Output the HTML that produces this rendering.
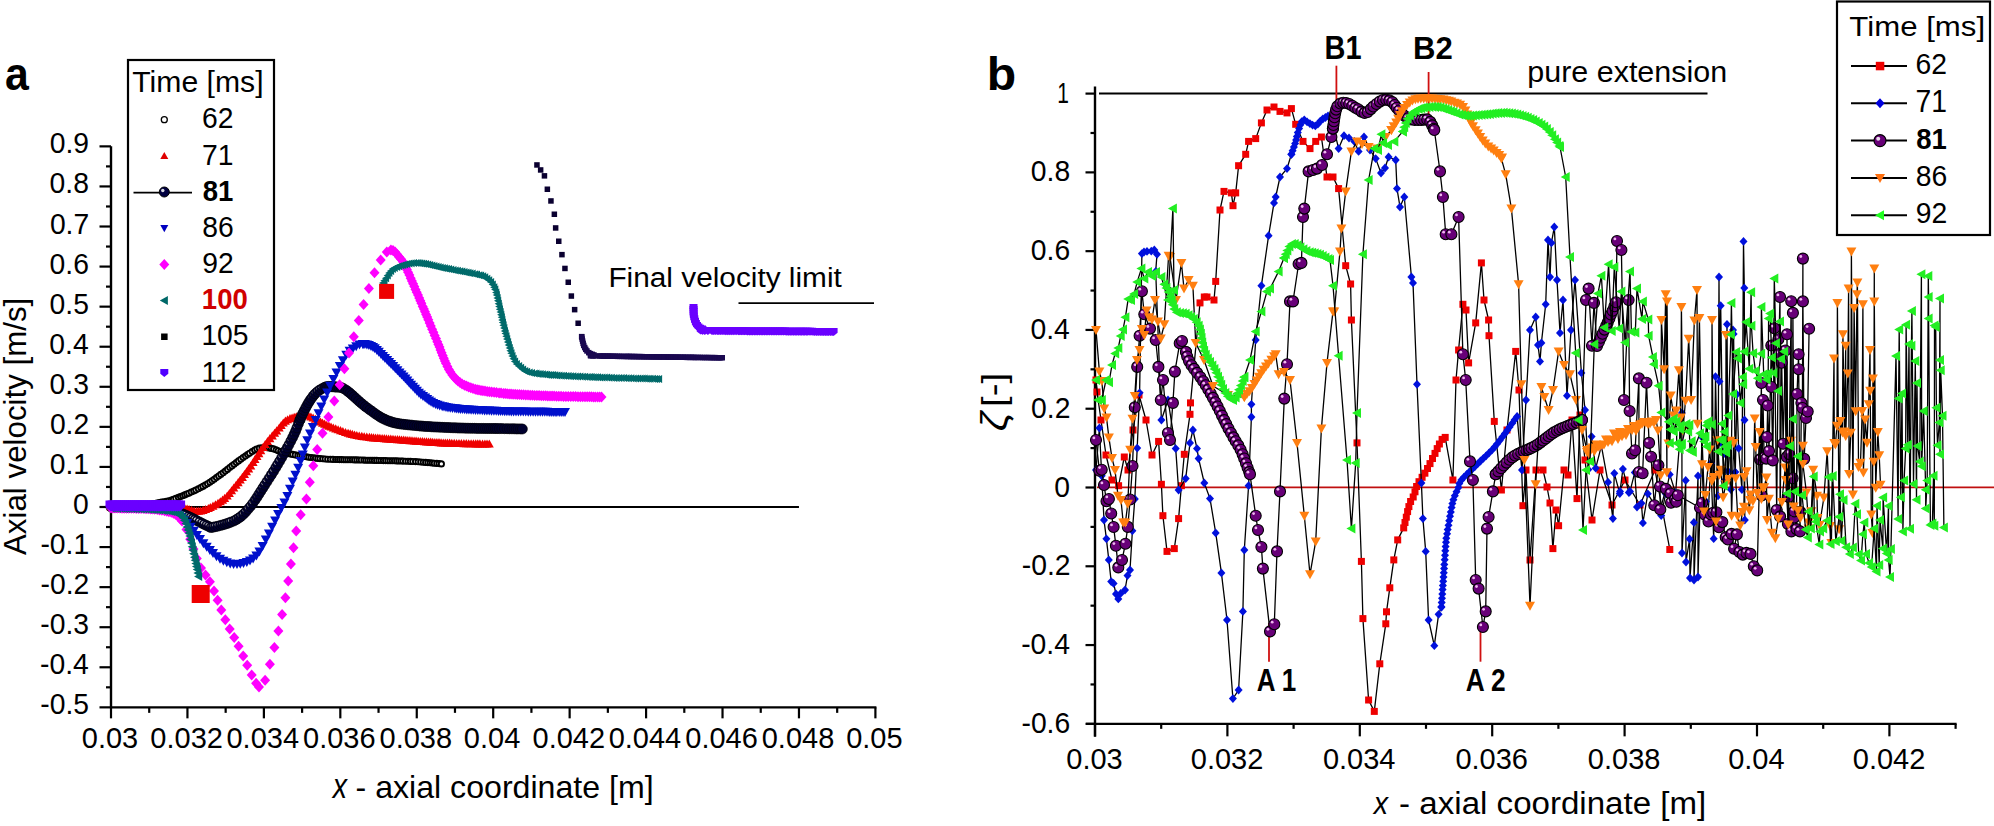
<!DOCTYPE html>
<html><head><meta charset="utf-8"><style>
html,body{margin:0;padding:0;background:#fff;width:1994px;height:826px;overflow:hidden}
svg{display:block}
text{font-family:"Liberation Sans",Arial,sans-serif}
text.B{font-weight:bold}
text.I{font-style:italic}
</style></head><body>
<svg width="1994" height="826" viewBox="0 0 1994 826">
<rect width="1994" height="826" fill="#fff"/>
<line x1="111.00" y1="146.37" x2="111.00" y2="708.35" stroke="#000" stroke-width="2.4"/>
<line x1="110.00" y1="707.35" x2="876.40" y2="707.35" stroke="#000" stroke-width="2.4"/>
<line x1="99.50" y1="707.35" x2="111.00" y2="707.35" stroke="#000" stroke-width="2.2"/>
<line x1="106.00" y1="687.32" x2="111.00" y2="687.32" stroke="#000" stroke-width="2.2"/>
<line x1="99.50" y1="667.28" x2="111.00" y2="667.28" stroke="#000" stroke-width="2.2"/>
<line x1="106.00" y1="647.25" x2="111.00" y2="647.25" stroke="#000" stroke-width="2.2"/>
<line x1="99.50" y1="627.21" x2="111.00" y2="627.21" stroke="#000" stroke-width="2.2"/>
<line x1="106.00" y1="607.17" x2="111.00" y2="607.17" stroke="#000" stroke-width="2.2"/>
<line x1="99.50" y1="587.14" x2="111.00" y2="587.14" stroke="#000" stroke-width="2.2"/>
<line x1="106.00" y1="567.11" x2="111.00" y2="567.11" stroke="#000" stroke-width="2.2"/>
<line x1="99.50" y1="547.07" x2="111.00" y2="547.07" stroke="#000" stroke-width="2.2"/>
<line x1="106.00" y1="527.03" x2="111.00" y2="527.03" stroke="#000" stroke-width="2.2"/>
<line x1="99.50" y1="507.00" x2="111.00" y2="507.00" stroke="#000" stroke-width="2.2"/>
<line x1="106.00" y1="486.96" x2="111.00" y2="486.96" stroke="#000" stroke-width="2.2"/>
<line x1="99.50" y1="466.93" x2="111.00" y2="466.93" stroke="#000" stroke-width="2.2"/>
<line x1="106.00" y1="446.89" x2="111.00" y2="446.89" stroke="#000" stroke-width="2.2"/>
<line x1="99.50" y1="426.86" x2="111.00" y2="426.86" stroke="#000" stroke-width="2.2"/>
<line x1="106.00" y1="406.82" x2="111.00" y2="406.82" stroke="#000" stroke-width="2.2"/>
<line x1="99.50" y1="386.79" x2="111.00" y2="386.79" stroke="#000" stroke-width="2.2"/>
<line x1="106.00" y1="366.75" x2="111.00" y2="366.75" stroke="#000" stroke-width="2.2"/>
<line x1="99.50" y1="346.72" x2="111.00" y2="346.72" stroke="#000" stroke-width="2.2"/>
<line x1="106.00" y1="326.69" x2="111.00" y2="326.69" stroke="#000" stroke-width="2.2"/>
<line x1="99.50" y1="306.65" x2="111.00" y2="306.65" stroke="#000" stroke-width="2.2"/>
<line x1="106.00" y1="286.62" x2="111.00" y2="286.62" stroke="#000" stroke-width="2.2"/>
<line x1="99.50" y1="266.58" x2="111.00" y2="266.58" stroke="#000" stroke-width="2.2"/>
<line x1="106.00" y1="246.55" x2="111.00" y2="246.55" stroke="#000" stroke-width="2.2"/>
<line x1="99.50" y1="226.51" x2="111.00" y2="226.51" stroke="#000" stroke-width="2.2"/>
<line x1="106.00" y1="206.48" x2="111.00" y2="206.48" stroke="#000" stroke-width="2.2"/>
<line x1="99.50" y1="186.44" x2="111.00" y2="186.44" stroke="#000" stroke-width="2.2"/>
<line x1="106.00" y1="166.40" x2="111.00" y2="166.40" stroke="#000" stroke-width="2.2"/>
<line x1="99.50" y1="146.37" x2="111.00" y2="146.37" stroke="#000" stroke-width="2.2"/>
<line x1="111.00" y1="707.35" x2="111.00" y2="718.35" stroke="#000" stroke-width="2.2"/>
<line x1="149.22" y1="707.35" x2="149.22" y2="712.85" stroke="#000" stroke-width="2.2"/>
<line x1="187.44" y1="707.35" x2="187.44" y2="718.35" stroke="#000" stroke-width="2.2"/>
<line x1="225.66" y1="707.35" x2="225.66" y2="712.85" stroke="#000" stroke-width="2.2"/>
<line x1="263.88" y1="707.35" x2="263.88" y2="718.35" stroke="#000" stroke-width="2.2"/>
<line x1="302.10" y1="707.35" x2="302.10" y2="712.85" stroke="#000" stroke-width="2.2"/>
<line x1="340.32" y1="707.35" x2="340.32" y2="718.35" stroke="#000" stroke-width="2.2"/>
<line x1="378.54" y1="707.35" x2="378.54" y2="712.85" stroke="#000" stroke-width="2.2"/>
<line x1="416.76" y1="707.35" x2="416.76" y2="718.35" stroke="#000" stroke-width="2.2"/>
<line x1="454.98" y1="707.35" x2="454.98" y2="712.85" stroke="#000" stroke-width="2.2"/>
<line x1="493.20" y1="707.35" x2="493.20" y2="718.35" stroke="#000" stroke-width="2.2"/>
<line x1="531.42" y1="707.35" x2="531.42" y2="712.85" stroke="#000" stroke-width="2.2"/>
<line x1="569.64" y1="707.35" x2="569.64" y2="718.35" stroke="#000" stroke-width="2.2"/>
<line x1="607.86" y1="707.35" x2="607.86" y2="712.85" stroke="#000" stroke-width="2.2"/>
<line x1="646.08" y1="707.35" x2="646.08" y2="718.35" stroke="#000" stroke-width="2.2"/>
<line x1="684.30" y1="707.35" x2="684.30" y2="712.85" stroke="#000" stroke-width="2.2"/>
<line x1="722.52" y1="707.35" x2="722.52" y2="718.35" stroke="#000" stroke-width="2.2"/>
<line x1="760.74" y1="707.35" x2="760.74" y2="712.85" stroke="#000" stroke-width="2.2"/>
<line x1="798.96" y1="707.35" x2="798.96" y2="718.35" stroke="#000" stroke-width="2.2"/>
<line x1="837.18" y1="707.35" x2="837.18" y2="712.85" stroke="#000" stroke-width="2.2"/>
<line x1="875.40" y1="707.35" x2="875.40" y2="718.35" stroke="#000" stroke-width="2.2"/>
<line x1="111.00" y1="507.00" x2="798.96" y2="507.00" stroke="#000" stroke-width="1.8"/>
<line x1="1095.00" y1="86.60" x2="1095.00" y2="736.84" stroke="#000" stroke-width="2.4"/>
<line x1="1086.00" y1="723.84" x2="1956.60" y2="723.84" stroke="#000" stroke-width="2.4"/>
<line x1="1085.50" y1="723.84" x2="1095.00" y2="723.84" stroke="#000" stroke-width="2.2"/>
<line x1="1090.50" y1="684.45" x2="1095.00" y2="684.45" stroke="#000" stroke-width="2.2"/>
<line x1="1085.50" y1="645.06" x2="1095.00" y2="645.06" stroke="#000" stroke-width="2.2"/>
<line x1="1090.50" y1="605.67" x2="1095.00" y2="605.67" stroke="#000" stroke-width="2.2"/>
<line x1="1085.50" y1="566.28" x2="1095.00" y2="566.28" stroke="#000" stroke-width="2.2"/>
<line x1="1090.50" y1="526.89" x2="1095.00" y2="526.89" stroke="#000" stroke-width="2.2"/>
<line x1="1085.50" y1="487.50" x2="1095.00" y2="487.50" stroke="#000" stroke-width="2.2"/>
<line x1="1090.50" y1="448.11" x2="1095.00" y2="448.11" stroke="#000" stroke-width="2.2"/>
<line x1="1085.50" y1="408.72" x2="1095.00" y2="408.72" stroke="#000" stroke-width="2.2"/>
<line x1="1090.50" y1="369.33" x2="1095.00" y2="369.33" stroke="#000" stroke-width="2.2"/>
<line x1="1085.50" y1="329.94" x2="1095.00" y2="329.94" stroke="#000" stroke-width="2.2"/>
<line x1="1090.50" y1="290.55" x2="1095.00" y2="290.55" stroke="#000" stroke-width="2.2"/>
<line x1="1085.50" y1="251.16" x2="1095.00" y2="251.16" stroke="#000" stroke-width="2.2"/>
<line x1="1090.50" y1="211.77" x2="1095.00" y2="211.77" stroke="#000" stroke-width="2.2"/>
<line x1="1085.50" y1="172.38" x2="1095.00" y2="172.38" stroke="#000" stroke-width="2.2"/>
<line x1="1090.50" y1="132.99" x2="1095.00" y2="132.99" stroke="#000" stroke-width="2.2"/>
<line x1="1085.50" y1="93.60" x2="1095.00" y2="93.60" stroke="#000" stroke-width="2.2"/>
<line x1="1095.00" y1="723.84" x2="1095.00" y2="736.34" stroke="#000" stroke-width="2.2"/>
<line x1="1161.20" y1="723.84" x2="1161.20" y2="728.84" stroke="#000" stroke-width="2.2"/>
<line x1="1227.40" y1="723.84" x2="1227.40" y2="736.34" stroke="#000" stroke-width="2.2"/>
<line x1="1293.60" y1="723.84" x2="1293.60" y2="728.84" stroke="#000" stroke-width="2.2"/>
<line x1="1359.80" y1="723.84" x2="1359.80" y2="736.34" stroke="#000" stroke-width="2.2"/>
<line x1="1426.00" y1="723.84" x2="1426.00" y2="728.84" stroke="#000" stroke-width="2.2"/>
<line x1="1492.20" y1="723.84" x2="1492.20" y2="736.34" stroke="#000" stroke-width="2.2"/>
<line x1="1558.40" y1="723.84" x2="1558.40" y2="728.84" stroke="#000" stroke-width="2.2"/>
<line x1="1624.60" y1="723.84" x2="1624.60" y2="736.34" stroke="#000" stroke-width="2.2"/>
<line x1="1690.80" y1="723.84" x2="1690.80" y2="728.84" stroke="#000" stroke-width="2.2"/>
<line x1="1757.00" y1="723.84" x2="1757.00" y2="736.34" stroke="#000" stroke-width="2.2"/>
<line x1="1823.20" y1="723.84" x2="1823.20" y2="728.84" stroke="#000" stroke-width="2.2"/>
<line x1="1889.40" y1="723.84" x2="1889.40" y2="736.34" stroke="#000" stroke-width="2.2"/>
<line x1="1955.60" y1="723.84" x2="1955.60" y2="728.84" stroke="#000" stroke-width="2.2"/>
<text x="40.26" y="714.36" font-size="29.01" textLength="48.77" lengthAdjust="spacingAndGlyphs" fill="#000" class="R" >-0.5</text>
<text x="39.97" y="674.29" font-size="29.01" textLength="48.77" lengthAdjust="spacingAndGlyphs" fill="#000" class="R" >-0.4</text>
<text x="40.26" y="634.22" font-size="29.01" textLength="48.77" lengthAdjust="spacingAndGlyphs" fill="#000" class="R" >-0.3</text>
<text x="40.54" y="594.15" font-size="29.01" textLength="48.77" lengthAdjust="spacingAndGlyphs" fill="#000" class="R" >-0.2</text>
<text x="40.40" y="554.08" font-size="29.01" textLength="48.77" lengthAdjust="spacingAndGlyphs" fill="#000" class="R" >-0.1</text>
<text x="73.08" y="514.01" font-size="29.01" textLength="15.74" lengthAdjust="spacingAndGlyphs" fill="#000" class="R" >0</text>
<text x="49.74" y="473.94" font-size="29.01" textLength="39.34" lengthAdjust="spacingAndGlyphs" fill="#000" class="R" >0.1</text>
<text x="49.88" y="433.87" font-size="29.01" textLength="39.34" lengthAdjust="spacingAndGlyphs" fill="#000" class="R" >0.2</text>
<text x="49.59" y="393.80" font-size="29.01" textLength="39.34" lengthAdjust="spacingAndGlyphs" fill="#000" class="R" >0.3</text>
<text x="49.31" y="353.73" font-size="29.01" textLength="39.34" lengthAdjust="spacingAndGlyphs" fill="#000" class="R" >0.4</text>
<text x="49.59" y="313.66" font-size="29.01" textLength="39.34" lengthAdjust="spacingAndGlyphs" fill="#000" class="R" >0.5</text>
<text x="49.59" y="273.59" font-size="29.01" textLength="39.34" lengthAdjust="spacingAndGlyphs" fill="#000" class="R" >0.6</text>
<text x="49.88" y="233.52" font-size="29.01" textLength="39.34" lengthAdjust="spacingAndGlyphs" fill="#000" class="R" >0.7</text>
<text x="49.59" y="193.45" font-size="29.01" textLength="39.34" lengthAdjust="spacingAndGlyphs" fill="#000" class="R" >0.8</text>
<text x="49.74" y="153.38" font-size="29.01" textLength="39.34" lengthAdjust="spacingAndGlyphs" fill="#000" class="R" >0.9</text>
<text x="81.80" y="747.90" font-size="29.86" textLength="56.44" lengthAdjust="spacingAndGlyphs" fill="#000" class="R" >0.03</text>
<text x="150.34" y="747.90" font-size="29.86" textLength="72.57" lengthAdjust="spacingAndGlyphs" fill="#000" class="R" >0.032</text>
<text x="226.49" y="747.90" font-size="29.86" textLength="72.57" lengthAdjust="spacingAndGlyphs" fill="#000" class="R" >0.034</text>
<text x="303.07" y="747.90" font-size="29.86" textLength="72.57" lengthAdjust="spacingAndGlyphs" fill="#000" class="R" >0.036</text>
<text x="379.51" y="747.90" font-size="29.86" textLength="72.57" lengthAdjust="spacingAndGlyphs" fill="#000" class="R" >0.038</text>
<text x="463.85" y="747.90" font-size="29.86" textLength="56.44" lengthAdjust="spacingAndGlyphs" fill="#000" class="R" >0.04</text>
<text x="532.53" y="747.90" font-size="29.86" textLength="72.57" lengthAdjust="spacingAndGlyphs" fill="#000" class="R" >0.042</text>
<text x="608.68" y="747.90" font-size="29.86" textLength="72.57" lengthAdjust="spacingAndGlyphs" fill="#000" class="R" >0.044</text>
<text x="685.27" y="747.90" font-size="29.86" textLength="72.57" lengthAdjust="spacingAndGlyphs" fill="#000" class="R" >0.046</text>
<text x="761.71" y="747.90" font-size="29.86" textLength="72.57" lengthAdjust="spacingAndGlyphs" fill="#000" class="R" >0.048</text>
<text x="846.20" y="747.90" font-size="29.86" textLength="56.44" lengthAdjust="spacingAndGlyphs" fill="#000" class="R" >0.05</text>
<text x="1021.46" y="732.95" font-size="29.30" textLength="48.77" lengthAdjust="spacingAndGlyphs" fill="#000" class="R" >-0.6</text>
<text x="1021.17" y="654.17" font-size="29.30" textLength="48.77" lengthAdjust="spacingAndGlyphs" fill="#000" class="R" >-0.4</text>
<text x="1021.74" y="575.39" font-size="29.30" textLength="48.77" lengthAdjust="spacingAndGlyphs" fill="#000" class="R" >-0.2</text>
<text x="1054.28" y="496.61" font-size="29.30" textLength="15.74" lengthAdjust="spacingAndGlyphs" fill="#000" class="R" >0</text>
<text x="1031.08" y="417.83" font-size="29.30" textLength="39.34" lengthAdjust="spacingAndGlyphs" fill="#000" class="R" >0.2</text>
<text x="1030.51" y="339.05" font-size="29.30" textLength="39.34" lengthAdjust="spacingAndGlyphs" fill="#000" class="R" >0.4</text>
<text x="1030.79" y="260.27" font-size="29.30" textLength="39.34" lengthAdjust="spacingAndGlyphs" fill="#000" class="R" >0.6</text>
<text x="1030.79" y="181.49" font-size="29.30" textLength="39.34" lengthAdjust="spacingAndGlyphs" fill="#000" class="R" >0.8</text>
<text x="1057.29" y="103.00" font-size="30.14" textLength="11.68" lengthAdjust="spacingAndGlyphs" fill="#000" class="R" >1</text>
<text x="1066.30" y="769.00" font-size="29.58" textLength="56.44" lengthAdjust="spacingAndGlyphs" fill="#000" class="R" >0.03</text>
<text x="1190.80" y="769.00" font-size="29.58" textLength="72.57" lengthAdjust="spacingAndGlyphs" fill="#000" class="R" >0.032</text>
<text x="1322.91" y="769.00" font-size="29.58" textLength="72.57" lengthAdjust="spacingAndGlyphs" fill="#000" class="R" >0.034</text>
<text x="1455.45" y="769.00" font-size="29.58" textLength="72.57" lengthAdjust="spacingAndGlyphs" fill="#000" class="R" >0.036</text>
<text x="1587.85" y="769.00" font-size="29.58" textLength="72.57" lengthAdjust="spacingAndGlyphs" fill="#000" class="R" >0.038</text>
<text x="1728.15" y="769.00" font-size="29.58" textLength="56.44" lengthAdjust="spacingAndGlyphs" fill="#000" class="R" >0.04</text>
<text x="1852.79" y="769.00" font-size="29.58" textLength="72.57" lengthAdjust="spacingAndGlyphs" fill="#000" class="R" >0.042</text>
<text x="5.12" y="89.55" font-size="45.45" textLength="23.81" lengthAdjust="spacingAndGlyphs" fill="#000" class="B" >a</text>
<text x="986.87" y="89.54" font-size="45.71" textLength="29.39" lengthAdjust="spacingAndGlyphs" fill="#000" class="B" >b</text>
<text transform="translate(25.54,555.00) rotate(-90)" x="0" y="0" font-size="31.23" textLength="257.32" lengthAdjust="spacingAndGlyphs" fill="#000" class="R" >Axial velocity [m/s]</text>
<text x="332.84" y="798.40" font-size="35.09" textLength="14.30" lengthAdjust="spacingAndGlyphs" fill="#000" class="I" >x</text>
<text x="355.55" y="797.71" font-size="30.91" textLength="298.06" lengthAdjust="spacingAndGlyphs" fill="#000" class="R" >- axial coordinate [m]</text>
<text x="1373.74" y="814.20" font-size="30.75" textLength="14.30" lengthAdjust="spacingAndGlyphs" fill="#000" class="I" >x</text>
<text x="1399.11" y="813.76" font-size="32.09" textLength="307.17" lengthAdjust="spacingAndGlyphs" fill="#000" class="R" >- axial coordinate [m]</text>
<text x="608.42" y="287.01" font-size="27.59" textLength="233.39" lengthAdjust="spacingAndGlyphs" fill="#000" class="R" >Final velocity limit</text>
<line x1="738.50" y1="303.20" x2="874.00" y2="303.20" stroke="#000" stroke-width="1.8"/>
<text x="1527.32" y="81.94" font-size="28.88" textLength="199.77" lengthAdjust="spacingAndGlyphs" fill="#000" class="R" >pure extension</text>
<line x1="1099.00" y1="93.60" x2="1707.50" y2="93.60" stroke="#000" stroke-width="2.0"/>
<text x="1324.52" y="58.90" font-size="32.61" textLength="37.00" lengthAdjust="spacingAndGlyphs" fill="#000" class="B" >B1</text>
<text x="1412.98" y="58.90" font-size="32.14" textLength="39.77" lengthAdjust="spacingAndGlyphs" fill="#000" class="B" >B2</text>
<line x1="1336.40" y1="65.70" x2="1336.40" y2="104.30" stroke="#d01010" stroke-width="1.8"/>
<line x1="1428.60" y1="72.00" x2="1428.60" y2="118.60" stroke="#d01010" stroke-width="1.8"/>
<text x="1256.85" y="690.80" font-size="31.59" textLength="39.47" lengthAdjust="spacingAndGlyphs" fill="#000" class="B" >A 1</text>
<line x1="1269.00" y1="623.00" x2="1269.00" y2="661.70" stroke="#d01010" stroke-width="1.8"/>
<text x="1465.84" y="690.80" font-size="31.14" textLength="39.88" lengthAdjust="spacingAndGlyphs" fill="#000" class="B" >A 2</text>
<line x1="1480.50" y1="623.00" x2="1480.50" y2="661.70" stroke="#d01010" stroke-width="1.8"/>
<text transform="translate(1005.13,406.99) rotate(-90)" x="0" y="0" font-size="32.73" textLength="34.12" lengthAdjust="spacingAndGlyphs" fill="#000" class="R" >[-]</text>
<text transform="translate(1007.44,431.26) rotate(-90)" x="0" y="0" font-size="36.46" textLength="19.51" lengthAdjust="spacingAndGlyphs" fill="#000" class="I" >ζ</text>
<circle cx="111.0" cy="507.0" r="2.6" fill="#fff" stroke="#000" stroke-width="1.9"/>
<circle cx="113.2" cy="506.9" r="2.6" fill="#fff" stroke="#000" stroke-width="1.9"/>
<circle cx="115.4" cy="506.9" r="2.6" fill="#fff" stroke="#000" stroke-width="1.9"/>
<circle cx="118.1" cy="506.9" r="2.6" fill="#fff" stroke="#000" stroke-width="1.9"/>
<circle cx="120.2" cy="506.8" r="2.6" fill="#fff" stroke="#000" stroke-width="1.9"/>
<circle cx="122.5" cy="506.8" r="2.6" fill="#fff" stroke="#000" stroke-width="1.9"/>
<circle cx="124.9" cy="506.7" r="2.6" fill="#fff" stroke="#000" stroke-width="1.9"/>
<circle cx="127.3" cy="506.7" r="2.6" fill="#fff" stroke="#000" stroke-width="1.9"/>
<circle cx="129.8" cy="506.6" r="2.6" fill="#fff" stroke="#000" stroke-width="1.9"/>
<circle cx="132.2" cy="506.5" r="2.6" fill="#fff" stroke="#000" stroke-width="1.9"/>
<circle cx="134.5" cy="506.4" r="2.6" fill="#fff" stroke="#000" stroke-width="1.9"/>
<circle cx="136.7" cy="506.3" r="2.6" fill="#fff" stroke="#000" stroke-width="1.9"/>
<circle cx="138.7" cy="506.1" r="2.6" fill="#fff" stroke="#000" stroke-width="1.9"/>
<circle cx="140.8" cy="505.9" r="2.6" fill="#fff" stroke="#000" stroke-width="1.9"/>
<circle cx="143.2" cy="505.6" r="2.6" fill="#fff" stroke="#000" stroke-width="1.9"/>
<circle cx="145.5" cy="505.3" r="2.6" fill="#fff" stroke="#000" stroke-width="1.9"/>
<circle cx="147.8" cy="504.9" r="2.6" fill="#fff" stroke="#000" stroke-width="1.9"/>
<circle cx="150.1" cy="504.5" r="2.6" fill="#fff" stroke="#000" stroke-width="1.9"/>
<circle cx="152.2" cy="504.1" r="2.6" fill="#fff" stroke="#000" stroke-width="1.9"/>
<circle cx="154.3" cy="503.6" r="2.6" fill="#fff" stroke="#000" stroke-width="1.9"/>
<circle cx="156.9" cy="503.1" r="2.6" fill="#fff" stroke="#000" stroke-width="1.9"/>
<circle cx="159.3" cy="502.5" r="2.6" fill="#fff" stroke="#000" stroke-width="1.9"/>
<circle cx="161.5" cy="502.1" r="2.6" fill="#fff" stroke="#000" stroke-width="1.9"/>
<circle cx="163.9" cy="501.7" r="2.6" fill="#fff" stroke="#000" stroke-width="1.9"/>
<circle cx="166.3" cy="501.3" r="2.6" fill="#fff" stroke="#000" stroke-width="1.9"/>
<circle cx="168.8" cy="500.8" r="2.6" fill="#fff" stroke="#000" stroke-width="1.9"/>
<circle cx="171.4" cy="500.0" r="2.6" fill="#fff" stroke="#000" stroke-width="1.9"/>
<circle cx="173.4" cy="499.3" r="2.6" fill="#fff" stroke="#000" stroke-width="1.9"/>
<circle cx="175.8" cy="498.4" r="2.6" fill="#fff" stroke="#000" stroke-width="1.9"/>
<circle cx="178.4" cy="497.4" r="2.6" fill="#fff" stroke="#000" stroke-width="1.9"/>
<circle cx="180.5" cy="496.6" r="2.6" fill="#fff" stroke="#000" stroke-width="1.9"/>
<circle cx="182.6" cy="495.8" r="2.6" fill="#fff" stroke="#000" stroke-width="1.9"/>
<circle cx="184.7" cy="494.9" r="2.6" fill="#fff" stroke="#000" stroke-width="1.9"/>
<circle cx="186.7" cy="494.0" r="2.6" fill="#fff" stroke="#000" stroke-width="1.9"/>
<circle cx="188.8" cy="493.2" r="2.6" fill="#fff" stroke="#000" stroke-width="1.9"/>
<circle cx="191.2" cy="492.1" r="2.6" fill="#fff" stroke="#000" stroke-width="1.9"/>
<circle cx="193.7" cy="491.1" r="2.6" fill="#fff" stroke="#000" stroke-width="1.9"/>
<circle cx="195.8" cy="490.1" r="2.6" fill="#fff" stroke="#000" stroke-width="1.9"/>
<circle cx="198.3" cy="488.8" r="2.6" fill="#fff" stroke="#000" stroke-width="1.9"/>
<circle cx="200.7" cy="487.6" r="2.6" fill="#fff" stroke="#000" stroke-width="1.9"/>
<circle cx="202.9" cy="486.4" r="2.6" fill="#fff" stroke="#000" stroke-width="1.9"/>
<circle cx="205.2" cy="485.1" r="2.6" fill="#fff" stroke="#000" stroke-width="1.9"/>
<circle cx="207.5" cy="483.7" r="2.6" fill="#fff" stroke="#000" stroke-width="1.9"/>
<circle cx="209.8" cy="482.3" r="2.6" fill="#fff" stroke="#000" stroke-width="1.9"/>
<circle cx="212.0" cy="480.8" r="2.6" fill="#fff" stroke="#000" stroke-width="1.9"/>
<circle cx="214.2" cy="479.2" r="2.6" fill="#fff" stroke="#000" stroke-width="1.9"/>
<circle cx="216.4" cy="477.6" r="2.6" fill="#fff" stroke="#000" stroke-width="1.9"/>
<circle cx="218.6" cy="476.0" r="2.6" fill="#fff" stroke="#000" stroke-width="1.9"/>
<circle cx="220.8" cy="474.4" r="2.6" fill="#fff" stroke="#000" stroke-width="1.9"/>
<circle cx="223.1" cy="472.8" r="2.6" fill="#fff" stroke="#000" stroke-width="1.9"/>
<circle cx="225.3" cy="471.1" r="2.6" fill="#fff" stroke="#000" stroke-width="1.9"/>
<circle cx="227.5" cy="469.4" r="2.6" fill="#fff" stroke="#000" stroke-width="1.9"/>
<circle cx="229.7" cy="467.6" r="2.6" fill="#fff" stroke="#000" stroke-width="1.9"/>
<circle cx="231.9" cy="465.9" r="2.6" fill="#fff" stroke="#000" stroke-width="1.9"/>
<circle cx="234.1" cy="464.2" r="2.6" fill="#fff" stroke="#000" stroke-width="1.9"/>
<circle cx="236.3" cy="462.6" r="2.6" fill="#fff" stroke="#000" stroke-width="1.9"/>
<circle cx="238.5" cy="460.9" r="2.6" fill="#fff" stroke="#000" stroke-width="1.9"/>
<circle cx="240.8" cy="459.2" r="2.6" fill="#fff" stroke="#000" stroke-width="1.9"/>
<circle cx="243.1" cy="457.6" r="2.6" fill="#fff" stroke="#000" stroke-width="1.9"/>
<circle cx="245.4" cy="456.0" r="2.6" fill="#fff" stroke="#000" stroke-width="1.9"/>
<circle cx="247.5" cy="454.5" r="2.6" fill="#fff" stroke="#000" stroke-width="1.9"/>
<circle cx="249.5" cy="453.2" r="2.6" fill="#fff" stroke="#000" stroke-width="1.9"/>
<circle cx="252.1" cy="451.6" r="2.6" fill="#fff" stroke="#000" stroke-width="1.9"/>
<circle cx="254.6" cy="450.1" r="2.6" fill="#fff" stroke="#000" stroke-width="1.9"/>
<circle cx="256.9" cy="449.0" r="2.6" fill="#fff" stroke="#000" stroke-width="1.9"/>
<circle cx="259.3" cy="448.1" r="2.6" fill="#fff" stroke="#000" stroke-width="1.9"/>
<circle cx="261.9" cy="447.7" r="2.6" fill="#fff" stroke="#000" stroke-width="1.9"/>
<circle cx="264.4" cy="447.6" r="2.6" fill="#fff" stroke="#000" stroke-width="1.9"/>
<circle cx="267.1" cy="447.8" r="2.6" fill="#fff" stroke="#000" stroke-width="1.9"/>
<circle cx="269.2" cy="448.0" r="2.6" fill="#fff" stroke="#000" stroke-width="1.9"/>
<circle cx="271.3" cy="448.4" r="2.6" fill="#fff" stroke="#000" stroke-width="1.9"/>
<circle cx="273.6" cy="448.9" r="2.6" fill="#fff" stroke="#000" stroke-width="1.9"/>
<circle cx="276.1" cy="449.8" r="2.6" fill="#fff" stroke="#000" stroke-width="1.9"/>
<circle cx="278.2" cy="450.7" r="2.6" fill="#fff" stroke="#000" stroke-width="1.9"/>
<circle cx="280.7" cy="451.6" r="2.6" fill="#fff" stroke="#000" stroke-width="1.9"/>
<circle cx="283.1" cy="452.3" r="2.6" fill="#fff" stroke="#000" stroke-width="1.9"/>
<circle cx="286.0" cy="453.0" r="2.6" fill="#fff" stroke="#000" stroke-width="1.9"/>
<circle cx="288.0" cy="453.4" r="2.6" fill="#fff" stroke="#000" stroke-width="1.9"/>
<circle cx="290.2" cy="453.9" r="2.6" fill="#fff" stroke="#000" stroke-width="1.9"/>
<circle cx="292.6" cy="454.4" r="2.6" fill="#fff" stroke="#000" stroke-width="1.9"/>
<circle cx="295.2" cy="454.9" r="2.6" fill="#fff" stroke="#000" stroke-width="1.9"/>
<circle cx="297.9" cy="455.4" r="2.6" fill="#fff" stroke="#000" stroke-width="1.9"/>
<circle cx="300.0" cy="455.7" r="2.6" fill="#fff" stroke="#000" stroke-width="1.9"/>
<circle cx="302.1" cy="456.1" r="2.6" fill="#fff" stroke="#000" stroke-width="1.9"/>
<circle cx="304.3" cy="456.5" r="2.6" fill="#fff" stroke="#000" stroke-width="1.9"/>
<circle cx="306.5" cy="456.8" r="2.6" fill="#fff" stroke="#000" stroke-width="1.9"/>
<circle cx="308.7" cy="457.2" r="2.6" fill="#fff" stroke="#000" stroke-width="1.9"/>
<circle cx="311.0" cy="457.5" r="2.6" fill="#fff" stroke="#000" stroke-width="1.9"/>
<circle cx="313.3" cy="457.8" r="2.6" fill="#fff" stroke="#000" stroke-width="1.9"/>
<circle cx="315.5" cy="458.1" r="2.6" fill="#fff" stroke="#000" stroke-width="1.9"/>
<circle cx="317.8" cy="458.4" r="2.6" fill="#fff" stroke="#000" stroke-width="1.9"/>
<circle cx="320.0" cy="458.6" r="2.6" fill="#fff" stroke="#000" stroke-width="1.9"/>
<circle cx="322.6" cy="458.8" r="2.6" fill="#fff" stroke="#000" stroke-width="1.9"/>
<circle cx="325.1" cy="459.0" r="2.6" fill="#fff" stroke="#000" stroke-width="1.9"/>
<circle cx="327.7" cy="459.2" r="2.6" fill="#fff" stroke="#000" stroke-width="1.9"/>
<circle cx="330.3" cy="459.3" r="2.6" fill="#fff" stroke="#000" stroke-width="1.9"/>
<circle cx="332.9" cy="459.4" r="2.6" fill="#fff" stroke="#000" stroke-width="1.9"/>
<circle cx="335.6" cy="459.5" r="2.6" fill="#fff" stroke="#000" stroke-width="1.9"/>
<circle cx="337.6" cy="459.5" r="2.6" fill="#fff" stroke="#000" stroke-width="1.9"/>
<circle cx="339.6" cy="459.6" r="2.6" fill="#fff" stroke="#000" stroke-width="1.9"/>
<circle cx="341.7" cy="459.6" r="2.6" fill="#fff" stroke="#000" stroke-width="1.9"/>
<circle cx="343.8" cy="459.7" r="2.6" fill="#fff" stroke="#000" stroke-width="1.9"/>
<circle cx="345.9" cy="459.7" r="2.6" fill="#fff" stroke="#000" stroke-width="1.9"/>
<circle cx="348.0" cy="459.7" r="2.6" fill="#fff" stroke="#000" stroke-width="1.9"/>
<circle cx="350.2" cy="459.8" r="2.6" fill="#fff" stroke="#000" stroke-width="1.9"/>
<circle cx="352.4" cy="459.8" r="2.6" fill="#fff" stroke="#000" stroke-width="1.9"/>
<circle cx="354.6" cy="459.9" r="2.6" fill="#fff" stroke="#000" stroke-width="1.9"/>
<circle cx="356.9" cy="459.9" r="2.6" fill="#fff" stroke="#000" stroke-width="1.9"/>
<circle cx="359.2" cy="460.0" r="2.6" fill="#fff" stroke="#000" stroke-width="1.9"/>
<circle cx="361.3" cy="460.0" r="2.6" fill="#fff" stroke="#000" stroke-width="1.9"/>
<circle cx="363.9" cy="460.1" r="2.6" fill="#fff" stroke="#000" stroke-width="1.9"/>
<circle cx="365.9" cy="460.2" r="2.6" fill="#fff" stroke="#000" stroke-width="1.9"/>
<circle cx="368.0" cy="460.2" r="2.6" fill="#fff" stroke="#000" stroke-width="1.9"/>
<circle cx="370.1" cy="460.3" r="2.6" fill="#fff" stroke="#000" stroke-width="1.9"/>
<circle cx="372.2" cy="460.3" r="2.6" fill="#fff" stroke="#000" stroke-width="1.9"/>
<circle cx="374.4" cy="460.4" r="2.6" fill="#fff" stroke="#000" stroke-width="1.9"/>
<circle cx="376.6" cy="460.4" r="2.6" fill="#fff" stroke="#000" stroke-width="1.9"/>
<circle cx="378.9" cy="460.5" r="2.6" fill="#fff" stroke="#000" stroke-width="1.9"/>
<circle cx="381.1" cy="460.5" r="2.6" fill="#fff" stroke="#000" stroke-width="1.9"/>
<circle cx="383.4" cy="460.6" r="2.6" fill="#fff" stroke="#000" stroke-width="1.9"/>
<circle cx="385.6" cy="460.6" r="2.6" fill="#fff" stroke="#000" stroke-width="1.9"/>
<circle cx="387.9" cy="460.7" r="2.6" fill="#fff" stroke="#000" stroke-width="1.9"/>
<circle cx="390.1" cy="460.7" r="2.6" fill="#fff" stroke="#000" stroke-width="1.9"/>
<circle cx="392.3" cy="460.8" r="2.6" fill="#fff" stroke="#000" stroke-width="1.9"/>
<circle cx="394.5" cy="460.8" r="2.6" fill="#fff" stroke="#000" stroke-width="1.9"/>
<circle cx="396.7" cy="460.9" r="2.6" fill="#fff" stroke="#000" stroke-width="1.9"/>
<circle cx="398.8" cy="461.0" r="2.6" fill="#fff" stroke="#000" stroke-width="1.9"/>
<circle cx="400.9" cy="461.0" r="2.6" fill="#fff" stroke="#000" stroke-width="1.9"/>
<circle cx="402.9" cy="461.1" r="2.6" fill="#fff" stroke="#000" stroke-width="1.9"/>
<circle cx="405.5" cy="461.2" r="2.6" fill="#fff" stroke="#000" stroke-width="1.9"/>
<circle cx="408.0" cy="461.3" r="2.6" fill="#fff" stroke="#000" stroke-width="1.9"/>
<circle cx="410.4" cy="461.4" r="2.6" fill="#fff" stroke="#000" stroke-width="1.9"/>
<circle cx="412.8" cy="461.5" r="2.6" fill="#fff" stroke="#000" stroke-width="1.9"/>
<circle cx="415.5" cy="461.6" r="2.6" fill="#fff" stroke="#000" stroke-width="1.9"/>
<circle cx="418.1" cy="461.8" r="2.6" fill="#fff" stroke="#000" stroke-width="1.9"/>
<circle cx="420.7" cy="462.0" r="2.6" fill="#fff" stroke="#000" stroke-width="1.9"/>
<circle cx="423.2" cy="462.2" r="2.6" fill="#fff" stroke="#000" stroke-width="1.9"/>
<circle cx="425.6" cy="462.4" r="2.6" fill="#fff" stroke="#000" stroke-width="1.9"/>
<circle cx="427.9" cy="462.6" r="2.6" fill="#fff" stroke="#000" stroke-width="1.9"/>
<circle cx="430.2" cy="462.8" r="2.6" fill="#fff" stroke="#000" stroke-width="1.9"/>
<circle cx="432.3" cy="463.0" r="2.6" fill="#fff" stroke="#000" stroke-width="1.9"/>
<circle cx="434.3" cy="463.2" r="2.6" fill="#fff" stroke="#000" stroke-width="1.9"/>
<circle cx="436.8" cy="463.4" r="2.6" fill="#fff" stroke="#000" stroke-width="1.9"/>
<circle cx="439.1" cy="463.6" r="2.6" fill="#fff" stroke="#000" stroke-width="1.9"/>
<circle cx="441.4" cy="463.9" r="2.6" fill="#fff" stroke="#000" stroke-width="1.9"/>
<path d="M111.0 502.5L115.5 510.6L106.5 510.6Z" fill="#ee0000"/>
<path d="M113.1 502.5L117.6 510.6L108.6 510.6Z" fill="#ee0000"/>
<path d="M115.1 502.6L119.6 510.7L110.6 510.7Z" fill="#ee0000"/>
<path d="M117.5 502.6L122.0 510.7L113.0 510.7Z" fill="#ee0000"/>
<path d="M120.2 502.6L124.7 510.7L115.7 510.7Z" fill="#ee0000"/>
<path d="M122.4 502.6L126.9 510.7L117.9 510.7Z" fill="#ee0000"/>
<path d="M124.6 502.7L129.1 510.8L120.1 510.8Z" fill="#ee0000"/>
<path d="M126.9 502.7L131.4 510.8L122.4 510.8Z" fill="#ee0000"/>
<path d="M129.3 502.7L133.8 510.8L124.8 510.8Z" fill="#ee0000"/>
<path d="M131.8 502.8L136.3 510.9L127.3 510.9Z" fill="#ee0000"/>
<path d="M134.2 502.8L138.7 510.9L129.7 510.9Z" fill="#ee0000"/>
<path d="M136.7 502.8L141.2 510.9L132.2 510.9Z" fill="#ee0000"/>
<path d="M139.1 502.9L143.6 511.0L134.6 511.0Z" fill="#ee0000"/>
<path d="M141.4 502.9L145.9 511.0L136.9 511.0Z" fill="#ee0000"/>
<path d="M143.7 502.9L148.2 511.0L139.2 511.0Z" fill="#ee0000"/>
<path d="M145.9 502.9L150.4 511.0L141.4 511.0Z" fill="#ee0000"/>
<path d="M148.0 503.0L152.5 511.1L143.5 511.1Z" fill="#ee0000"/>
<path d="M150.8 503.0L155.3 511.1L146.3 511.1Z" fill="#ee0000"/>
<path d="M153.1 503.0L157.6 511.1L148.6 511.1Z" fill="#ee0000"/>
<path d="M155.4 503.1L159.9 511.2L150.9 511.2Z" fill="#ee0000"/>
<path d="M157.7 503.1L162.2 511.2L153.2 511.2Z" fill="#ee0000"/>
<path d="M160.0 503.1L164.5 511.2L155.5 511.2Z" fill="#ee0000"/>
<path d="M162.2 503.1L166.7 511.2L157.7 511.2Z" fill="#ee0000"/>
<path d="M164.5 503.1L169.0 511.2L160.0 511.2Z" fill="#ee0000"/>
<path d="M166.6 503.1L171.1 511.2L162.1 511.2Z" fill="#ee0000"/>
<path d="M168.7 503.1L173.2 511.2L164.2 511.2Z" fill="#ee0000"/>
<path d="M170.8 503.1L175.3 511.2L166.3 511.2Z" fill="#ee0000"/>
<path d="M172.8 503.2L177.3 511.3L168.3 511.3Z" fill="#ee0000"/>
<path d="M175.4 503.2L179.9 511.3L170.9 511.3Z" fill="#ee0000"/>
<path d="M177.9 503.3L182.4 511.4L173.4 511.4Z" fill="#ee0000"/>
<path d="M180.3 503.4L184.8 511.5L175.8 511.5Z" fill="#ee0000"/>
<path d="M182.3 503.6L186.8 511.7L177.8 511.7Z" fill="#ee0000"/>
<path d="M184.8 503.9L189.3 512.0L180.3 512.0Z" fill="#ee0000"/>
<path d="M187.1 504.4L191.6 512.5L182.6 512.5Z" fill="#ee0000"/>
<path d="M189.1 505.0L193.6 513.1L184.6 513.1Z" fill="#ee0000"/>
<path d="M191.6 505.7L196.1 513.8L187.1 513.8Z" fill="#ee0000"/>
<path d="M194.1 506.4L198.6 514.5L189.6 514.5Z" fill="#ee0000"/>
<path d="M196.6 506.7L201.1 514.8L192.1 514.8Z" fill="#ee0000"/>
<path d="M198.6 506.7L203.1 514.8L194.1 514.8Z" fill="#ee0000"/>
<path d="M200.6 506.4L205.1 514.5L196.1 514.5Z" fill="#ee0000"/>
<path d="M203.1 505.8L207.6 513.9L198.6 513.9Z" fill="#ee0000"/>
<path d="M205.6 504.9L210.1 513.0L201.1 513.0Z" fill="#ee0000"/>
<path d="M208.3 503.9L212.8 512.0L203.8 512.0Z" fill="#ee0000"/>
<path d="M210.3 503.0L214.8 511.1L205.8 511.1Z" fill="#ee0000"/>
<path d="M213.0 501.6L217.5 509.7L208.5 509.7Z" fill="#ee0000"/>
<path d="M215.5 500.2L220.0 508.3L211.0 508.3Z" fill="#ee0000"/>
<path d="M218.0 498.7L222.5 506.8L213.5 506.8Z" fill="#ee0000"/>
<path d="M220.3 497.2L224.8 505.3L215.8 505.3Z" fill="#ee0000"/>
<path d="M222.6 495.6L227.1 503.7L218.1 503.7Z" fill="#ee0000"/>
<path d="M224.7 493.8L229.2 501.9L220.2 501.9Z" fill="#ee0000"/>
<path d="M227.2 491.4L231.7 499.5L222.7 499.5Z" fill="#ee0000"/>
<path d="M229.4 488.9L233.9 497.0L224.9 497.0Z" fill="#ee0000"/>
<path d="M231.6 486.2L236.1 494.3L227.1 494.3Z" fill="#ee0000"/>
<path d="M233.8 483.5L238.3 491.6L229.3 491.6Z" fill="#ee0000"/>
<path d="M236.1 480.7L240.6 488.8L231.6 488.8Z" fill="#ee0000"/>
<path d="M238.2 478.1L242.7 486.2L233.7 486.2Z" fill="#ee0000"/>
<path d="M240.3 475.5L244.8 483.6L235.8 483.6Z" fill="#ee0000"/>
<path d="M242.4 472.8L246.9 480.9L237.9 480.9Z" fill="#ee0000"/>
<path d="M244.5 470.0L249.0 478.1L240.0 478.1Z" fill="#ee0000"/>
<path d="M246.6 467.2L251.1 475.3L242.1 475.3Z" fill="#ee0000"/>
<path d="M248.7 464.3L253.2 472.4L244.2 472.4Z" fill="#ee0000"/>
<path d="M250.8 461.4L255.3 469.5L246.3 469.5Z" fill="#ee0000"/>
<path d="M253.1 458.0L257.6 466.1L248.6 466.1Z" fill="#ee0000"/>
<path d="M255.0 455.0L259.5 463.1L250.5 463.1Z" fill="#ee0000"/>
<path d="M257.0 452.0L261.5 460.1L252.5 460.1Z" fill="#ee0000"/>
<path d="M258.9 449.1L263.4 457.2L254.4 457.2Z" fill="#ee0000"/>
<path d="M260.8 446.1L265.3 454.2L256.3 454.2Z" fill="#ee0000"/>
<path d="M263.1 442.8L267.6 450.9L258.6 450.9Z" fill="#ee0000"/>
<path d="M265.2 440.0L269.7 448.1L260.7 448.1Z" fill="#ee0000"/>
<path d="M267.5 437.0L272.0 445.1L263.0 445.1Z" fill="#ee0000"/>
<path d="M269.9 434.1L274.4 442.2L265.4 442.2Z" fill="#ee0000"/>
<path d="M272.3 431.3L276.8 439.4L267.8 439.4Z" fill="#ee0000"/>
<path d="M274.6 428.7L279.1 436.8L270.1 436.8Z" fill="#ee0000"/>
<path d="M276.7 426.3L281.2 434.4L272.2 434.4Z" fill="#ee0000"/>
<path d="M279.2 423.4L283.7 431.5L274.7 431.5Z" fill="#ee0000"/>
<path d="M281.2 421.0L285.7 429.1L276.7 429.1Z" fill="#ee0000"/>
<path d="M283.3 418.5L287.8 426.6L278.8 426.6Z" fill="#ee0000"/>
<path d="M285.4 416.6L289.9 424.7L280.9 424.7Z" fill="#ee0000"/>
<path d="M287.6 415.2L292.1 423.3L283.1 423.3Z" fill="#ee0000"/>
<path d="M290.0 414.1L294.5 422.2L285.5 422.2Z" fill="#ee0000"/>
<path d="M292.1 413.4L296.6 421.5L287.6 421.5Z" fill="#ee0000"/>
<path d="M294.2 412.8L298.7 420.9L289.7 420.9Z" fill="#ee0000"/>
<path d="M296.3 412.3L300.8 420.4L291.8 420.4Z" fill="#ee0000"/>
<path d="M298.9 411.7L303.4 419.8L294.4 419.8Z" fill="#ee0000"/>
<path d="M301.3 411.2L305.8 419.3L296.8 419.3Z" fill="#ee0000"/>
<path d="M303.7 410.6L308.2 418.7L299.2 418.7Z" fill="#ee0000"/>
<path d="M305.9 410.7L310.4 418.8L301.4 418.8Z" fill="#ee0000"/>
<path d="M308.6 411.5L313.1 419.6L304.1 419.6Z" fill="#ee0000"/>
<path d="M310.9 412.5L315.4 420.6L306.4 420.6Z" fill="#ee0000"/>
<path d="M313.1 413.5L317.6 421.6L308.6 421.6Z" fill="#ee0000"/>
<path d="M315.4 414.7L319.9 422.8L310.9 422.8Z" fill="#ee0000"/>
<path d="M317.9 416.1L322.4 424.2L313.4 424.2Z" fill="#ee0000"/>
<path d="M320.5 417.5L325.0 425.6L316.0 425.6Z" fill="#ee0000"/>
<path d="M322.5 418.6L327.0 426.7L318.0 426.7Z" fill="#ee0000"/>
<path d="M324.6 419.6L329.1 427.7L320.1 427.7Z" fill="#ee0000"/>
<path d="M326.7 420.7L331.2 428.8L322.2 428.8Z" fill="#ee0000"/>
<path d="M328.9 421.6L333.4 429.7L324.4 429.7Z" fill="#ee0000"/>
<path d="M331.0 422.5L335.5 430.6L326.5 430.6Z" fill="#ee0000"/>
<path d="M333.3 423.4L337.8 431.5L328.8 431.5Z" fill="#ee0000"/>
<path d="M335.7 424.3L340.2 432.4L331.2 432.4Z" fill="#ee0000"/>
<path d="M338.1 425.2L342.6 433.3L333.6 433.3Z" fill="#ee0000"/>
<path d="M340.5 426.1L345.0 434.2L336.0 434.2Z" fill="#ee0000"/>
<path d="M342.9 427.0L347.4 435.1L338.4 435.1Z" fill="#ee0000"/>
<path d="M345.5 427.9L350.0 436.0L341.0 436.0Z" fill="#ee0000"/>
<path d="M348.1 428.7L352.6 436.8L343.6 436.8Z" fill="#ee0000"/>
<path d="M350.2 429.3L354.7 437.4L345.7 437.4Z" fill="#ee0000"/>
<path d="M352.3 429.8L356.8 437.9L347.8 437.9Z" fill="#ee0000"/>
<path d="M354.5 430.4L359.0 438.5L350.0 438.5Z" fill="#ee0000"/>
<path d="M356.8 430.9L361.3 439.0L352.3 439.0Z" fill="#ee0000"/>
<path d="M359.2 431.4L363.7 439.5L354.7 439.5Z" fill="#ee0000"/>
<path d="M361.8 431.8L366.3 439.9L357.3 439.9Z" fill="#ee0000"/>
<path d="M364.2 432.2L368.7 440.3L359.7 440.3Z" fill="#ee0000"/>
<path d="M366.8 432.5L371.3 440.6L362.3 440.6Z" fill="#ee0000"/>
<path d="M369.4 432.8L373.9 440.9L364.9 440.9Z" fill="#ee0000"/>
<path d="M371.5 433.1L376.0 441.2L367.0 441.2Z" fill="#ee0000"/>
<path d="M373.5 433.3L378.0 441.4L369.0 441.4Z" fill="#ee0000"/>
<path d="M375.6 433.5L380.1 441.6L371.1 441.6Z" fill="#ee0000"/>
<path d="M377.8 433.6L382.3 441.7L373.3 441.7Z" fill="#ee0000"/>
<path d="M379.9 433.8L384.4 441.9L375.4 441.9Z" fill="#ee0000"/>
<path d="M382.1 434.0L386.6 442.1L377.6 442.1Z" fill="#ee0000"/>
<path d="M384.3 434.1L388.8 442.2L379.8 442.2Z" fill="#ee0000"/>
<path d="M386.4 434.3L390.9 442.4L381.9 442.4Z" fill="#ee0000"/>
<path d="M388.6 434.5L393.1 442.6L384.1 442.6Z" fill="#ee0000"/>
<path d="M390.8 434.6L395.3 442.7L386.3 442.7Z" fill="#ee0000"/>
<path d="M393.0 434.8L397.5 442.9L388.5 442.9Z" fill="#ee0000"/>
<path d="M395.2 434.9L399.7 443.0L390.7 443.0Z" fill="#ee0000"/>
<path d="M397.4 435.1L401.9 443.2L392.9 443.2Z" fill="#ee0000"/>
<path d="M399.5 435.2L404.0 443.3L395.0 443.3Z" fill="#ee0000"/>
<path d="M401.6 435.4L406.1 443.5L397.1 443.5Z" fill="#ee0000"/>
<path d="M403.7 435.6L408.2 443.7L399.2 443.7Z" fill="#ee0000"/>
<path d="M405.8 435.7L410.3 443.8L401.3 443.8Z" fill="#ee0000"/>
<path d="M407.8 435.9L412.3 444.0L403.3 444.0Z" fill="#ee0000"/>
<path d="M409.9 436.1L414.4 444.2L405.4 444.2Z" fill="#ee0000"/>
<path d="M412.0 436.2L416.5 444.3L407.5 444.3Z" fill="#ee0000"/>
<path d="M414.1 436.4L418.6 444.5L409.6 444.5Z" fill="#ee0000"/>
<path d="M416.1 436.6L420.6 444.7L411.6 444.7Z" fill="#ee0000"/>
<path d="M418.2 436.7L422.7 444.8L413.7 444.8Z" fill="#ee0000"/>
<path d="M420.3 436.9L424.8 445.0L415.8 445.0Z" fill="#ee0000"/>
<path d="M422.4 437.0L426.9 445.1L417.9 445.1Z" fill="#ee0000"/>
<path d="M424.4 437.2L428.9 445.3L419.9 445.3Z" fill="#ee0000"/>
<path d="M426.5 437.3L431.0 445.4L422.0 445.4Z" fill="#ee0000"/>
<path d="M428.6 437.5L433.1 445.6L424.1 445.6Z" fill="#ee0000"/>
<path d="M430.7 437.6L435.2 445.7L426.2 445.7Z" fill="#ee0000"/>
<path d="M432.7 437.8L437.2 445.9L428.2 445.9Z" fill="#ee0000"/>
<path d="M434.8 437.9L439.3 446.0L430.3 446.0Z" fill="#ee0000"/>
<path d="M436.9 438.0L441.4 446.1L432.4 446.1Z" fill="#ee0000"/>
<path d="M439.0 438.1L443.5 446.2L434.5 446.2Z" fill="#ee0000"/>
<path d="M441.1 438.3L445.6 446.4L436.6 446.4Z" fill="#ee0000"/>
<path d="M443.2 438.4L447.7 446.5L438.7 446.5Z" fill="#ee0000"/>
<path d="M445.3 438.5L449.8 446.6L440.8 446.6Z" fill="#ee0000"/>
<path d="M447.4 438.6L451.9 446.7L442.9 446.7Z" fill="#ee0000"/>
<path d="M449.6 438.6L454.1 446.7L445.1 446.7Z" fill="#ee0000"/>
<path d="M451.8 438.7L456.3 446.8L447.3 446.8Z" fill="#ee0000"/>
<path d="M454.2 438.8L458.7 446.9L449.7 446.9Z" fill="#ee0000"/>
<path d="M456.6 438.9L461.1 447.0L452.1 447.0Z" fill="#ee0000"/>
<path d="M459.0 438.9L463.5 447.0L454.5 447.0Z" fill="#ee0000"/>
<path d="M461.4 439.0L465.9 447.1L456.9 447.1Z" fill="#ee0000"/>
<path d="M463.9 439.1L468.4 447.2L459.4 447.2Z" fill="#ee0000"/>
<path d="M466.3 439.1L470.8 447.2L461.8 447.2Z" fill="#ee0000"/>
<path d="M468.7 439.2L473.2 447.3L464.2 447.3Z" fill="#ee0000"/>
<path d="M471.1 439.2L475.6 447.3L466.6 447.3Z" fill="#ee0000"/>
<path d="M473.4 439.2L477.9 447.3L468.9 447.3Z" fill="#ee0000"/>
<path d="M475.7 439.3L480.2 447.4L471.2 447.4Z" fill="#ee0000"/>
<path d="M477.8 439.3L482.3 447.4L473.3 447.4Z" fill="#ee0000"/>
<path d="M479.9 439.3L484.4 447.4L475.4 447.4Z" fill="#ee0000"/>
<path d="M482.5 439.4L487.0 447.5L478.0 447.5Z" fill="#ee0000"/>
<path d="M484.9 439.4L489.4 447.5L480.4 447.5Z" fill="#ee0000"/>
<path d="M487.0 439.4L491.5 447.5L482.5 447.5Z" fill="#ee0000"/>
<path d="M489.3 439.5L493.8 447.6L484.8 447.6Z" fill="#ee0000"/>
<circle cx="111.0" cy="507.0" r="5.0" fill="#00002e" stroke="#000" stroke-width="0.6"/><circle cx="109.5" cy="505.5" r="1.7" fill="#fff" fill-opacity="0.85"/>
<circle cx="113.0" cy="507.0" r="5.0" fill="#00002e" stroke="#000" stroke-width="0.6"/><circle cx="111.5" cy="505.5" r="1.7" fill="#fff" fill-opacity="0.85"/>
<circle cx="115.0" cy="507.0" r="5.0" fill="#00002e" stroke="#000" stroke-width="0.6"/><circle cx="113.5" cy="505.5" r="1.7" fill="#fff" fill-opacity="0.85"/>
<circle cx="117.3" cy="507.1" r="5.0" fill="#00002e" stroke="#000" stroke-width="0.6"/><circle cx="115.8" cy="505.6" r="1.7" fill="#fff" fill-opacity="0.85"/>
<circle cx="119.9" cy="507.1" r="5.0" fill="#00002e" stroke="#000" stroke-width="0.6"/><circle cx="118.4" cy="505.6" r="1.7" fill="#fff" fill-opacity="0.85"/>
<circle cx="122.0" cy="507.1" r="5.0" fill="#00002e" stroke="#000" stroke-width="0.6"/><circle cx="120.5" cy="505.6" r="1.7" fill="#fff" fill-opacity="0.85"/>
<circle cx="124.2" cy="507.1" r="5.0" fill="#00002e" stroke="#000" stroke-width="0.6"/><circle cx="122.7" cy="505.6" r="1.7" fill="#fff" fill-opacity="0.85"/>
<circle cx="126.4" cy="507.1" r="5.0" fill="#00002e" stroke="#000" stroke-width="0.6"/><circle cx="124.9" cy="505.6" r="1.7" fill="#fff" fill-opacity="0.85"/>
<circle cx="128.8" cy="507.1" r="5.0" fill="#00002e" stroke="#000" stroke-width="0.6"/><circle cx="127.3" cy="505.6" r="1.7" fill="#fff" fill-opacity="0.85"/>
<circle cx="131.2" cy="507.1" r="5.0" fill="#00002e" stroke="#000" stroke-width="0.6"/><circle cx="129.7" cy="505.6" r="1.7" fill="#fff" fill-opacity="0.85"/>
<circle cx="133.7" cy="507.1" r="5.0" fill="#00002e" stroke="#000" stroke-width="0.6"/><circle cx="132.2" cy="505.6" r="1.7" fill="#fff" fill-opacity="0.85"/>
<circle cx="136.1" cy="507.1" r="5.0" fill="#00002e" stroke="#000" stroke-width="0.6"/><circle cx="134.6" cy="505.6" r="1.7" fill="#fff" fill-opacity="0.85"/>
<circle cx="138.6" cy="507.2" r="5.0" fill="#00002e" stroke="#000" stroke-width="0.6"/><circle cx="137.1" cy="505.7" r="1.7" fill="#fff" fill-opacity="0.85"/>
<circle cx="141.1" cy="507.2" r="5.0" fill="#00002e" stroke="#000" stroke-width="0.6"/><circle cx="139.6" cy="505.7" r="1.7" fill="#fff" fill-opacity="0.85"/>
<circle cx="143.5" cy="507.3" r="5.0" fill="#00002e" stroke="#000" stroke-width="0.6"/><circle cx="142.0" cy="505.8" r="1.7" fill="#fff" fill-opacity="0.85"/>
<circle cx="145.9" cy="507.3" r="5.0" fill="#00002e" stroke="#000" stroke-width="0.6"/><circle cx="144.4" cy="505.8" r="1.7" fill="#fff" fill-opacity="0.85"/>
<circle cx="148.2" cy="507.4" r="5.0" fill="#00002e" stroke="#000" stroke-width="0.6"/><circle cx="146.7" cy="505.9" r="1.7" fill="#fff" fill-opacity="0.85"/>
<circle cx="150.5" cy="507.4" r="5.0" fill="#00002e" stroke="#000" stroke-width="0.6"/><circle cx="149.0" cy="505.9" r="1.7" fill="#fff" fill-opacity="0.85"/>
<circle cx="152.7" cy="507.5" r="5.0" fill="#00002e" stroke="#000" stroke-width="0.6"/><circle cx="151.2" cy="506.0" r="1.7" fill="#fff" fill-opacity="0.85"/>
<circle cx="154.7" cy="507.6" r="5.0" fill="#00002e" stroke="#000" stroke-width="0.6"/><circle cx="153.2" cy="506.1" r="1.7" fill="#fff" fill-opacity="0.85"/>
<circle cx="157.2" cy="507.8" r="5.0" fill="#00002e" stroke="#000" stroke-width="0.6"/><circle cx="155.7" cy="506.3" r="1.7" fill="#fff" fill-opacity="0.85"/>
<circle cx="159.5" cy="508.0" r="5.0" fill="#00002e" stroke="#000" stroke-width="0.6"/><circle cx="158.0" cy="506.5" r="1.7" fill="#fff" fill-opacity="0.85"/>
<circle cx="162.0" cy="508.2" r="5.0" fill="#00002e" stroke="#000" stroke-width="0.6"/><circle cx="160.5" cy="506.7" r="1.7" fill="#fff" fill-opacity="0.85"/>
<circle cx="164.8" cy="508.6" r="5.0" fill="#00002e" stroke="#000" stroke-width="0.6"/><circle cx="163.3" cy="507.1" r="1.7" fill="#fff" fill-opacity="0.85"/>
<circle cx="167.2" cy="508.9" r="5.0" fill="#00002e" stroke="#000" stroke-width="0.6"/><circle cx="165.7" cy="507.4" r="1.7" fill="#fff" fill-opacity="0.85"/>
<circle cx="169.3" cy="509.4" r="5.0" fill="#00002e" stroke="#000" stroke-width="0.6"/><circle cx="167.8" cy="507.9" r="1.7" fill="#fff" fill-opacity="0.85"/>
<circle cx="171.8" cy="510.0" r="5.0" fill="#00002e" stroke="#000" stroke-width="0.6"/><circle cx="170.3" cy="508.5" r="1.7" fill="#fff" fill-opacity="0.85"/>
<circle cx="174.1" cy="510.7" r="5.0" fill="#00002e" stroke="#000" stroke-width="0.6"/><circle cx="172.6" cy="509.2" r="1.7" fill="#fff" fill-opacity="0.85"/>
<circle cx="176.3" cy="511.5" r="5.0" fill="#00002e" stroke="#000" stroke-width="0.6"/><circle cx="174.8" cy="510.0" r="1.7" fill="#fff" fill-opacity="0.85"/>
<circle cx="178.5" cy="512.3" r="5.0" fill="#00002e" stroke="#000" stroke-width="0.6"/><circle cx="177.0" cy="510.8" r="1.7" fill="#fff" fill-opacity="0.85"/>
<circle cx="180.9" cy="513.2" r="5.0" fill="#00002e" stroke="#000" stroke-width="0.6"/><circle cx="179.4" cy="511.7" r="1.7" fill="#fff" fill-opacity="0.85"/>
<circle cx="183.5" cy="514.2" r="5.0" fill="#00002e" stroke="#000" stroke-width="0.6"/><circle cx="182.0" cy="512.7" r="1.7" fill="#fff" fill-opacity="0.85"/>
<circle cx="186.1" cy="515.3" r="5.0" fill="#00002e" stroke="#000" stroke-width="0.6"/><circle cx="184.6" cy="513.8" r="1.7" fill="#fff" fill-opacity="0.85"/>
<circle cx="188.7" cy="516.5" r="5.0" fill="#00002e" stroke="#000" stroke-width="0.6"/><circle cx="187.2" cy="515.0" r="1.7" fill="#fff" fill-opacity="0.85"/>
<circle cx="190.8" cy="517.5" r="5.0" fill="#00002e" stroke="#000" stroke-width="0.6"/><circle cx="189.3" cy="516.0" r="1.7" fill="#fff" fill-opacity="0.85"/>
<circle cx="192.9" cy="518.6" r="5.0" fill="#00002e" stroke="#000" stroke-width="0.6"/><circle cx="191.4" cy="517.1" r="1.7" fill="#fff" fill-opacity="0.85"/>
<circle cx="194.9" cy="519.6" r="5.0" fill="#00002e" stroke="#000" stroke-width="0.6"/><circle cx="193.4" cy="518.1" r="1.7" fill="#fff" fill-opacity="0.85"/>
<circle cx="197.0" cy="520.7" r="5.0" fill="#00002e" stroke="#000" stroke-width="0.6"/><circle cx="195.5" cy="519.2" r="1.7" fill="#fff" fill-opacity="0.85"/>
<circle cx="199.6" cy="522.0" r="5.0" fill="#00002e" stroke="#000" stroke-width="0.6"/><circle cx="198.1" cy="520.5" r="1.7" fill="#fff" fill-opacity="0.85"/>
<circle cx="202.0" cy="523.3" r="5.0" fill="#00002e" stroke="#000" stroke-width="0.6"/><circle cx="200.5" cy="521.8" r="1.7" fill="#fff" fill-opacity="0.85"/>
<circle cx="204.2" cy="524.4" r="5.0" fill="#00002e" stroke="#000" stroke-width="0.6"/><circle cx="202.7" cy="522.9" r="1.7" fill="#fff" fill-opacity="0.85"/>
<circle cx="206.6" cy="525.5" r="5.0" fill="#00002e" stroke="#000" stroke-width="0.6"/><circle cx="205.1" cy="524.0" r="1.7" fill="#fff" fill-opacity="0.85"/>
<circle cx="208.8" cy="526.5" r="5.0" fill="#00002e" stroke="#000" stroke-width="0.6"/><circle cx="207.3" cy="525.0" r="1.7" fill="#fff" fill-opacity="0.85"/>
<circle cx="210.9" cy="527.6" r="5.0" fill="#00002e" stroke="#000" stroke-width="0.6"/><circle cx="209.4" cy="526.1" r="1.7" fill="#fff" fill-opacity="0.85"/>
<circle cx="213.1" cy="527.2" r="5.0" fill="#00002e" stroke="#000" stroke-width="0.6"/><circle cx="211.6" cy="525.7" r="1.7" fill="#fff" fill-opacity="0.85"/>
<circle cx="215.4" cy="526.7" r="5.0" fill="#00002e" stroke="#000" stroke-width="0.6"/><circle cx="213.9" cy="525.2" r="1.7" fill="#fff" fill-opacity="0.85"/>
<circle cx="217.8" cy="526.2" r="5.0" fill="#00002e" stroke="#000" stroke-width="0.6"/><circle cx="216.3" cy="524.7" r="1.7" fill="#fff" fill-opacity="0.85"/>
<circle cx="220.4" cy="525.5" r="5.0" fill="#00002e" stroke="#000" stroke-width="0.6"/><circle cx="218.9" cy="524.0" r="1.7" fill="#fff" fill-opacity="0.85"/>
<circle cx="222.6" cy="524.9" r="5.0" fill="#00002e" stroke="#000" stroke-width="0.6"/><circle cx="221.1" cy="523.4" r="1.7" fill="#fff" fill-opacity="0.85"/>
<circle cx="224.8" cy="524.3" r="5.0" fill="#00002e" stroke="#000" stroke-width="0.6"/><circle cx="223.3" cy="522.8" r="1.7" fill="#fff" fill-opacity="0.85"/>
<circle cx="227.0" cy="523.6" r="5.0" fill="#00002e" stroke="#000" stroke-width="0.6"/><circle cx="225.5" cy="522.1" r="1.7" fill="#fff" fill-opacity="0.85"/>
<circle cx="229.2" cy="522.8" r="5.0" fill="#00002e" stroke="#000" stroke-width="0.6"/><circle cx="227.7" cy="521.3" r="1.7" fill="#fff" fill-opacity="0.85"/>
<circle cx="231.3" cy="522.0" r="5.0" fill="#00002e" stroke="#000" stroke-width="0.6"/><circle cx="229.8" cy="520.5" r="1.7" fill="#fff" fill-opacity="0.85"/>
<circle cx="234.0" cy="520.9" r="5.0" fill="#00002e" stroke="#000" stroke-width="0.6"/><circle cx="232.5" cy="519.4" r="1.7" fill="#fff" fill-opacity="0.85"/>
<circle cx="236.3" cy="519.6" r="5.0" fill="#00002e" stroke="#000" stroke-width="0.6"/><circle cx="234.8" cy="518.1" r="1.7" fill="#fff" fill-opacity="0.85"/>
<circle cx="238.7" cy="518.1" r="5.0" fill="#00002e" stroke="#000" stroke-width="0.6"/><circle cx="237.2" cy="516.6" r="1.7" fill="#fff" fill-opacity="0.85"/>
<circle cx="240.8" cy="516.6" r="5.0" fill="#00002e" stroke="#000" stroke-width="0.6"/><circle cx="239.3" cy="515.1" r="1.7" fill="#fff" fill-opacity="0.85"/>
<circle cx="243.3" cy="514.4" r="5.0" fill="#00002e" stroke="#000" stroke-width="0.6"/><circle cx="241.8" cy="512.9" r="1.7" fill="#fff" fill-opacity="0.85"/>
<circle cx="245.7" cy="512.0" r="5.0" fill="#00002e" stroke="#000" stroke-width="0.6"/><circle cx="244.2" cy="510.5" r="1.7" fill="#fff" fill-opacity="0.85"/>
<circle cx="248.0" cy="509.3" r="5.0" fill="#00002e" stroke="#000" stroke-width="0.6"/><circle cx="246.5" cy="507.8" r="1.7" fill="#fff" fill-opacity="0.85"/>
<circle cx="250.4" cy="506.5" r="5.0" fill="#00002e" stroke="#000" stroke-width="0.6"/><circle cx="248.9" cy="505.0" r="1.7" fill="#fff" fill-opacity="0.85"/>
<circle cx="252.7" cy="503.5" r="5.0" fill="#00002e" stroke="#000" stroke-width="0.6"/><circle cx="251.2" cy="502.0" r="1.7" fill="#fff" fill-opacity="0.85"/>
<circle cx="255.0" cy="500.2" r="5.0" fill="#00002e" stroke="#000" stroke-width="0.6"/><circle cx="253.5" cy="498.7" r="1.7" fill="#fff" fill-opacity="0.85"/>
<circle cx="257.0" cy="497.3" r="5.0" fill="#00002e" stroke="#000" stroke-width="0.6"/><circle cx="255.5" cy="495.8" r="1.7" fill="#fff" fill-opacity="0.85"/>
<circle cx="258.9" cy="494.2" r="5.0" fill="#00002e" stroke="#000" stroke-width="0.6"/><circle cx="257.4" cy="492.7" r="1.7" fill="#fff" fill-opacity="0.85"/>
<circle cx="260.8" cy="491.2" r="5.0" fill="#00002e" stroke="#000" stroke-width="0.6"/><circle cx="259.3" cy="489.7" r="1.7" fill="#fff" fill-opacity="0.85"/>
<circle cx="262.8" cy="488.1" r="5.0" fill="#00002e" stroke="#000" stroke-width="0.6"/><circle cx="261.3" cy="486.6" r="1.7" fill="#fff" fill-opacity="0.85"/>
<circle cx="264.7" cy="485.1" r="5.0" fill="#00002e" stroke="#000" stroke-width="0.6"/><circle cx="263.2" cy="483.6" r="1.7" fill="#fff" fill-opacity="0.85"/>
<circle cx="266.9" cy="481.7" r="5.0" fill="#00002e" stroke="#000" stroke-width="0.6"/><circle cx="265.4" cy="480.2" r="1.7" fill="#fff" fill-opacity="0.85"/>
<circle cx="269.1" cy="478.3" r="5.0" fill="#00002e" stroke="#000" stroke-width="0.6"/><circle cx="267.6" cy="476.8" r="1.7" fill="#fff" fill-opacity="0.85"/>
<circle cx="271.3" cy="474.9" r="5.0" fill="#00002e" stroke="#000" stroke-width="0.6"/><circle cx="269.8" cy="473.4" r="1.7" fill="#fff" fill-opacity="0.85"/>
<circle cx="273.5" cy="471.4" r="5.0" fill="#00002e" stroke="#000" stroke-width="0.6"/><circle cx="272.0" cy="469.9" r="1.7" fill="#fff" fill-opacity="0.85"/>
<circle cx="275.7" cy="467.8" r="5.0" fill="#00002e" stroke="#000" stroke-width="0.6"/><circle cx="274.2" cy="466.3" r="1.7" fill="#fff" fill-opacity="0.85"/>
<circle cx="277.5" cy="464.8" r="5.0" fill="#00002e" stroke="#000" stroke-width="0.6"/><circle cx="276.0" cy="463.3" r="1.7" fill="#fff" fill-opacity="0.85"/>
<circle cx="279.6" cy="461.2" r="5.0" fill="#00002e" stroke="#000" stroke-width="0.6"/><circle cx="278.1" cy="459.7" r="1.7" fill="#fff" fill-opacity="0.85"/>
<circle cx="281.7" cy="457.6" r="5.0" fill="#00002e" stroke="#000" stroke-width="0.6"/><circle cx="280.2" cy="456.1" r="1.7" fill="#fff" fill-opacity="0.85"/>
<circle cx="283.8" cy="454.0" r="5.0" fill="#00002e" stroke="#000" stroke-width="0.6"/><circle cx="282.3" cy="452.5" r="1.7" fill="#fff" fill-opacity="0.85"/>
<circle cx="285.5" cy="450.9" r="5.0" fill="#00002e" stroke="#000" stroke-width="0.6"/><circle cx="284.0" cy="449.4" r="1.7" fill="#fff" fill-opacity="0.85"/>
<circle cx="287.2" cy="447.9" r="5.0" fill="#00002e" stroke="#000" stroke-width="0.6"/><circle cx="285.7" cy="446.4" r="1.7" fill="#fff" fill-opacity="0.85"/>
<circle cx="288.9" cy="444.8" r="5.0" fill="#00002e" stroke="#000" stroke-width="0.6"/><circle cx="287.4" cy="443.3" r="1.7" fill="#fff" fill-opacity="0.85"/>
<circle cx="290.8" cy="441.1" r="5.0" fill="#00002e" stroke="#000" stroke-width="0.6"/><circle cx="289.3" cy="439.6" r="1.7" fill="#fff" fill-opacity="0.85"/>
<circle cx="292.6" cy="437.6" r="5.0" fill="#00002e" stroke="#000" stroke-width="0.6"/><circle cx="291.1" cy="436.1" r="1.7" fill="#fff" fill-opacity="0.85"/>
<circle cx="294.1" cy="434.4" r="5.0" fill="#00002e" stroke="#000" stroke-width="0.6"/><circle cx="292.6" cy="432.9" r="1.7" fill="#fff" fill-opacity="0.85"/>
<circle cx="295.6" cy="431.1" r="5.0" fill="#00002e" stroke="#000" stroke-width="0.6"/><circle cx="294.1" cy="429.6" r="1.7" fill="#fff" fill-opacity="0.85"/>
<circle cx="296.9" cy="427.8" r="5.0" fill="#00002e" stroke="#000" stroke-width="0.6"/><circle cx="295.4" cy="426.3" r="1.7" fill="#fff" fill-opacity="0.85"/>
<circle cx="298.4" cy="423.9" r="5.0" fill="#00002e" stroke="#000" stroke-width="0.6"/><circle cx="296.9" cy="422.4" r="1.7" fill="#fff" fill-opacity="0.85"/>
<circle cx="299.9" cy="420.1" r="5.0" fill="#00002e" stroke="#000" stroke-width="0.6"/><circle cx="298.4" cy="418.6" r="1.7" fill="#fff" fill-opacity="0.85"/>
<circle cx="299.9" cy="420.1" r="5.0" fill="#00002e" stroke="#000" stroke-width="0.6"/><circle cx="298.4" cy="418.6" r="1.7" fill="#fff" fill-opacity="0.85"/>
<circle cx="300.9" cy="417.6" r="5.0" fill="#00002e" stroke="#000" stroke-width="0.6"/><circle cx="299.4" cy="416.1" r="1.7" fill="#fff" fill-opacity="0.85"/>
<circle cx="301.9" cy="415.3" r="5.0" fill="#00002e" stroke="#000" stroke-width="0.6"/><circle cx="300.4" cy="413.8" r="1.7" fill="#fff" fill-opacity="0.85"/>
<circle cx="303.0" cy="413.0" r="5.0" fill="#00002e" stroke="#000" stroke-width="0.6"/><circle cx="301.5" cy="411.5" r="1.7" fill="#fff" fill-opacity="0.85"/>
<circle cx="304.4" cy="410.3" r="5.0" fill="#00002e" stroke="#000" stroke-width="0.6"/><circle cx="302.9" cy="408.8" r="1.7" fill="#fff" fill-opacity="0.85"/>
<circle cx="305.8" cy="407.7" r="5.0" fill="#00002e" stroke="#000" stroke-width="0.6"/><circle cx="304.3" cy="406.2" r="1.7" fill="#fff" fill-opacity="0.85"/>
<circle cx="307.2" cy="405.1" r="5.0" fill="#00002e" stroke="#000" stroke-width="0.6"/><circle cx="305.7" cy="403.6" r="1.7" fill="#fff" fill-opacity="0.85"/>
<circle cx="308.6" cy="402.7" r="5.0" fill="#00002e" stroke="#000" stroke-width="0.6"/><circle cx="307.1" cy="401.2" r="1.7" fill="#fff" fill-opacity="0.85"/>
<circle cx="310.0" cy="400.4" r="5.0" fill="#00002e" stroke="#000" stroke-width="0.6"/><circle cx="308.5" cy="398.9" r="1.7" fill="#fff" fill-opacity="0.85"/>
<circle cx="311.5" cy="398.3" r="5.0" fill="#00002e" stroke="#000" stroke-width="0.6"/><circle cx="310.0" cy="396.8" r="1.7" fill="#fff" fill-opacity="0.85"/>
<circle cx="313.3" cy="395.9" r="5.0" fill="#00002e" stroke="#000" stroke-width="0.6"/><circle cx="311.8" cy="394.4" r="1.7" fill="#fff" fill-opacity="0.85"/>
<circle cx="315.1" cy="393.8" r="5.0" fill="#00002e" stroke="#000" stroke-width="0.6"/><circle cx="313.6" cy="392.3" r="1.7" fill="#fff" fill-opacity="0.85"/>
<circle cx="317.3" cy="391.8" r="5.0" fill="#00002e" stroke="#000" stroke-width="0.6"/><circle cx="315.8" cy="390.3" r="1.7" fill="#fff" fill-opacity="0.85"/>
<circle cx="319.6" cy="390.1" r="5.0" fill="#00002e" stroke="#000" stroke-width="0.6"/><circle cx="318.1" cy="388.6" r="1.7" fill="#fff" fill-opacity="0.85"/>
<circle cx="321.9" cy="388.7" r="5.0" fill="#00002e" stroke="#000" stroke-width="0.6"/><circle cx="320.4" cy="387.2" r="1.7" fill="#fff" fill-opacity="0.85"/>
<circle cx="324.1" cy="387.6" r="5.0" fill="#00002e" stroke="#000" stroke-width="0.6"/><circle cx="322.6" cy="386.1" r="1.7" fill="#fff" fill-opacity="0.85"/>
<circle cx="326.4" cy="386.8" r="5.0" fill="#00002e" stroke="#000" stroke-width="0.6"/><circle cx="324.9" cy="385.3" r="1.7" fill="#fff" fill-opacity="0.85"/>
<circle cx="328.8" cy="386.4" r="5.0" fill="#00002e" stroke="#000" stroke-width="0.6"/><circle cx="327.3" cy="384.9" r="1.7" fill="#fff" fill-opacity="0.85"/>
<circle cx="331.2" cy="386.5" r="5.0" fill="#00002e" stroke="#000" stroke-width="0.6"/><circle cx="329.7" cy="385.0" r="1.7" fill="#fff" fill-opacity="0.85"/>
<circle cx="333.4" cy="386.7" r="5.0" fill="#00002e" stroke="#000" stroke-width="0.6"/><circle cx="331.9" cy="385.2" r="1.7" fill="#fff" fill-opacity="0.85"/>
<circle cx="335.6" cy="387.0" r="5.0" fill="#00002e" stroke="#000" stroke-width="0.6"/><circle cx="334.1" cy="385.5" r="1.7" fill="#fff" fill-opacity="0.85"/>
<circle cx="325.7" cy="387.0" r="5.0" fill="#00002e" stroke="#000" stroke-width="0.6"/>
<circle cx="327.7" cy="386.9" r="5.0" fill="#00002e" stroke="#000" stroke-width="0.6"/>
<circle cx="329.8" cy="386.8" r="5.0" fill="#00002e" stroke="#000" stroke-width="0.6"/>
<circle cx="332.2" cy="386.8" r="5.0" fill="#00002e" stroke="#000" stroke-width="0.6"/>
<circle cx="334.6" cy="386.8" r="5.0" fill="#00002e" stroke="#000" stroke-width="0.6"/>
<circle cx="336.7" cy="387.1" r="5.0" fill="#00002e" stroke="#000" stroke-width="0.6"/>
<circle cx="339.0" cy="387.3" r="5.0" fill="#00002e" stroke="#000" stroke-width="0.6"/>
<circle cx="341.3" cy="387.6" r="5.0" fill="#00002e" stroke="#000" stroke-width="0.6"/>
<circle cx="343.4" cy="388.5" r="5.0" fill="#00002e" stroke="#000" stroke-width="0.6"/>
<circle cx="346.0" cy="390.0" r="5.0" fill="#00002e" stroke="#000" stroke-width="0.6"/>
<circle cx="348.1" cy="391.6" r="5.0" fill="#00002e" stroke="#000" stroke-width="0.6"/>
<circle cx="350.0" cy="393.1" r="5.0" fill="#00002e" stroke="#000" stroke-width="0.6"/>
<circle cx="352.0" cy="394.9" r="5.0" fill="#00002e" stroke="#000" stroke-width="0.6"/>
<circle cx="354.1" cy="396.8" r="5.0" fill="#00002e" stroke="#000" stroke-width="0.6"/>
<circle cx="356.3" cy="398.8" r="5.0" fill="#00002e" stroke="#000" stroke-width="0.6"/>
<circle cx="358.6" cy="400.9" r="5.0" fill="#00002e" stroke="#000" stroke-width="0.6"/>
<circle cx="360.9" cy="402.9" r="5.0" fill="#00002e" stroke="#000" stroke-width="0.6"/>
<circle cx="363.2" cy="404.8" r="5.0" fill="#00002e" stroke="#000" stroke-width="0.6"/>
<circle cx="365.4" cy="406.6" r="5.0" fill="#00002e" stroke="#000" stroke-width="0.6"/>
<circle cx="367.7" cy="408.2" r="5.0" fill="#00002e" stroke="#000" stroke-width="0.6"/>
<circle cx="369.9" cy="409.9" r="5.0" fill="#00002e" stroke="#000" stroke-width="0.6"/>
<circle cx="372.2" cy="411.5" r="5.0" fill="#00002e" stroke="#000" stroke-width="0.6"/>
<circle cx="374.5" cy="413.2" r="5.0" fill="#00002e" stroke="#000" stroke-width="0.6"/>
<circle cx="376.8" cy="414.8" r="5.0" fill="#00002e" stroke="#000" stroke-width="0.6"/>
<circle cx="379.1" cy="416.3" r="5.0" fill="#00002e" stroke="#000" stroke-width="0.6"/>
<circle cx="380.9" cy="417.4" r="5.0" fill="#00002e" stroke="#000" stroke-width="0.6"/>
<circle cx="382.8" cy="418.4" r="5.0" fill="#00002e" stroke="#000" stroke-width="0.6"/>
<circle cx="384.7" cy="419.3" r="5.0" fill="#00002e" stroke="#000" stroke-width="0.6"/>
<circle cx="386.6" cy="420.2" r="5.0" fill="#00002e" stroke="#000" stroke-width="0.6"/>
<circle cx="388.6" cy="421.0" r="5.0" fill="#00002e" stroke="#000" stroke-width="0.6"/>
<circle cx="390.4" cy="421.6" r="5.0" fill="#00002e" stroke="#000" stroke-width="0.6"/>
<circle cx="392.2" cy="422.2" r="5.0" fill="#00002e" stroke="#000" stroke-width="0.6"/>
<circle cx="394.0" cy="422.7" r="5.0" fill="#00002e" stroke="#000" stroke-width="0.6"/>
<circle cx="395.9" cy="423.1" r="5.0" fill="#00002e" stroke="#000" stroke-width="0.6"/>
<circle cx="397.7" cy="423.5" r="5.0" fill="#00002e" stroke="#000" stroke-width="0.6"/>
<circle cx="399.6" cy="423.8" r="5.0" fill="#00002e" stroke="#000" stroke-width="0.6"/>
<circle cx="401.5" cy="424.1" r="5.0" fill="#00002e" stroke="#000" stroke-width="0.6"/>
<circle cx="403.5" cy="424.3" r="5.0" fill="#00002e" stroke="#000" stroke-width="0.6"/>
<circle cx="405.5" cy="424.6" r="5.0" fill="#00002e" stroke="#000" stroke-width="0.6"/>
<circle cx="407.7" cy="424.8" r="5.0" fill="#00002e" stroke="#000" stroke-width="0.6"/>
<circle cx="409.8" cy="425.0" r="5.0" fill="#00002e" stroke="#000" stroke-width="0.6"/>
<circle cx="412.1" cy="425.2" r="5.0" fill="#00002e" stroke="#000" stroke-width="0.6"/>
<circle cx="414.5" cy="425.5" r="5.0" fill="#00002e" stroke="#000" stroke-width="0.6"/>
<circle cx="417.0" cy="425.7" r="5.0" fill="#00002e" stroke="#000" stroke-width="0.6"/>
<circle cx="419.4" cy="425.9" r="5.0" fill="#00002e" stroke="#000" stroke-width="0.6"/>
<circle cx="421.2" cy="426.1" r="5.0" fill="#00002e" stroke="#000" stroke-width="0.6"/>
<circle cx="423.1" cy="426.2" r="5.0" fill="#00002e" stroke="#000" stroke-width="0.6"/>
<circle cx="425.1" cy="426.4" r="5.0" fill="#00002e" stroke="#000" stroke-width="0.6"/>
<circle cx="427.1" cy="426.5" r="5.0" fill="#00002e" stroke="#000" stroke-width="0.6"/>
<circle cx="429.2" cy="426.6" r="5.0" fill="#00002e" stroke="#000" stroke-width="0.6"/>
<circle cx="431.3" cy="426.8" r="5.0" fill="#00002e" stroke="#000" stroke-width="0.6"/>
<circle cx="433.4" cy="426.9" r="5.0" fill="#00002e" stroke="#000" stroke-width="0.6"/>
<circle cx="435.6" cy="427.0" r="5.0" fill="#00002e" stroke="#000" stroke-width="0.6"/>
<circle cx="437.8" cy="427.1" r="5.0" fill="#00002e" stroke="#000" stroke-width="0.6"/>
<circle cx="440.0" cy="427.2" r="5.0" fill="#00002e" stroke="#000" stroke-width="0.6"/>
<circle cx="442.2" cy="427.3" r="5.0" fill="#00002e" stroke="#000" stroke-width="0.6"/>
<circle cx="444.4" cy="427.4" r="5.0" fill="#00002e" stroke="#000" stroke-width="0.6"/>
<circle cx="446.6" cy="427.5" r="5.0" fill="#00002e" stroke="#000" stroke-width="0.6"/>
<circle cx="448.8" cy="427.6" r="5.0" fill="#00002e" stroke="#000" stroke-width="0.6"/>
<circle cx="450.9" cy="427.7" r="5.0" fill="#00002e" stroke="#000" stroke-width="0.6"/>
<circle cx="453.1" cy="427.8" r="5.0" fill="#00002e" stroke="#000" stroke-width="0.6"/>
<circle cx="455.2" cy="427.8" r="5.0" fill="#00002e" stroke="#000" stroke-width="0.6"/>
<circle cx="457.3" cy="427.9" r="5.0" fill="#00002e" stroke="#000" stroke-width="0.6"/>
<circle cx="459.3" cy="428.0" r="5.0" fill="#00002e" stroke="#000" stroke-width="0.6"/>
<circle cx="461.4" cy="428.0" r="5.0" fill="#00002e" stroke="#000" stroke-width="0.6"/>
<circle cx="463.6" cy="428.1" r="5.0" fill="#00002e" stroke="#000" stroke-width="0.6"/>
<circle cx="465.8" cy="428.2" r="5.0" fill="#00002e" stroke="#000" stroke-width="0.6"/>
<circle cx="468.0" cy="428.2" r="5.0" fill="#00002e" stroke="#000" stroke-width="0.6"/>
<circle cx="470.2" cy="428.3" r="5.0" fill="#00002e" stroke="#000" stroke-width="0.6"/>
<circle cx="472.4" cy="428.3" r="5.0" fill="#00002e" stroke="#000" stroke-width="0.6"/>
<circle cx="474.6" cy="428.3" r="5.0" fill="#00002e" stroke="#000" stroke-width="0.6"/>
<circle cx="476.8" cy="428.4" r="5.0" fill="#00002e" stroke="#000" stroke-width="0.6"/>
<circle cx="479.0" cy="428.4" r="5.0" fill="#00002e" stroke="#000" stroke-width="0.6"/>
<circle cx="481.2" cy="428.4" r="5.0" fill="#00002e" stroke="#000" stroke-width="0.6"/>
<circle cx="483.3" cy="428.4" r="5.0" fill="#00002e" stroke="#000" stroke-width="0.6"/>
<circle cx="485.4" cy="428.5" r="5.0" fill="#00002e" stroke="#000" stroke-width="0.6"/>
<circle cx="487.5" cy="428.5" r="5.0" fill="#00002e" stroke="#000" stroke-width="0.6"/>
<circle cx="489.5" cy="428.5" r="5.0" fill="#00002e" stroke="#000" stroke-width="0.6"/>
<circle cx="491.5" cy="428.5" r="5.0" fill="#00002e" stroke="#000" stroke-width="0.6"/>
<circle cx="493.5" cy="428.5" r="5.0" fill="#00002e" stroke="#000" stroke-width="0.6"/>
<circle cx="495.3" cy="428.5" r="5.0" fill="#00002e" stroke="#000" stroke-width="0.6"/>
<circle cx="497.1" cy="428.6" r="5.0" fill="#00002e" stroke="#000" stroke-width="0.6"/>
<circle cx="499.4" cy="428.6" r="5.0" fill="#00002e" stroke="#000" stroke-width="0.6"/>
<circle cx="501.8" cy="428.6" r="5.0" fill="#00002e" stroke="#000" stroke-width="0.6"/>
<circle cx="504.5" cy="428.7" r="5.0" fill="#00002e" stroke="#000" stroke-width="0.6"/>
<circle cx="507.1" cy="428.7" r="5.0" fill="#00002e" stroke="#000" stroke-width="0.6"/>
<circle cx="509.5" cy="428.8" r="5.0" fill="#00002e" stroke="#000" stroke-width="0.6"/>
<circle cx="511.9" cy="428.8" r="5.0" fill="#00002e" stroke="#000" stroke-width="0.6"/>
<circle cx="514.1" cy="428.8" r="5.0" fill="#00002e" stroke="#000" stroke-width="0.6"/>
<circle cx="516.2" cy="428.9" r="5.0" fill="#00002e" stroke="#000" stroke-width="0.6"/>
<circle cx="518.2" cy="428.9" r="5.0" fill="#00002e" stroke="#000" stroke-width="0.6"/>
<circle cx="520.5" cy="428.9" r="5.0" fill="#00002e" stroke="#000" stroke-width="0.6"/>
<circle cx="522.4" cy="429.0" r="5.0" fill="#00002e" stroke="#000" stroke-width="0.6"/>
<path d="M111.0 512.0L116.0 503.0L106.0 503.0Z" fill="#0010cc"/>
<path d="M114.5 512.0L119.5 503.0L109.5 503.0Z" fill="#0010cc"/>
<path d="M117.9 512.0L122.9 503.0L112.9 503.0Z" fill="#0010cc"/>
<path d="M121.3 511.9L126.3 502.9L116.3 502.9Z" fill="#0010cc"/>
<path d="M124.9 511.8L129.9 502.8L119.9 502.8Z" fill="#0010cc"/>
<path d="M128.0 511.8L133.0 502.8L123.0 502.8Z" fill="#0010cc"/>
<path d="M131.1 511.8L136.1 502.8L126.1 502.8Z" fill="#0010cc"/>
<path d="M134.4 511.7L139.4 502.7L129.4 502.7Z" fill="#0010cc"/>
<path d="M137.7 511.7L142.7 502.7L132.7 502.7Z" fill="#0010cc"/>
<path d="M141.0 511.8L146.0 502.8L136.0 502.8Z" fill="#0010cc"/>
<path d="M144.2 511.8L149.2 502.8L139.2 502.8Z" fill="#0010cc"/>
<path d="M147.4 511.9L152.4 502.9L142.4 502.9Z" fill="#0010cc"/>
<path d="M150.4 512.0L155.4 503.0L145.4 503.0Z" fill="#0010cc"/>
<path d="M154.0 512.3L159.0 503.3L149.0 503.3Z" fill="#0010cc"/>
<path d="M157.2 512.6L162.2 503.6L152.2 503.6Z" fill="#0010cc"/>
<path d="M160.9 513.2L165.9 504.2L155.9 504.2Z" fill="#0010cc"/>
<path d="M164.3 513.9L169.3 504.9L159.3 504.9Z" fill="#0010cc"/>
<path d="M168.0 515.0L173.0 506.0L163.0 506.0Z" fill="#0010cc"/>
<path d="M171.2 516.2L176.2 507.2L166.2 507.2Z" fill="#0010cc"/>
<path d="M174.6 518.0L179.6 509.0L169.6 509.0Z" fill="#0010cc"/>
<path d="M177.7 520.0L182.7 511.0L172.7 511.0Z" fill="#0010cc"/>
<path d="M180.7 522.3L185.7 513.3L175.7 513.3Z" fill="#0010cc"/>
<path d="M184.0 525.0L189.0 516.0L179.0 516.0Z" fill="#0010cc"/>
<path d="M187.3 528.1L192.3 519.1L182.3 519.1Z" fill="#0010cc"/>
<path d="M190.6 531.8L195.6 522.8L185.6 522.8Z" fill="#0010cc"/>
<path d="M193.8 535.8L198.8 526.8L188.8 526.8Z" fill="#0010cc"/>
<path d="M196.9 540.0L201.9 531.0L191.9 531.0Z" fill="#0010cc"/>
<path d="M200.0 544.0L205.0 535.0L195.0 535.0Z" fill="#0010cc"/>
<path d="M203.4 548.2L208.4 539.2L198.4 539.2Z" fill="#0010cc"/>
<path d="M206.7 551.8L211.7 542.8L201.7 542.8Z" fill="#0010cc"/>
<path d="M209.9 555.1L214.9 546.1L204.9 546.1Z" fill="#0010cc"/>
<path d="M213.0 558.1L218.0 549.1L208.0 549.1Z" fill="#0010cc"/>
<path d="M216.5 561.2L221.5 552.2L211.5 552.2Z" fill="#0010cc"/>
<path d="M220.0 563.8L225.0 554.8L215.0 554.8Z" fill="#0010cc"/>
<path d="M223.4 565.7L228.4 556.7L218.4 556.7Z" fill="#0010cc"/>
<path d="M226.8 567.3L231.8 558.3L221.8 558.3Z" fill="#0010cc"/>
<path d="M230.2 568.4L235.2 559.4L225.2 559.4Z" fill="#0010cc"/>
<path d="M233.6 569.0L238.6 560.0L228.6 560.0Z" fill="#0010cc"/>
<path d="M237.0 569.1L242.0 560.1L232.0 560.1Z" fill="#0010cc"/>
<path d="M240.3 568.8L245.3 559.8L235.3 559.8Z" fill="#0010cc"/>
<path d="M243.5 568.1L248.5 559.1L238.5 559.1Z" fill="#0010cc"/>
<path d="M246.8 567.0L251.8 558.0L241.8 558.0Z" fill="#0010cc"/>
<path d="M250.0 565.5L255.0 556.5L245.0 556.5Z" fill="#0010cc"/>
<path d="M253.1 563.5L258.1 554.5L248.1 554.5Z" fill="#0010cc"/>
<path d="M256.4 560.6L261.4 551.6L251.4 551.6Z" fill="#0010cc"/>
<path d="M259.4 556.6L264.4 547.6L254.4 547.6Z" fill="#0010cc"/>
<path d="M262.6 551.1L267.6 542.1L257.6 542.1Z" fill="#0010cc"/>
<path d="M265.8 544.6L270.8 535.6L260.8 535.6Z" fill="#0010cc"/>
<path d="M268.9 538.4L273.9 529.4L263.9 529.4Z" fill="#0010cc"/>
<path d="M272.1 531.8L277.1 522.8L267.1 522.8Z" fill="#0010cc"/>
<path d="M275.1 525.4L280.1 516.4L270.1 516.4Z" fill="#0010cc"/>
<path d="M278.1 519.0L283.1 510.0L273.1 510.0Z" fill="#0010cc"/>
<path d="M281.4 512.9L286.4 503.9L276.4 503.9Z" fill="#0010cc"/>
<path d="M284.4 507.6L289.4 498.6L279.4 498.6Z" fill="#0010cc"/>
<path d="M287.4 501.0L292.4 492.0L282.4 492.0Z" fill="#0010cc"/>
<path d="M290.0 493.8L295.0 484.8L285.0 484.8Z" fill="#0010cc"/>
<path d="M292.7 486.6L297.7 477.6L287.7 477.6Z" fill="#0010cc"/>
<path d="M295.4 479.7L300.4 470.7L290.4 470.7Z" fill="#0010cc"/>
<path d="M298.2 472.8L303.2 463.8L293.2 463.8Z" fill="#0010cc"/>
<path d="M300.6 466.1L305.6 457.1L295.6 457.1Z" fill="#0010cc"/>
<path d="M302.8 459.4L307.8 450.4L297.8 450.4Z" fill="#0010cc"/>
<path d="M304.9 452.4L309.9 443.4L299.9 443.4Z" fill="#0010cc"/>
<path d="M307.3 445.3L312.3 436.3L302.3 436.3Z" fill="#0010cc"/>
<path d="M310.0 438.4L315.0 429.4L305.0 429.4Z" fill="#0010cc"/>
<path d="M312.8 431.9L317.8 422.9L307.8 422.9Z" fill="#0010cc"/>
<path d="M315.7 425.0L320.7 416.0L310.7 416.0Z" fill="#0010cc"/>
<path d="M318.5 418.3L323.5 409.3L313.5 409.3Z" fill="#0010cc"/>
<path d="M321.3 411.5L326.3 402.5L316.3 402.5Z" fill="#0010cc"/>
<path d="M324.2 404.4L329.2 395.4L319.2 395.4Z" fill="#0010cc"/>
<path d="M327.2 397.5L332.2 388.5L322.2 388.5Z" fill="#0010cc"/>
<path d="M330.2 390.7L335.2 381.7L325.2 381.7Z" fill="#0010cc"/>
<path d="M333.4 383.9L338.4 374.9L328.4 374.9Z" fill="#0010cc"/>
<path d="M336.5 377.5L341.5 368.5L331.5 368.5Z" fill="#0010cc"/>
<path d="M339.8 371.0L344.8 362.0L334.8 362.0Z" fill="#0010cc"/>
<path d="M342.9 365.3L347.9 356.3L337.9 356.3Z" fill="#0010cc"/>
<path d="M346.3 359.8L351.3 350.8L341.3 350.8Z" fill="#0010cc"/>
<path d="M349.6 355.8L354.6 346.8L344.6 346.8Z" fill="#0010cc"/>
<path d="M352.8 353.4L357.8 344.4L347.8 344.4Z" fill="#0010cc"/>
<path d="M356.2 351.2L361.2 342.2L351.2 342.2Z" fill="#0010cc"/>
<path d="M359.5 349.6L364.5 340.6L354.5 340.6Z" fill="#0010cc"/>
<path d="M363.0 349.0L368.0 340.0L358.0 340.0Z" fill="#0010cc"/>
<path d="M363.0 349.0L368.0 340.0L358.0 340.0Z" fill="#0010cc"/>
<path d="M364.9 349.1L369.9 340.1L359.9 340.1Z" fill="#0010cc"/>
<path d="M366.9 349.5L371.9 340.5L361.9 340.5Z" fill="#0010cc"/>
<path d="M368.9 350.1L373.9 341.1L363.9 341.1Z" fill="#0010cc"/>
<path d="M371.0 350.9L376.0 341.9L366.0 341.9Z" fill="#0010cc"/>
<path d="M373.0 352.0L378.0 343.0L368.0 343.0Z" fill="#0010cc"/>
<path d="M374.8 353.2L379.8 344.2L369.8 344.2Z" fill="#0010cc"/>
<path d="M376.9 355.0L381.9 346.0L371.9 346.0Z" fill="#0010cc"/>
<path d="M378.8 356.8L383.8 347.8L373.8 347.8Z" fill="#0010cc"/>
<path d="M381.0 359.0L386.0 350.0L376.0 350.0Z" fill="#0010cc"/>
<path d="M383.0 361.0L388.0 352.0L378.0 352.0Z" fill="#0010cc"/>
<path d="M385.0 362.9L390.0 353.9L380.0 353.9Z" fill="#0010cc"/>
<path d="M387.2 365.1L392.2 356.1L382.2 356.1Z" fill="#0010cc"/>
<path d="M389.1 367.0L394.1 358.0L384.1 358.0Z" fill="#0010cc"/>
<path d="M391.1 369.0L396.1 360.0L386.1 360.0Z" fill="#0010cc"/>
<path d="M393.2 371.1L398.2 362.1L388.2 362.1Z" fill="#0010cc"/>
<path d="M395.3 373.2L400.3 364.2L390.3 364.2Z" fill="#0010cc"/>
<path d="M397.4 375.3L402.4 366.3L392.4 366.3Z" fill="#0010cc"/>
<path d="M399.5 377.5L404.5 368.5L394.5 368.5Z" fill="#0010cc"/>
<path d="M401.5 379.5L406.5 370.5L396.5 370.5Z" fill="#0010cc"/>
<path d="M403.5 381.5L408.5 372.5L398.5 372.5Z" fill="#0010cc"/>
<path d="M405.4 383.5L410.4 374.5L400.4 374.5Z" fill="#0010cc"/>
<path d="M407.3 385.6L412.3 376.6L402.3 376.6Z" fill="#0010cc"/>
<path d="M409.2 387.7L414.2 378.7L404.2 378.7Z" fill="#0010cc"/>
<path d="M411.1 389.7L416.1 380.7L406.1 380.7Z" fill="#0010cc"/>
<path d="M413.1 391.8L418.1 382.8L408.1 382.8Z" fill="#0010cc"/>
<path d="M415.0 393.8L420.0 384.8L410.0 384.8Z" fill="#0010cc"/>
<path d="M416.9 395.8L421.9 386.8L411.9 386.8Z" fill="#0010cc"/>
<path d="M418.9 397.7L423.9 388.7L413.9 388.7Z" fill="#0010cc"/>
<path d="M420.9 399.4L425.9 390.4L415.9 390.4Z" fill="#0010cc"/>
<path d="M423.0 401.0L428.0 392.0L418.0 392.0Z" fill="#0010cc"/>
<path d="M425.2 402.6L430.2 393.6L420.2 393.6Z" fill="#0010cc"/>
<path d="M427.2 404.1L432.2 395.1L422.2 395.1Z" fill="#0010cc"/>
<path d="M429.1 405.5L434.1 396.5L424.1 396.5Z" fill="#0010cc"/>
<path d="M431.1 406.8L436.1 397.8L426.1 397.8Z" fill="#0010cc"/>
<path d="M433.2 407.9L438.2 398.9L428.2 398.9Z" fill="#0010cc"/>
<path d="M435.5 409.0L440.5 400.0L430.5 400.0Z" fill="#0010cc"/>
<path d="M437.5 409.8L442.5 400.8L432.5 400.8Z" fill="#0010cc"/>
<path d="M439.7 410.5L444.7 401.5L434.7 401.5Z" fill="#0010cc"/>
<path d="M442.2 411.2L447.2 402.2L437.2 402.2Z" fill="#0010cc"/>
<path d="M444.0 411.6L449.0 402.6L439.0 402.6Z" fill="#0010cc"/>
<path d="M446.0 412.0L451.0 403.0L441.0 403.0Z" fill="#0010cc"/>
<path d="M448.0 412.4L453.0 403.4L443.0 403.4Z" fill="#0010cc"/>
<path d="M450.2 412.7L455.2 403.7L445.2 403.7Z" fill="#0010cc"/>
<path d="M452.5 413.0L457.5 404.0L447.5 404.0Z" fill="#0010cc"/>
<path d="M454.9 413.3L459.9 404.3L449.9 404.3Z" fill="#0010cc"/>
<path d="M456.7 413.5L461.7 404.5L451.7 404.5Z" fill="#0010cc"/>
<path d="M458.7 413.7L463.7 404.7L453.7 404.7Z" fill="#0010cc"/>
<path d="M460.6 413.9L465.6 404.9L455.6 404.9Z" fill="#0010cc"/>
<path d="M462.6 414.1L467.6 405.1L457.6 405.1Z" fill="#0010cc"/>
<path d="M464.7 414.2L469.7 405.2L459.7 405.2Z" fill="#0010cc"/>
<path d="M466.8 414.4L471.8 405.4L461.8 405.4Z" fill="#0010cc"/>
<path d="M468.9 414.5L473.9 405.5L463.9 405.5Z" fill="#0010cc"/>
<path d="M471.1 414.7L476.1 405.7L466.1 405.7Z" fill="#0010cc"/>
<path d="M473.3 414.8L478.3 405.8L468.3 405.8Z" fill="#0010cc"/>
<path d="M475.5 414.9L480.5 405.9L470.5 405.9Z" fill="#0010cc"/>
<path d="M477.8 415.0L482.8 406.0L472.8 406.0Z" fill="#0010cc"/>
<path d="M480.0 415.1L485.0 406.1L475.0 406.1Z" fill="#0010cc"/>
<path d="M482.3 415.3L487.3 406.3L477.3 406.3Z" fill="#0010cc"/>
<path d="M484.6 415.4L489.6 406.4L479.6 406.4Z" fill="#0010cc"/>
<path d="M486.9 415.5L491.9 406.5L481.9 406.5Z" fill="#0010cc"/>
<path d="M489.2 415.6L494.2 406.6L484.2 406.6Z" fill="#0010cc"/>
<path d="M491.5 415.7L496.5 406.7L486.5 406.7Z" fill="#0010cc"/>
<path d="M493.9 415.7L498.9 406.7L488.9 406.7Z" fill="#0010cc"/>
<path d="M496.2 415.8L501.2 406.8L491.2 406.8Z" fill="#0010cc"/>
<path d="M498.5 415.9L503.5 406.9L493.5 406.9Z" fill="#0010cc"/>
<path d="M500.6 416.0L505.6 407.0L495.6 407.0Z" fill="#0010cc"/>
<path d="M502.6 416.1L507.6 407.1L497.6 407.1Z" fill="#0010cc"/>
<path d="M504.7 416.2L509.7 407.2L499.7 407.2Z" fill="#0010cc"/>
<path d="M506.9 416.2L511.9 407.2L501.9 407.2Z" fill="#0010cc"/>
<path d="M509.1 416.3L514.1 407.3L504.1 407.3Z" fill="#0010cc"/>
<path d="M511.3 416.4L516.3 407.4L506.3 407.4Z" fill="#0010cc"/>
<path d="M513.6 416.4L518.6 407.4L508.6 407.4Z" fill="#0010cc"/>
<path d="M516.0 416.5L521.0 407.5L511.0 407.5Z" fill="#0010cc"/>
<path d="M518.4 416.5L523.4 407.5L513.4 407.5Z" fill="#0010cc"/>
<path d="M520.8 416.6L525.8 407.6L515.8 407.6Z" fill="#0010cc"/>
<path d="M523.3 416.6L528.3 407.6L518.3 407.6Z" fill="#0010cc"/>
<path d="M525.7 416.6L530.7 407.6L520.7 407.6Z" fill="#0010cc"/>
<path d="M528.2 416.7L533.2 407.7L523.2 407.7Z" fill="#0010cc"/>
<path d="M530.6 416.7L535.6 407.7L525.6 407.7Z" fill="#0010cc"/>
<path d="M533.1 416.7L538.1 407.7L528.1 407.7Z" fill="#0010cc"/>
<path d="M535.5 416.7L540.5 407.7L530.5 407.7Z" fill="#0010cc"/>
<path d="M537.9 416.8L542.9 407.8L532.9 407.8Z" fill="#0010cc"/>
<path d="M540.2 416.8L545.2 407.8L535.2 407.8Z" fill="#0010cc"/>
<path d="M542.5 416.8L547.5 407.8L537.5 407.8Z" fill="#0010cc"/>
<path d="M544.8 416.8L549.8 407.8L539.8 407.8Z" fill="#0010cc"/>
<path d="M547.0 416.8L552.0 407.8L542.0 407.8Z" fill="#0010cc"/>
<path d="M549.2 416.9L554.2 407.9L544.2 407.9Z" fill="#0010cc"/>
<path d="M551.2 416.9L556.2 407.9L546.2 407.9Z" fill="#0010cc"/>
<path d="M553.2 416.9L558.2 407.9L548.2 407.9Z" fill="#0010cc"/>
<path d="M555.1 416.9L560.1 407.9L550.1 407.9Z" fill="#0010cc"/>
<path d="M556.9 416.9L561.9 407.9L551.9 407.9Z" fill="#0010cc"/>
<path d="M559.2 416.9L564.2 407.9L554.2 407.9Z" fill="#0010cc"/>
<path d="M561.2 417.0L566.2 408.0L556.2 408.0Z" fill="#0010cc"/>
<path d="M563.1 417.0L568.1 408.0L558.1 408.0Z" fill="#0010cc"/>
<path d="M565.0 417.0L570.0 408.0L560.0 408.0Z" fill="#0010cc"/>
<path d="M111.0 502.5L116.0 508.0L111.0 513.5L106.0 508.0Z" fill="#ff00ff"/>
<path d="M113.0 502.6L118.0 508.1L113.0 513.6L108.0 508.1Z" fill="#ff00ff"/>
<path d="M115.0 502.6L120.0 508.1L115.0 513.6L110.0 508.1Z" fill="#ff00ff"/>
<path d="M117.3 502.6L122.3 508.1L117.3 513.6L112.3 508.1Z" fill="#ff00ff"/>
<path d="M119.9 502.6L124.9 508.1L119.9 513.6L114.9 508.1Z" fill="#ff00ff"/>
<path d="M122.0 502.7L127.0 508.2L122.0 513.7L117.0 508.2Z" fill="#ff00ff"/>
<path d="M124.2 502.7L129.2 508.2L124.2 513.7L119.2 508.2Z" fill="#ff00ff"/>
<path d="M126.5 502.7L131.5 508.2L126.5 513.7L121.5 508.2Z" fill="#ff00ff"/>
<path d="M128.8 502.7L133.8 508.2L128.8 513.7L123.8 508.2Z" fill="#ff00ff"/>
<path d="M131.3 502.8L136.3 508.3L131.3 513.8L126.3 508.3Z" fill="#ff00ff"/>
<path d="M133.7 502.8L138.7 508.3L133.7 513.8L128.7 508.3Z" fill="#ff00ff"/>
<path d="M136.2 502.9L141.2 508.4L136.2 513.9L131.2 508.4Z" fill="#ff00ff"/>
<path d="M138.7 502.9L143.7 508.4L138.7 513.9L133.7 508.4Z" fill="#ff00ff"/>
<path d="M141.1 503.0L146.1 508.5L141.1 514.0L136.1 508.5Z" fill="#ff00ff"/>
<path d="M143.6 503.1L148.6 508.6L143.6 514.1L138.6 508.6Z" fill="#ff00ff"/>
<path d="M146.0 503.2L151.0 508.7L146.0 514.2L141.0 508.7Z" fill="#ff00ff"/>
<path d="M148.3 503.3L153.3 508.8L148.3 514.3L143.3 508.8Z" fill="#ff00ff"/>
<path d="M150.6 503.5L155.6 509.0L150.6 514.5L145.6 509.0Z" fill="#ff00ff"/>
<path d="M152.7 503.6L157.7 509.1L152.7 514.6L147.7 509.1Z" fill="#ff00ff"/>
<path d="M154.7 503.8L159.7 509.3L154.7 514.8L149.7 509.3Z" fill="#ff00ff"/>
<path d="M157.3 504.1L162.3 509.6L157.3 515.1L152.3 509.6Z" fill="#ff00ff"/>
<path d="M159.5 504.4L164.5 509.9L159.5 515.4L154.5 509.9Z" fill="#ff00ff"/>
<path d="M161.9 504.8L166.9 510.3L161.9 515.8L156.9 510.3Z" fill="#ff00ff"/>
<path d="M164.5 505.3L169.5 510.8L164.5 516.3L159.5 510.8Z" fill="#ff00ff"/>
<path d="M166.8 505.7L171.8 511.2L166.8 516.7L161.8 511.2Z" fill="#ff00ff"/>
<path d="M168.9 506.2L173.9 511.7L168.9 517.2L163.9 511.7Z" fill="#ff00ff"/>
<path d="M171.3 506.8L176.3 512.3L171.3 517.8L166.3 512.3Z" fill="#ff00ff"/>
<path d="M173.5 507.7L178.5 513.2L173.5 518.7L168.5 513.2Z" fill="#ff00ff"/>
<path d="M175.5 508.8L180.5 514.3L175.5 519.8L170.5 514.3Z" fill="#ff00ff"/>
<path d="M178.0 510.7L183.0 516.2L178.0 521.7L173.0 516.2Z" fill="#ff00ff"/>
<path d="M180.4 513.4L185.4 518.9L180.4 524.4L175.4 518.9Z" fill="#ff00ff"/>
<path d="M182.0 515.5L187.0 521.0L182.0 526.5L177.0 521.0Z" fill="#ff00ff"/>
<path d="M186.5 524.1L191.5 529.6L186.5 535.1L181.5 529.6Z" fill="#ff00ff"/>
<path d="M190.2 533.8L195.2 539.3L190.2 544.8L185.2 539.3Z" fill="#ff00ff"/>
<path d="M193.5 543.5L198.5 549.0L193.5 554.5L188.5 549.0Z" fill="#ff00ff"/>
<path d="M196.8 553.0L201.8 558.5L196.8 564.0L191.8 558.5Z" fill="#ff00ff"/>
<path d="M201.0 562.5L206.0 568.0L201.0 573.5L196.0 568.0Z" fill="#ff00ff"/>
<path d="M205.5 569.4L210.5 574.9L205.5 580.4L200.5 574.9Z" fill="#ff00ff"/>
<path d="M209.9 576.3L214.9 581.8L209.9 587.3L204.9 581.8Z" fill="#ff00ff"/>
<path d="M214.0 585.4L219.0 590.9L214.0 596.4L209.0 590.9Z" fill="#ff00ff"/>
<path d="M217.6 594.8L222.6 600.3L217.6 605.8L212.6 600.3Z" fill="#ff00ff"/>
<path d="M221.3 604.6L226.3 610.1L221.3 615.6L216.3 610.1Z" fill="#ff00ff"/>
<path d="M225.3 614.2L230.3 619.7L225.3 625.2L220.3 619.7Z" fill="#ff00ff"/>
<path d="M229.7 623.5L234.7 629.0L229.7 634.5L224.7 629.0Z" fill="#ff00ff"/>
<path d="M234.2 632.1L239.2 637.6L234.2 643.1L229.2 637.6Z" fill="#ff00ff"/>
<path d="M238.6 640.8L243.6 646.3L238.6 651.8L233.6 646.3Z" fill="#ff00ff"/>
<path d="M243.2 650.5L248.2 656.0L243.2 661.5L238.2 656.0Z" fill="#ff00ff"/>
<path d="M247.2 659.7L252.2 665.2L247.2 670.7L242.2 665.2Z" fill="#ff00ff"/>
<path d="M251.7 669.5L256.7 675.0L251.7 680.5L246.7 675.0Z" fill="#ff00ff"/>
<path d="M256.1 677.8L261.1 683.3L256.1 688.8L251.1 683.3Z" fill="#ff00ff"/>
<path d="M259.0 681.5L264.0 687.0L259.0 692.5L254.0 687.0Z" fill="#ff00ff"/>
<path d="M265.1 674.7L270.1 680.2L265.1 685.7L260.1 680.2Z" fill="#ff00ff"/>
<path d="M269.9 658.7L274.9 664.2L269.9 669.7L264.9 664.2Z" fill="#ff00ff"/>
<path d="M274.4 642.1L279.4 647.6L274.4 653.1L269.4 647.6Z" fill="#ff00ff"/>
<path d="M278.4 625.6L283.4 631.1L278.4 636.6L273.4 631.1Z" fill="#ff00ff"/>
<path d="M282.1 608.9L287.1 614.4L282.1 619.9L277.1 614.4Z" fill="#ff00ff"/>
<path d="M285.4 592.2L290.4 597.7L285.4 603.2L280.4 597.7Z" fill="#ff00ff"/>
<path d="M288.2 575.5L293.2 581.0L288.2 586.5L283.2 581.0Z" fill="#ff00ff"/>
<path d="M290.9 558.5L295.9 564.0L290.9 569.5L285.9 564.0Z" fill="#ff00ff"/>
<path d="M293.5 542.2L298.5 547.7L293.5 553.2L288.5 547.7Z" fill="#ff00ff"/>
<path d="M296.2 525.6L301.2 531.1L296.2 536.6L291.2 531.1Z" fill="#ff00ff"/>
<path d="M300.7 509.3L305.7 514.8L300.7 520.3L295.7 514.8Z" fill="#ff00ff"/>
<path d="M306.4 493.4L311.4 498.9L306.4 504.4L301.4 498.9Z" fill="#ff00ff"/>
<path d="M309.8 476.8L314.8 482.3L309.8 487.8L304.8 482.3Z" fill="#ff00ff"/>
<path d="M313.3 460.2L318.3 465.7L313.3 471.2L308.3 465.7Z" fill="#ff00ff"/>
<path d="M317.2 443.9L322.2 449.4L317.2 454.9L312.2 449.4Z" fill="#ff00ff"/>
<path d="M322.5 427.7L327.5 433.2L322.5 438.7L317.5 433.2Z" fill="#ff00ff"/>
<path d="M328.4 411.6L333.4 417.1L328.4 422.6L323.4 417.1Z" fill="#ff00ff"/>
<path d="M334.3 395.6L339.3 401.1L334.3 406.6L329.3 401.1Z" fill="#ff00ff"/>
<path d="M339.6 379.3L344.6 384.8L339.6 390.3L334.6 384.8Z" fill="#ff00ff"/>
<path d="M344.4 363.3L349.4 368.8L344.4 374.3L339.4 368.8Z" fill="#ff00ff"/>
<path d="M349.0 347.4L354.0 352.9L349.0 358.4L344.0 352.9Z" fill="#ff00ff"/>
<path d="M353.8 331.2L358.8 336.7L353.8 342.2L348.8 336.7Z" fill="#ff00ff"/>
<path d="M358.8 315.0L363.8 320.5L358.8 326.0L353.8 320.5Z" fill="#ff00ff"/>
<path d="M363.6 299.1L368.6 304.6L363.6 310.1L358.6 304.6Z" fill="#ff00ff"/>
<path d="M368.9 282.9L373.9 288.4L368.9 293.9L363.9 288.4Z" fill="#ff00ff"/>
<path d="M374.5 267.3L379.5 272.8L374.5 278.3L369.5 272.8Z" fill="#ff00ff"/>
<path d="M380.7 254.6L385.7 260.1L380.7 265.6L375.7 260.1Z" fill="#ff00ff"/>
<path d="M386.8 246.6L391.8 252.1L386.8 257.6L381.8 252.1Z" fill="#ff00ff"/>
<path d="M390.9 244.5L395.9 250.0L390.9 255.5L385.9 250.0Z" fill="#ff00ff"/>
<path d="M393.0 244.9L398.0 250.4L393.0 255.9L388.0 250.4Z" fill="#ff00ff"/>
<path d="M395.1 246.6L400.1 252.1L395.1 257.6L390.1 252.1Z" fill="#ff00ff"/>
<path d="M397.2 249.0L402.2 254.5L397.2 260.0L392.2 254.5Z" fill="#ff00ff"/>
<path d="M399.1 251.4L404.1 256.9L399.1 262.4L394.1 256.9Z" fill="#ff00ff"/>
<path d="M401.1 253.7L406.1 259.2L401.1 264.7L396.1 259.2Z" fill="#ff00ff"/>
<path d="M403.2 256.4L408.2 261.9L403.2 267.4L398.2 261.9Z" fill="#ff00ff"/>
<path d="M404.5 258.9L409.5 264.4L404.5 269.9L399.5 264.4Z" fill="#ff00ff"/>
<path d="M405.7 261.5L410.7 267.0L405.7 272.5L400.7 267.0Z" fill="#ff00ff"/>
<path d="M406.9 264.1L411.9 269.6L406.9 275.1L401.9 269.6Z" fill="#ff00ff"/>
<path d="M408.1 266.7L413.1 272.2L408.1 277.7L403.1 272.2Z" fill="#ff00ff"/>
<path d="M409.4 269.6L414.4 275.1L409.4 280.6L404.4 275.1Z" fill="#ff00ff"/>
<path d="M410.7 272.8L415.7 278.3L410.7 283.8L405.7 278.3Z" fill="#ff00ff"/>
<path d="M411.9 275.4L416.9 280.9L411.9 286.4L406.9 280.9Z" fill="#ff00ff"/>
<path d="M413.1 278.2L418.1 283.7L413.1 289.2L408.1 283.7Z" fill="#ff00ff"/>
<path d="M414.3 281.0L419.3 286.5L414.3 292.0L409.3 286.5Z" fill="#ff00ff"/>
<path d="M415.5 283.9L420.5 289.4L415.5 294.9L410.5 289.4Z" fill="#ff00ff"/>
<path d="M416.7 286.7L421.7 292.2L416.7 297.7L411.7 292.2Z" fill="#ff00ff"/>
<path d="M418.0 289.6L423.0 295.1L418.0 300.6L413.0 295.1Z" fill="#ff00ff"/>
<path d="M419.2 292.4L424.2 297.9L419.2 303.4L414.2 297.9Z" fill="#ff00ff"/>
<path d="M420.3 295.2L425.3 300.7L420.3 306.2L415.3 300.7Z" fill="#ff00ff"/>
<path d="M421.4 297.8L426.4 303.3L421.4 308.8L416.4 303.3Z" fill="#ff00ff"/>
<path d="M422.7 300.9L427.7 306.4L422.7 311.9L417.7 306.4Z" fill="#ff00ff"/>
<path d="M423.9 303.6L428.9 309.1L423.9 314.6L418.9 309.1Z" fill="#ff00ff"/>
<path d="M425.0 306.3L430.0 311.8L425.0 317.3L420.0 311.8Z" fill="#ff00ff"/>
<path d="M426.1 309.0L431.1 314.5L426.1 320.0L421.1 314.5Z" fill="#ff00ff"/>
<path d="M427.2 311.6L432.2 317.1L427.2 322.6L422.2 317.1Z" fill="#ff00ff"/>
<path d="M428.3 314.2L433.3 319.7L428.3 325.2L423.3 319.7Z" fill="#ff00ff"/>
<path d="M429.6 317.4L434.6 322.9L429.6 328.4L424.6 322.9Z" fill="#ff00ff"/>
<path d="M430.8 320.6L435.8 326.1L430.8 331.6L425.8 326.1Z" fill="#ff00ff"/>
<path d="M432.1 323.7L437.1 329.2L432.1 334.7L427.1 329.2Z" fill="#ff00ff"/>
<path d="M433.4 326.8L438.4 332.3L433.4 337.8L428.4 332.3Z" fill="#ff00ff"/>
<path d="M434.7 329.9L439.7 335.4L434.7 340.9L429.7 335.4Z" fill="#ff00ff"/>
<path d="M436.0 333.0L441.0 338.5L436.0 344.0L431.0 338.5Z" fill="#ff00ff"/>
<path d="M437.3 336.2L442.3 341.7L437.3 347.2L432.3 341.7Z" fill="#ff00ff"/>
<path d="M438.4 338.9L443.4 344.4L438.4 349.9L433.4 344.4Z" fill="#ff00ff"/>
<path d="M439.5 341.6L444.5 347.1L439.5 352.6L434.5 347.1Z" fill="#ff00ff"/>
<path d="M440.5 344.4L445.5 349.9L440.5 355.4L435.5 349.9Z" fill="#ff00ff"/>
<path d="M441.6 347.2L446.6 352.7L441.6 358.2L436.6 352.7Z" fill="#ff00ff"/>
<path d="M442.7 350.0L447.7 355.5L442.7 361.0L437.7 355.5Z" fill="#ff00ff"/>
<path d="M443.8 352.8L448.8 358.2L443.8 363.8L438.8 358.2Z" fill="#ff00ff"/>
<path d="M444.9 355.4L449.9 360.9L444.9 366.4L439.9 360.9Z" fill="#ff00ff"/>
<path d="M446.0 358.0L451.0 363.5L446.0 369.0L441.0 363.5Z" fill="#ff00ff"/>
<path d="M447.4 361.1L452.4 366.6L447.4 372.1L442.4 366.6Z" fill="#ff00ff"/>
<path d="M448.9 364.0L453.9 369.5L448.9 375.0L443.9 369.5Z" fill="#ff00ff"/>
<path d="M450.4 366.6L455.4 372.1L450.4 377.6L445.4 372.1Z" fill="#ff00ff"/>
<path d="M452.4 369.5L457.4 375.0L452.4 380.5L447.4 375.0Z" fill="#ff00ff"/>
<path d="M454.3 371.8L459.3 377.3L454.3 382.8L449.3 377.3Z" fill="#ff00ff"/>
<path d="M456.1 373.8L461.1 379.3L456.1 384.8L451.1 379.3Z" fill="#ff00ff"/>
<path d="M458.0 375.5L463.0 381.0L458.0 386.5L453.0 381.0Z" fill="#ff00ff"/>
<path d="M460.0 377.1L465.0 382.6L460.0 388.1L455.0 382.6Z" fill="#ff00ff"/>
<path d="M462.1 378.4L467.1 383.9L462.1 389.4L457.1 383.9Z" fill="#ff00ff"/>
<path d="M464.5 379.7L469.5 385.2L464.5 390.7L459.5 385.2Z" fill="#ff00ff"/>
<path d="M466.5 380.6L471.5 386.1L466.5 391.6L461.5 386.1Z" fill="#ff00ff"/>
<path d="M468.6 381.5L473.6 387.0L468.6 392.5L463.6 387.0Z" fill="#ff00ff"/>
<path d="M470.8 382.3L475.8 387.8L470.8 393.3L465.8 387.8Z" fill="#ff00ff"/>
<path d="M473.0 383.1L478.0 388.6L473.0 394.1L468.0 388.6Z" fill="#ff00ff"/>
<path d="M475.3 383.7L480.3 389.2L475.3 394.7L470.3 389.2Z" fill="#ff00ff"/>
<path d="M477.2 384.2L482.2 389.7L477.2 395.2L472.2 389.7Z" fill="#ff00ff"/>
<path d="M479.0 384.6L484.0 390.1L479.0 395.6L474.0 390.1Z" fill="#ff00ff"/>
<path d="M481.0 384.9L486.0 390.4L481.0 395.9L476.0 390.4Z" fill="#ff00ff"/>
<path d="M482.9 385.3L487.9 390.8L482.9 396.3L477.9 390.8Z" fill="#ff00ff"/>
<path d="M485.0 385.6L490.0 391.1L485.0 396.6L480.0 391.1Z" fill="#ff00ff"/>
<path d="M487.2 386.0L492.2 391.5L487.2 397.0L482.2 391.5Z" fill="#ff00ff"/>
<path d="M489.4 386.3L494.4 391.8L489.4 397.3L484.4 391.8Z" fill="#ff00ff"/>
<path d="M491.7 386.5L496.7 392.0L491.7 397.5L486.7 392.0Z" fill="#ff00ff"/>
<path d="M494.1 386.8L499.1 392.3L494.1 397.8L489.1 392.3Z" fill="#ff00ff"/>
<path d="M496.5 387.1L501.5 392.6L496.5 398.1L491.5 392.6Z" fill="#ff00ff"/>
<path d="M499.1 387.4L504.1 392.9L499.1 398.4L494.1 392.9Z" fill="#ff00ff"/>
<path d="M501.1 387.6L506.1 393.1L501.1 398.6L496.1 393.1Z" fill="#ff00ff"/>
<path d="M503.5 387.9L508.5 393.4L503.5 398.9L498.5 393.4Z" fill="#ff00ff"/>
<path d="M505.3 388.0L510.3 393.5L505.3 399.0L500.3 393.5Z" fill="#ff00ff"/>
<path d="M507.2 388.2L512.2 393.7L507.2 399.2L502.2 393.7Z" fill="#ff00ff"/>
<path d="M509.2 388.4L514.2 393.9L509.2 399.4L504.2 393.9Z" fill="#ff00ff"/>
<path d="M511.1 388.5L516.1 394.0L511.1 399.5L506.1 394.0Z" fill="#ff00ff"/>
<path d="M513.1 388.7L518.1 394.2L513.1 399.7L508.1 394.2Z" fill="#ff00ff"/>
<path d="M515.2 388.8L520.2 394.3L515.2 399.8L510.2 394.3Z" fill="#ff00ff"/>
<path d="M517.3 388.9L522.3 394.4L517.3 399.9L512.3 394.4Z" fill="#ff00ff"/>
<path d="M519.4 389.1L524.4 394.6L519.4 400.1L514.4 394.6Z" fill="#ff00ff"/>
<path d="M521.5 389.2L526.5 394.7L521.5 400.2L516.5 394.7Z" fill="#ff00ff"/>
<path d="M523.6 389.3L528.6 394.8L523.6 400.3L518.6 394.8Z" fill="#ff00ff"/>
<path d="M525.8 389.4L530.8 394.9L525.8 400.4L520.8 394.9Z" fill="#ff00ff"/>
<path d="M528.0 389.5L533.0 395.0L528.0 400.5L523.0 395.0Z" fill="#ff00ff"/>
<path d="M530.2 389.7L535.2 395.2L530.2 400.7L525.2 395.2Z" fill="#ff00ff"/>
<path d="M532.4 389.8L537.4 395.3L532.4 400.8L527.4 395.3Z" fill="#ff00ff"/>
<path d="M534.6 389.9L539.6 395.4L534.6 400.9L529.6 395.4Z" fill="#ff00ff"/>
<path d="M536.9 390.0L541.9 395.5L536.9 401.0L531.9 395.5Z" fill="#ff00ff"/>
<path d="M539.1 390.1L544.1 395.6L539.1 401.1L534.1 395.6Z" fill="#ff00ff"/>
<path d="M541.3 390.2L546.3 395.7L541.3 401.2L536.3 395.7Z" fill="#ff00ff"/>
<path d="M543.5 390.2L548.5 395.7L543.5 401.2L538.5 395.7Z" fill="#ff00ff"/>
<path d="M545.7 390.3L550.7 395.8L545.7 401.3L540.7 395.8Z" fill="#ff00ff"/>
<path d="M547.8 390.4L552.8 395.9L547.8 401.4L542.8 395.9Z" fill="#ff00ff"/>
<path d="M550.0 390.5L555.0 396.0L550.0 401.5L545.0 396.0Z" fill="#ff00ff"/>
<path d="M552.1 390.6L557.1 396.1L552.1 401.6L547.1 396.1Z" fill="#ff00ff"/>
<path d="M554.2 390.6L559.2 396.1L554.2 401.6L549.2 396.1Z" fill="#ff00ff"/>
<path d="M556.5 390.7L561.5 396.2L556.5 401.7L551.5 396.2Z" fill="#ff00ff"/>
<path d="M558.8 390.8L563.8 396.3L558.8 401.8L553.8 396.3Z" fill="#ff00ff"/>
<path d="M561.1 390.8L566.1 396.3L561.1 401.8L556.1 396.3Z" fill="#ff00ff"/>
<path d="M563.5 390.9L568.5 396.4L563.5 401.9L558.5 396.4Z" fill="#ff00ff"/>
<path d="M565.9 390.9L570.9 396.4L565.9 401.9L560.9 396.4Z" fill="#ff00ff"/>
<path d="M568.3 391.0L573.3 396.5L568.3 402.0L563.3 396.5Z" fill="#ff00ff"/>
<path d="M570.8 391.0L575.8 396.5L570.8 402.0L565.8 396.5Z" fill="#ff00ff"/>
<path d="M573.2 391.1L578.2 396.6L573.2 402.1L568.2 396.6Z" fill="#ff00ff"/>
<path d="M575.6 391.1L580.6 396.6L575.6 402.1L570.6 396.6Z" fill="#ff00ff"/>
<path d="M578.0 391.2L583.0 396.7L578.0 402.2L573.0 396.7Z" fill="#ff00ff"/>
<path d="M580.4 391.2L585.4 396.7L580.4 402.2L575.4 396.7Z" fill="#ff00ff"/>
<path d="M582.7 391.2L587.7 396.7L582.7 402.2L577.7 396.7Z" fill="#ff00ff"/>
<path d="M585.0 391.3L590.0 396.8L585.0 402.3L580.0 396.8Z" fill="#ff00ff"/>
<path d="M587.2 391.3L592.2 396.8L587.2 402.3L582.2 396.8Z" fill="#ff00ff"/>
<path d="M589.4 391.3L594.4 396.8L589.4 402.3L584.4 396.8Z" fill="#ff00ff"/>
<path d="M591.4 391.3L596.4 396.8L591.4 402.3L586.4 396.8Z" fill="#ff00ff"/>
<path d="M593.4 391.4L598.4 396.9L593.4 402.4L588.4 396.9Z" fill="#ff00ff"/>
<path d="M595.3 391.4L600.3 396.9L595.3 402.4L590.3 396.9Z" fill="#ff00ff"/>
<path d="M597.6 391.4L602.6 396.9L597.6 402.4L592.6 396.9Z" fill="#ff00ff"/>
<path d="M599.6 391.4L604.6 396.9L599.6 402.4L594.6 396.9Z" fill="#ff00ff"/>
<path d="M601.5 391.5L606.5 397.0L601.5 402.5L596.5 397.0Z" fill="#ff00ff"/>
<path d="M106.5 508.0L114.6 503.5L114.6 512.5Z" fill="#006a6a"/>
<path d="M108.5 508.1L116.6 503.6L116.6 512.6Z" fill="#006a6a"/>
<path d="M110.5 508.1L118.6 503.6L118.6 512.6Z" fill="#006a6a"/>
<path d="M112.9 508.2L121.0 503.7L121.0 512.7Z" fill="#006a6a"/>
<path d="M115.5 508.3L123.6 503.8L123.6 512.8Z" fill="#006a6a"/>
<path d="M117.6 508.3L125.7 503.8L125.7 512.8Z" fill="#006a6a"/>
<path d="M119.8 508.4L127.9 503.9L127.9 512.9Z" fill="#006a6a"/>
<path d="M122.1 508.5L130.2 504.0L130.2 513.0Z" fill="#006a6a"/>
<path d="M124.4 508.5L132.5 504.0L132.5 513.0Z" fill="#006a6a"/>
<path d="M126.9 508.6L135.0 504.1L135.0 513.1Z" fill="#006a6a"/>
<path d="M129.3 508.7L137.4 504.2L137.4 513.2Z" fill="#006a6a"/>
<path d="M131.8 508.8L139.9 504.3L139.9 513.3Z" fill="#006a6a"/>
<path d="M134.3 508.8L142.4 504.3L142.4 513.3Z" fill="#006a6a"/>
<path d="M136.8 508.9L144.9 504.4L144.9 513.4Z" fill="#006a6a"/>
<path d="M139.2 509.0L147.3 504.5L147.3 513.5Z" fill="#006a6a"/>
<path d="M141.6 509.1L149.7 504.6L149.7 513.6Z" fill="#006a6a"/>
<path d="M144.0 509.2L152.1 504.7L152.1 513.7Z" fill="#006a6a"/>
<path d="M146.2 509.3L154.3 504.8L154.3 513.8Z" fill="#006a6a"/>
<path d="M148.3 509.5L156.4 505.0L156.4 514.0Z" fill="#006a6a"/>
<path d="M150.3 509.6L158.4 505.1L158.4 514.1Z" fill="#006a6a"/>
<path d="M152.8 509.8L160.9 505.3L160.9 514.3Z" fill="#006a6a"/>
<path d="M155.0 510.0L163.1 505.5L163.1 514.5Z" fill="#006a6a"/>
<path d="M157.7 510.2L165.8 505.7L165.8 514.7Z" fill="#006a6a"/>
<path d="M159.7 510.4L167.8 505.9L167.8 514.9Z" fill="#006a6a"/>
<path d="M162.4 510.8L170.5 506.3L170.5 515.3Z" fill="#006a6a"/>
<path d="M164.8 511.1L172.9 506.6L172.9 515.6Z" fill="#006a6a"/>
<path d="M166.8 511.4L174.9 506.9L174.9 515.9Z" fill="#006a6a"/>
<path d="M169.2 512.0L177.3 507.5L177.3 516.5Z" fill="#006a6a"/>
<path d="M171.3 512.7L179.4 508.2L179.4 517.2Z" fill="#006a6a"/>
<path d="M173.7 513.8L181.8 509.3L181.8 518.3Z" fill="#006a6a"/>
<path d="M176.0 515.4L184.1 510.9L184.1 519.9Z" fill="#006a6a"/>
<path d="M178.3 517.7L186.4 513.2L186.4 522.2Z" fill="#006a6a"/>
<path d="M180.0 520.4L188.1 515.9L188.1 524.9Z" fill="#006a6a"/>
<path d="M181.3 523.4L189.4 518.9L189.4 527.9Z" fill="#006a6a"/>
<path d="M182.5 526.9L190.6 522.4L190.6 531.4Z" fill="#006a6a"/>
<path d="M183.5 530.0L191.6 525.5L191.6 534.5Z" fill="#006a6a"/>
<path d="M184.4 532.9L192.5 528.4L192.5 537.4Z" fill="#006a6a"/>
<path d="M185.3 536.1L193.4 531.6L193.4 540.6Z" fill="#006a6a"/>
<path d="M186.1 539.5L194.2 535.0L194.2 544.0Z" fill="#006a6a"/>
<path d="M186.9 543.1L195.0 538.6L195.0 547.6Z" fill="#006a6a"/>
<path d="M187.7 546.7L195.8 542.2L195.8 551.2Z" fill="#006a6a"/>
<path d="M188.5 550.2L196.6 545.7L196.6 554.7Z" fill="#006a6a"/>
<path d="M189.2 553.7L197.3 549.2L197.3 558.2Z" fill="#006a6a"/>
<path d="M190.0 557.2L198.1 552.7L198.1 561.7Z" fill="#006a6a"/>
<path d="M190.7 560.3L198.8 555.8L198.8 564.8Z" fill="#006a6a"/>
<path d="M191.4 563.4L199.5 558.9L199.5 567.9Z" fill="#006a6a"/>
<path d="M192.0 566.5L200.1 562.0L200.1 571.0Z" fill="#006a6a"/>
<path d="M192.7 569.5L200.8 565.0L200.8 574.0Z" fill="#006a6a"/>
<path d="M193.4 573.0L201.5 568.5L201.5 577.5Z" fill="#006a6a"/>
<path d="M194.1 576.4L202.2 571.9L202.2 580.9Z" fill="#006a6a"/>
<path d="M379.0 283.0L386.2 279.0L386.2 287.0Z" fill="#006a6a"/>
<path d="M380.3 280.7L387.5 276.7L387.5 284.7Z" fill="#006a6a"/>
<path d="M381.9 278.2L389.1 274.2L389.1 282.2Z" fill="#006a6a"/>
<path d="M383.6 275.4L390.8 271.4L390.8 279.4Z" fill="#006a6a"/>
<path d="M385.2 273.0L392.4 269.0L392.4 277.0Z" fill="#006a6a"/>
<path d="M386.9 271.0L394.1 267.0L394.1 275.0Z" fill="#006a6a"/>
<path d="M388.7 269.1L395.9 265.1L395.9 273.1Z" fill="#006a6a"/>
<path d="M390.6 267.9L397.8 263.9L397.8 271.9Z" fill="#006a6a"/>
<path d="M393.0 267.0L400.2 263.0L400.2 271.0Z" fill="#006a6a"/>
<path d="M394.9 266.3L402.1 262.3L402.1 270.3Z" fill="#006a6a"/>
<path d="M397.2 265.6L404.4 261.6L404.4 269.6Z" fill="#006a6a"/>
<path d="M399.0 265.1L406.2 261.1L406.2 269.1Z" fill="#006a6a"/>
<path d="M400.9 264.5L408.1 260.5L408.1 268.5Z" fill="#006a6a"/>
<path d="M403.0 264.0L410.2 260.0L410.2 268.0Z" fill="#006a6a"/>
<path d="M405.2 263.6L412.4 259.6L412.4 267.6Z" fill="#006a6a"/>
<path d="M407.4 263.3L414.6 259.3L414.6 267.3Z" fill="#006a6a"/>
<path d="M409.8 263.0L417.0 259.0L417.0 267.0Z" fill="#006a6a"/>
<path d="M412.2 263.0L419.4 259.0L419.4 267.0Z" fill="#006a6a"/>
<path d="M414.2 263.1L421.4 259.1L421.4 267.1Z" fill="#006a6a"/>
<path d="M416.0 263.2L423.2 259.2L423.2 267.2Z" fill="#006a6a"/>
<path d="M417.9 263.5L425.1 259.5L425.1 267.5Z" fill="#006a6a"/>
<path d="M419.8 263.8L427.0 259.8L427.0 267.8Z" fill="#006a6a"/>
<path d="M421.8 264.1L429.0 260.1L429.0 268.1Z" fill="#006a6a"/>
<path d="M423.9 264.5L431.1 260.5L431.1 268.5Z" fill="#006a6a"/>
<path d="M425.9 265.0L433.1 261.0L433.1 269.0Z" fill="#006a6a"/>
<path d="M428.1 265.5L435.3 261.5L435.3 269.5Z" fill="#006a6a"/>
<path d="M430.2 265.9L437.4 261.9L437.4 269.9Z" fill="#006a6a"/>
<path d="M432.3 266.4L439.5 262.4L439.5 270.4Z" fill="#006a6a"/>
<path d="M434.4 266.9L441.6 262.9L441.6 270.9Z" fill="#006a6a"/>
<path d="M436.5 267.4L443.7 263.4L443.7 271.4Z" fill="#006a6a"/>
<path d="M438.6 267.9L445.8 263.9L445.8 271.9Z" fill="#006a6a"/>
<path d="M440.7 268.3L447.9 264.3L447.9 272.3Z" fill="#006a6a"/>
<path d="M442.7 268.7L449.9 264.7L449.9 272.7Z" fill="#006a6a"/>
<path d="M444.8 269.1L452.0 265.1L452.0 273.1Z" fill="#006a6a"/>
<path d="M447.0 269.6L454.2 265.6L454.2 273.6Z" fill="#006a6a"/>
<path d="M449.3 270.0L456.5 266.0L456.5 274.0Z" fill="#006a6a"/>
<path d="M451.5 270.4L458.7 266.4L458.7 274.4Z" fill="#006a6a"/>
<path d="M453.7 270.8L460.9 266.8L460.9 274.8Z" fill="#006a6a"/>
<path d="M456.0 271.2L463.2 267.2L463.2 275.2Z" fill="#006a6a"/>
<path d="M458.1 271.6L465.3 267.6L465.3 275.6Z" fill="#006a6a"/>
<path d="M460.3 272.0L467.5 268.0L467.5 276.0Z" fill="#006a6a"/>
<path d="M462.3 272.4L469.5 268.4L469.5 276.4Z" fill="#006a6a"/>
<path d="M464.3 272.8L471.5 268.8L471.5 276.8Z" fill="#006a6a"/>
<path d="M466.2 273.2L473.4 269.2L473.4 277.2Z" fill="#006a6a"/>
<path d="M468.5 273.6L475.7 269.6L475.7 277.6Z" fill="#006a6a"/>
<path d="M471.0 274.2L478.2 270.2L478.2 278.2Z" fill="#006a6a"/>
<path d="M472.8 274.6L480.0 270.6L480.0 278.6Z" fill="#006a6a"/>
<path d="M475.1 275.2L482.3 271.2L482.3 279.2Z" fill="#006a6a"/>
<path d="M476.9 275.6L484.1 271.6L484.1 279.6Z" fill="#006a6a"/>
<path d="M479.0 276.3L486.2 272.3L486.2 280.3Z" fill="#006a6a"/>
<path d="M481.0 277.3L488.2 273.3L488.2 281.3Z" fill="#006a6a"/>
<path d="M483.1 278.7L490.3 274.7L490.3 282.7Z" fill="#006a6a"/>
<path d="M485.0 280.3L492.2 276.3L492.2 284.3Z" fill="#006a6a"/>
<path d="M486.9 282.1L494.1 278.1L494.1 286.1Z" fill="#006a6a"/>
<path d="M488.6 284.4L495.8 280.4L495.8 288.4Z" fill="#006a6a"/>
<path d="M490.1 287.2L497.3 283.2L497.3 291.2Z" fill="#006a6a"/>
<path d="M491.1 289.6L498.3 285.6L498.3 293.6Z" fill="#006a6a"/>
<path d="M492.1 292.5L499.3 288.5L499.3 296.5Z" fill="#006a6a"/>
<path d="M492.7 295.1L499.9 291.1L499.9 299.1Z" fill="#006a6a"/>
<path d="M493.4 297.9L500.6 293.9L500.6 301.9Z" fill="#006a6a"/>
<path d="M494.0 300.8L501.2 296.8L501.2 304.8Z" fill="#006a6a"/>
<path d="M494.6 303.7L501.8 299.7L501.8 307.7Z" fill="#006a6a"/>
<path d="M495.2 306.6L502.4 302.6L502.4 310.6Z" fill="#006a6a"/>
<path d="M495.8 309.3L503.0 305.3L503.0 313.3Z" fill="#006a6a"/>
<path d="M496.5 312.0L503.7 308.0L503.7 316.0Z" fill="#006a6a"/>
<path d="M497.1 314.7L504.3 310.7L504.3 318.7Z" fill="#006a6a"/>
<path d="M497.7 317.3L504.9 313.3L504.9 321.3Z" fill="#006a6a"/>
<path d="M498.2 319.9L505.4 315.9L505.4 323.9Z" fill="#006a6a"/>
<path d="M498.8 322.6L506.0 318.6L506.0 326.6Z" fill="#006a6a"/>
<path d="M499.4 325.3L506.6 321.3L506.6 329.3Z" fill="#006a6a"/>
<path d="M500.1 328.0L507.3 324.0L507.3 332.0Z" fill="#006a6a"/>
<path d="M500.8 330.9L508.0 326.9L508.0 334.9Z" fill="#006a6a"/>
<path d="M501.5 333.5L508.7 329.5L508.7 337.5Z" fill="#006a6a"/>
<path d="M502.3 336.3L509.5 332.3L509.5 340.3Z" fill="#006a6a"/>
<path d="M503.0 339.1L510.2 335.1L510.2 343.1Z" fill="#006a6a"/>
<path d="M503.9 342.1L511.1 338.1L511.1 346.1Z" fill="#006a6a"/>
<path d="M504.7 345.0L511.9 341.0L511.9 349.0Z" fill="#006a6a"/>
<path d="M505.6 347.9L512.8 343.9L512.8 351.9Z" fill="#006a6a"/>
<path d="M506.4 350.7L513.6 346.7L513.6 354.7Z" fill="#006a6a"/>
<path d="M507.3 353.2L514.5 349.2L514.5 357.2Z" fill="#006a6a"/>
<path d="M508.3 356.0L515.5 352.0L515.5 360.0Z" fill="#006a6a"/>
<path d="M509.5 358.8L516.7 354.8L516.7 362.8Z" fill="#006a6a"/>
<path d="M510.9 361.6L518.1 357.6L518.1 365.6Z" fill="#006a6a"/>
<path d="M512.7 364.1L519.9 360.1L519.9 368.1Z" fill="#006a6a"/>
<path d="M514.9 366.1L522.1 362.1L522.1 370.1Z" fill="#006a6a"/>
<path d="M516.9 367.7L524.1 363.7L524.1 371.7Z" fill="#006a6a"/>
<path d="M518.9 369.6L526.1 365.6L526.1 373.6Z" fill="#006a6a"/>
<path d="M521.0 371.0L528.2 367.0L528.2 375.0Z" fill="#006a6a"/>
<path d="M522.9 371.8L530.1 367.8L530.1 375.8Z" fill="#006a6a"/>
<path d="M525.5 372.5L532.7 368.5L532.7 376.5Z" fill="#006a6a"/>
<path d="M527.8 373.0L535.0 369.0L535.0 377.0Z" fill="#006a6a"/>
<path d="M530.5 373.4L537.7 369.4L537.7 377.4Z" fill="#006a6a"/>
<path d="M532.3 373.6L539.5 369.6L539.5 377.6Z" fill="#006a6a"/>
<path d="M534.3 373.9L541.5 369.9L541.5 377.9Z" fill="#006a6a"/>
<path d="M536.4 374.1L543.6 370.1L543.6 378.1Z" fill="#006a6a"/>
<path d="M538.7 374.3L545.9 370.3L545.9 378.3Z" fill="#006a6a"/>
<path d="M541.1 374.5L548.3 370.5L548.3 378.5Z" fill="#006a6a"/>
<path d="M542.9 374.7L550.1 370.7L550.1 378.7Z" fill="#006a6a"/>
<path d="M544.9 374.9L552.1 370.9L552.1 378.9Z" fill="#006a6a"/>
<path d="M546.9 375.0L554.1 371.0L554.1 379.0Z" fill="#006a6a"/>
<path d="M548.9 375.1L556.1 371.1L556.1 379.1Z" fill="#006a6a"/>
<path d="M551.0 375.3L558.2 371.3L558.2 379.3Z" fill="#006a6a"/>
<path d="M553.1 375.4L560.3 371.4L560.3 379.4Z" fill="#006a6a"/>
<path d="M555.3 375.5L562.5 371.5L562.5 379.5Z" fill="#006a6a"/>
<path d="M557.5 375.7L564.7 371.7L564.7 379.7Z" fill="#006a6a"/>
<path d="M559.8 375.8L567.0 371.8L567.0 379.8Z" fill="#006a6a"/>
<path d="M562.1 375.9L569.3 371.9L569.3 379.9Z" fill="#006a6a"/>
<path d="M564.4 376.0L571.6 372.0L571.6 380.0Z" fill="#006a6a"/>
<path d="M566.7 376.2L573.9 372.2L573.9 380.2Z" fill="#006a6a"/>
<path d="M569.1 376.3L576.3 372.3L576.3 380.3Z" fill="#006a6a"/>
<path d="M571.5 376.4L578.7 372.4L578.7 380.4Z" fill="#006a6a"/>
<path d="M573.8 376.5L581.0 372.5L581.0 380.5Z" fill="#006a6a"/>
<path d="M576.2 376.6L583.4 372.6L583.4 380.6Z" fill="#006a6a"/>
<path d="M578.6 376.7L585.8 372.7L585.8 380.7Z" fill="#006a6a"/>
<path d="M581.0 376.8L588.2 372.8L588.2 380.8Z" fill="#006a6a"/>
<path d="M583.4 376.9L590.6 372.9L590.6 380.9Z" fill="#006a6a"/>
<path d="M585.6 377.0L592.8 373.0L592.8 381.0Z" fill="#006a6a"/>
<path d="M587.5 377.1L594.7 373.1L594.7 381.1Z" fill="#006a6a"/>
<path d="M589.5 377.2L596.7 373.2L596.7 381.2Z" fill="#006a6a"/>
<path d="M591.6 377.3L598.8 373.3L598.8 381.3Z" fill="#006a6a"/>
<path d="M593.8 377.3L601.0 373.3L601.0 381.3Z" fill="#006a6a"/>
<path d="M596.0 377.4L603.2 373.4L603.2 381.4Z" fill="#006a6a"/>
<path d="M598.2 377.5L605.4 373.5L605.4 381.5Z" fill="#006a6a"/>
<path d="M600.5 377.6L607.7 373.6L607.7 381.6Z" fill="#006a6a"/>
<path d="M602.9 377.6L610.1 373.6L610.1 381.6Z" fill="#006a6a"/>
<path d="M605.2 377.7L612.4 373.7L612.4 381.7Z" fill="#006a6a"/>
<path d="M607.6 377.8L614.8 373.8L614.8 381.8Z" fill="#006a6a"/>
<path d="M610.1 377.9L617.3 373.9L617.3 381.9Z" fill="#006a6a"/>
<path d="M612.5 377.9L619.7 373.9L619.7 381.9Z" fill="#006a6a"/>
<path d="M615.0 378.0L622.2 374.0L622.2 382.0Z" fill="#006a6a"/>
<path d="M617.4 378.1L624.6 374.1L624.6 382.1Z" fill="#006a6a"/>
<path d="M619.9 378.1L627.1 374.1L627.1 382.1Z" fill="#006a6a"/>
<path d="M622.3 378.2L629.5 374.2L629.5 382.2Z" fill="#006a6a"/>
<path d="M624.7 378.2L631.9 374.2L631.9 382.2Z" fill="#006a6a"/>
<path d="M627.1 378.3L634.3 374.3L634.3 382.3Z" fill="#006a6a"/>
<path d="M629.5 378.4L636.7 374.4L636.7 382.4Z" fill="#006a6a"/>
<path d="M631.8 378.4L639.0 374.4L639.0 382.4Z" fill="#006a6a"/>
<path d="M634.0 378.5L641.2 374.5L641.2 382.5Z" fill="#006a6a"/>
<path d="M636.3 378.5L643.5 374.5L643.5 382.5Z" fill="#006a6a"/>
<path d="M638.4 378.6L645.6 374.6L645.6 382.6Z" fill="#006a6a"/>
<path d="M640.5 378.6L647.7 374.6L647.7 382.6Z" fill="#006a6a"/>
<path d="M642.5 378.7L649.7 374.7L649.7 382.7Z" fill="#006a6a"/>
<path d="M644.5 378.7L651.7 374.7L651.7 382.7Z" fill="#006a6a"/>
<path d="M646.3 378.8L653.5 374.8L653.5 382.8Z" fill="#006a6a"/>
<path d="M648.7 378.8L655.9 374.8L655.9 382.8Z" fill="#006a6a"/>
<path d="M650.8 378.9L658.0 374.9L658.0 382.9Z" fill="#006a6a"/>
<path d="M652.7 378.9L659.9 374.9L659.9 382.9Z" fill="#006a6a"/>
<path d="M654.9 379.0L662.1 375.0L662.1 383.0Z" fill="#006a6a"/>
<rect x="534.2" y="162.2" width="5.5" height="5.5" fill="#0a0030"/>
<rect x="537.9" y="167.2" width="5.5" height="5.5" fill="#0a0030"/>
<rect x="541.7" y="173.1" width="5.5" height="5.5" fill="#0a0030"/>
<rect x="544.6" y="186.5" width="5.5" height="5.5" fill="#0a0030"/>
<rect x="548.2" y="198.2" width="5.5" height="5.5" fill="#0a0030"/>
<rect x="551.6" y="211.5" width="5.5" height="5.5" fill="#0a0030"/>
<rect x="552.9" y="225.2" width="5.5" height="5.5" fill="#0a0030"/>
<rect x="556.0" y="238.5" width="5.5" height="5.5" fill="#0a0030"/>
<rect x="559.2" y="251.9" width="5.5" height="5.5" fill="#0a0030"/>
<rect x="562.2" y="265.7" width="5.5" height="5.5" fill="#0a0030"/>
<rect x="565.5" y="279.5" width="5.5" height="5.5" fill="#0a0030"/>
<rect x="568.6" y="293.3" width="5.5" height="5.5" fill="#0a0030"/>
<rect x="571.9" y="306.9" width="5.5" height="5.5" fill="#0a0030"/>
<rect x="575.4" y="320.5" width="5.5" height="5.5" fill="#0a0030"/>
<rect x="578.9" y="333.9" width="5.5" height="5.5" fill="#0a0030"/>
<rect x="579.0" y="334.2" width="5.5" height="5.5" fill="#1a0850"/>
<rect x="579.4" y="336.3" width="5.5" height="5.5" fill="#1a0850"/>
<rect x="579.9" y="338.4" width="5.5" height="5.5" fill="#1a0850"/>
<rect x="580.4" y="340.6" width="5.5" height="5.5" fill="#1a0850"/>
<rect x="581.0" y="342.7" width="5.5" height="5.5" fill="#1a0850"/>
<rect x="582.0" y="344.8" width="5.5" height="5.5" fill="#1a0850"/>
<rect x="583.0" y="346.6" width="5.5" height="5.5" fill="#1a0850"/>
<rect x="584.2" y="348.2" width="5.5" height="5.5" fill="#1a0850"/>
<rect x="586.0" y="349.9" width="5.5" height="5.5" fill="#1a0850"/>
<rect x="587.7" y="350.9" width="5.5" height="5.5" fill="#1a0850"/>
<rect x="589.5" y="351.6" width="5.5" height="5.5" fill="#1a0850"/>
<rect x="591.2" y="352.2" width="5.5" height="5.5" fill="#1a0850"/>
<rect x="589.6" y="352.7" width="5.5" height="5.5" fill="#1a0850"/>
<rect x="587.7" y="352.8" width="5.5" height="5.5" fill="#1a0850"/>
<rect x="588.2" y="353.0" width="5.5" height="5.5" fill="#1a0850"/>
<rect x="590.3" y="353.1" width="5.5" height="5.5" fill="#1a0850"/>
<rect x="593.2" y="353.2" width="5.5" height="5.5" fill="#1a0850"/>
<rect x="597.2" y="353.2" width="5.5" height="5.5" fill="#1a0850"/>
<rect x="598.8" y="353.3" width="5.5" height="5.5" fill="#1a0850"/>
<rect x="600.5" y="353.3" width="5.5" height="5.5" fill="#1a0850"/>
<rect x="602.4" y="353.4" width="5.5" height="5.5" fill="#1a0850"/>
<rect x="604.0" y="353.4" width="5.5" height="5.5" fill="#1a0850"/>
<rect x="605.6" y="353.4" width="5.5" height="5.5" fill="#1a0850"/>
<rect x="607.3" y="353.4" width="5.5" height="5.5" fill="#1a0850"/>
<rect x="609.1" y="353.5" width="5.5" height="5.5" fill="#1a0850"/>
<rect x="610.9" y="353.5" width="5.5" height="5.5" fill="#1a0850"/>
<rect x="612.8" y="353.5" width="5.5" height="5.5" fill="#1a0850"/>
<rect x="614.8" y="353.6" width="5.5" height="5.5" fill="#1a0850"/>
<rect x="616.9" y="353.6" width="5.5" height="5.5" fill="#1a0850"/>
<rect x="619.0" y="353.6" width="5.5" height="5.5" fill="#1a0850"/>
<rect x="621.2" y="353.7" width="5.5" height="5.5" fill="#1a0850"/>
<rect x="623.4" y="353.7" width="5.5" height="5.5" fill="#1a0850"/>
<rect x="624.9" y="353.7" width="5.5" height="5.5" fill="#1a0850"/>
<rect x="626.5" y="353.7" width="5.5" height="5.5" fill="#1a0850"/>
<rect x="628.0" y="353.8" width="5.5" height="5.5" fill="#1a0850"/>
<rect x="629.6" y="353.8" width="5.5" height="5.5" fill="#1a0850"/>
<rect x="631.2" y="353.8" width="5.5" height="5.5" fill="#1a0850"/>
<rect x="632.8" y="353.8" width="5.5" height="5.5" fill="#1a0850"/>
<rect x="634.4" y="353.9" width="5.5" height="5.5" fill="#1a0850"/>
<rect x="636.1" y="353.9" width="5.5" height="5.5" fill="#1a0850"/>
<rect x="637.7" y="353.9" width="5.5" height="5.5" fill="#1a0850"/>
<rect x="639.4" y="353.9" width="5.5" height="5.5" fill="#1a0850"/>
<rect x="641.1" y="354.0" width="5.5" height="5.5" fill="#1a0850"/>
<rect x="642.7" y="354.0" width="5.5" height="5.5" fill="#1a0850"/>
<rect x="644.4" y="354.0" width="5.5" height="5.5" fill="#1a0850"/>
<rect x="646.1" y="354.0" width="5.5" height="5.5" fill="#1a0850"/>
<rect x="647.9" y="354.1" width="5.5" height="5.5" fill="#1a0850"/>
<rect x="649.6" y="354.1" width="5.5" height="5.5" fill="#1a0850"/>
<rect x="651.3" y="354.1" width="5.5" height="5.5" fill="#1a0850"/>
<rect x="653.0" y="354.1" width="5.5" height="5.5" fill="#1a0850"/>
<rect x="654.8" y="354.2" width="5.5" height="5.5" fill="#1a0850"/>
<rect x="656.5" y="354.2" width="5.5" height="5.5" fill="#1a0850"/>
<rect x="658.3" y="354.2" width="5.5" height="5.5" fill="#1a0850"/>
<rect x="660.0" y="354.2" width="5.5" height="5.5" fill="#1a0850"/>
<rect x="661.7" y="354.2" width="5.5" height="5.5" fill="#1a0850"/>
<rect x="663.5" y="354.3" width="5.5" height="5.5" fill="#1a0850"/>
<rect x="665.2" y="354.3" width="5.5" height="5.5" fill="#1a0850"/>
<rect x="666.9" y="354.3" width="5.5" height="5.5" fill="#1a0850"/>
<rect x="668.7" y="354.3" width="5.5" height="5.5" fill="#1a0850"/>
<rect x="670.4" y="354.4" width="5.5" height="5.5" fill="#1a0850"/>
<rect x="672.1" y="354.4" width="5.5" height="5.5" fill="#1a0850"/>
<rect x="673.8" y="354.4" width="5.5" height="5.5" fill="#1a0850"/>
<rect x="675.5" y="354.4" width="5.5" height="5.5" fill="#1a0850"/>
<rect x="677.2" y="354.5" width="5.5" height="5.5" fill="#1a0850"/>
<rect x="678.8" y="354.5" width="5.5" height="5.5" fill="#1a0850"/>
<rect x="680.5" y="354.5" width="5.5" height="5.5" fill="#1a0850"/>
<rect x="682.1" y="354.5" width="5.5" height="5.5" fill="#1a0850"/>
<rect x="683.8" y="354.6" width="5.5" height="5.5" fill="#1a0850"/>
<rect x="685.4" y="354.6" width="5.5" height="5.5" fill="#1a0850"/>
<rect x="687.0" y="354.6" width="5.5" height="5.5" fill="#1a0850"/>
<rect x="688.5" y="354.6" width="5.5" height="5.5" fill="#1a0850"/>
<rect x="690.1" y="354.6" width="5.5" height="5.5" fill="#1a0850"/>
<rect x="691.6" y="354.7" width="5.5" height="5.5" fill="#1a0850"/>
<rect x="693.2" y="354.7" width="5.5" height="5.5" fill="#1a0850"/>
<rect x="695.4" y="354.7" width="5.5" height="5.5" fill="#1a0850"/>
<rect x="697.6" y="354.7" width="5.5" height="5.5" fill="#1a0850"/>
<rect x="699.7" y="354.8" width="5.5" height="5.5" fill="#1a0850"/>
<rect x="701.8" y="354.8" width="5.5" height="5.5" fill="#1a0850"/>
<rect x="703.8" y="354.8" width="5.5" height="5.5" fill="#1a0850"/>
<rect x="705.7" y="354.8" width="5.5" height="5.5" fill="#1a0850"/>
<rect x="707.6" y="354.9" width="5.5" height="5.5" fill="#1a0850"/>
<rect x="709.4" y="354.9" width="5.5" height="5.5" fill="#1a0850"/>
<rect x="711.1" y="354.9" width="5.5" height="5.5" fill="#1a0850"/>
<rect x="712.7" y="354.9" width="5.5" height="5.5" fill="#1a0850"/>
<rect x="714.3" y="355.0" width="5.5" height="5.5" fill="#1a0850"/>
<rect x="716.2" y="355.0" width="5.5" height="5.5" fill="#1a0850"/>
<rect x="717.9" y="355.0" width="5.5" height="5.5" fill="#1a0850"/>
<rect x="719.5" y="355.0" width="5.5" height="5.5" fill="#1a0850"/>
<path d="M105.5 500.5L116.5 500.5L116.5 507.1L111.0 511.5L105.5 507.1Z" fill="#6a00ff"/>
<path d="M107.6 500.5L118.6 500.5L118.6 507.1L113.1 511.5L107.6 507.1Z" fill="#6a00ff"/>
<path d="M109.7 500.5L120.7 500.5L120.7 507.1L115.2 511.5L109.7 507.1Z" fill="#6a00ff"/>
<path d="M111.7 500.5L122.7 500.5L122.7 507.1L117.2 511.5L111.7 507.1Z" fill="#6a00ff"/>
<path d="M113.8 500.5L124.8 500.5L124.8 507.1L119.3 511.5L113.8 507.1Z" fill="#6a00ff"/>
<path d="M115.9 500.5L126.9 500.5L126.9 507.1L121.4 511.5L115.9 507.1Z" fill="#6a00ff"/>
<path d="M118.0 500.5L129.0 500.5L129.0 507.1L123.5 511.5L118.0 507.1Z" fill="#6a00ff"/>
<path d="M120.1 500.5L131.1 500.5L131.1 507.1L125.6 511.5L120.1 507.1Z" fill="#6a00ff"/>
<path d="M122.1 500.5L133.1 500.5L133.1 507.1L127.6 511.5L122.1 507.1Z" fill="#6a00ff"/>
<path d="M124.2 500.5L135.2 500.5L135.2 507.1L129.7 511.5L124.2 507.1Z" fill="#6a00ff"/>
<path d="M126.3 500.5L137.3 500.5L137.3 507.1L131.8 511.5L126.3 507.1Z" fill="#6a00ff"/>
<path d="M128.4 500.5L139.4 500.5L139.4 507.1L133.9 511.5L128.4 507.1Z" fill="#6a00ff"/>
<path d="M130.5 500.5L141.5 500.5L141.5 507.1L136.0 511.5L130.5 507.1Z" fill="#6a00ff"/>
<path d="M132.5 500.5L143.5 500.5L143.5 507.1L138.0 511.5L132.5 507.1Z" fill="#6a00ff"/>
<path d="M134.6 500.5L145.6 500.5L145.6 507.1L140.1 511.5L134.6 507.1Z" fill="#6a00ff"/>
<path d="M136.7 500.5L147.7 500.5L147.7 507.1L142.2 511.5L136.7 507.1Z" fill="#6a00ff"/>
<path d="M138.8 500.5L149.8 500.5L149.8 507.1L144.3 511.5L138.8 507.1Z" fill="#6a00ff"/>
<path d="M140.8 500.5L151.8 500.5L151.8 507.1L146.3 511.5L140.8 507.1Z" fill="#6a00ff"/>
<path d="M142.9 500.5L153.9 500.5L153.9 507.1L148.4 511.5L142.9 507.1Z" fill="#6a00ff"/>
<path d="M145.0 500.5L156.0 500.5L156.0 507.1L150.5 511.5L145.0 507.1Z" fill="#6a00ff"/>
<path d="M147.1 500.5L158.1 500.5L158.1 507.1L152.6 511.5L147.1 507.1Z" fill="#6a00ff"/>
<path d="M149.2 500.5L160.2 500.5L160.2 507.1L154.7 511.5L149.2 507.1Z" fill="#6a00ff"/>
<path d="M151.2 500.5L162.2 500.5L162.2 507.1L156.7 511.5L151.2 507.1Z" fill="#6a00ff"/>
<path d="M153.3 500.5L164.3 500.5L164.3 507.1L158.8 511.5L153.3 507.1Z" fill="#6a00ff"/>
<path d="M155.4 500.5L166.4 500.5L166.4 507.1L160.9 511.5L155.4 507.1Z" fill="#6a00ff"/>
<path d="M157.5 500.5L168.5 500.5L168.5 507.1L163.0 511.5L157.5 507.1Z" fill="#6a00ff"/>
<path d="M159.6 500.5L170.6 500.5L170.6 507.1L165.1 511.5L159.6 507.1Z" fill="#6a00ff"/>
<path d="M161.6 500.5L172.6 500.5L172.6 507.1L167.1 511.5L161.6 507.1Z" fill="#6a00ff"/>
<path d="M163.7 500.5L174.7 500.5L174.7 507.1L169.2 511.5L163.7 507.1Z" fill="#6a00ff"/>
<path d="M165.8 500.5L176.8 500.5L176.8 507.1L171.3 511.5L165.8 507.1Z" fill="#6a00ff"/>
<path d="M167.9 500.5L178.9 500.5L178.9 507.1L173.4 511.5L167.9 507.1Z" fill="#6a00ff"/>
<path d="M170.0 500.5L181.0 500.5L181.0 507.1L175.5 511.5L170.0 507.1Z" fill="#6a00ff"/>
<path d="M172.0 500.5L183.0 500.5L183.0 507.1L177.5 511.5L172.0 507.1Z" fill="#6a00ff"/>
<path d="M174.1 500.5L185.1 500.5L185.1 507.1L179.6 511.5L174.1 507.1Z" fill="#6a00ff"/>
<path d="M689.5 304.0L697.5 304.0L697.5 308.8L693.5 312.0L689.5 308.8Z" fill="#6a00ff"/>
<path d="M689.5 306.0L697.5 306.0L697.5 310.8L693.5 314.0L689.5 310.8Z" fill="#6a00ff"/>
<path d="M689.6 308.1L697.6 308.1L697.6 312.9L693.6 316.1L689.6 312.9Z" fill="#6a00ff"/>
<path d="M689.6 310.4L697.6 310.4L697.6 315.2L693.6 318.4L689.6 315.2Z" fill="#6a00ff"/>
<path d="M689.8 312.7L697.8 312.7L697.8 317.5L693.8 320.7L689.8 317.5Z" fill="#6a00ff"/>
<path d="M690.3 315.3L698.3 315.3L698.3 320.1L694.3 323.3L690.3 320.1Z" fill="#6a00ff"/>
<path d="M691.0 317.8L699.0 317.8L699.0 322.6L695.0 325.8L691.0 322.6Z" fill="#6a00ff"/>
<path d="M691.9 320.1L699.9 320.1L699.9 324.9L695.9 328.1L691.9 324.9Z" fill="#6a00ff"/>
<path d="M693.0 322.0L701.0 322.0L701.0 326.8L697.0 330.0L693.0 326.8Z" fill="#6a00ff"/>
<path d="M694.4 323.5L702.4 323.5L702.4 328.3L698.4 331.5L694.4 328.3Z" fill="#6a00ff"/>
<path d="M696.1 324.7L704.1 324.7L704.1 329.5L700.1 332.7L696.1 329.5Z" fill="#6a00ff"/>
<path d="M698.0 325.6L706.0 325.6L706.0 330.4L702.0 333.6L698.0 330.4Z" fill="#6a00ff"/>
<path d="M698.7 326.4L706.7 326.4L706.7 331.2L702.7 334.4L698.7 331.2Z" fill="#6a00ff"/>
<path d="M696.7 326.6L704.7 326.6L704.7 331.4L700.7 334.6L696.7 331.4Z" fill="#6a00ff"/>
<path d="M698.5 326.8L706.5 326.8L706.5 331.6L702.5 334.8L698.5 331.6Z" fill="#6a00ff"/>
<path d="M700.8 326.9L708.8 326.9L708.8 331.7L704.8 334.9L700.8 331.7Z" fill="#6a00ff"/>
<path d="M703.9 326.9L711.9 326.9L711.9 331.7L707.9 334.9L703.9 331.7Z" fill="#6a00ff"/>
<path d="M708.0 327.0L716.0 327.0L716.0 331.8L712.0 335.0L708.0 331.8Z" fill="#6a00ff"/>
<path d="M709.6 327.0L717.6 327.0L717.6 331.8L713.6 335.0L709.6 331.8Z" fill="#6a00ff"/>
<path d="M711.3 327.0L719.3 327.0L719.3 331.8L715.3 335.0L711.3 331.8Z" fill="#6a00ff"/>
<path d="M713.3 327.1L721.3 327.1L721.3 331.9L717.3 335.1L713.3 331.9Z" fill="#6a00ff"/>
<path d="M714.8 327.1L722.8 327.1L722.8 331.9L718.8 335.1L714.8 331.9Z" fill="#6a00ff"/>
<path d="M716.5 327.1L724.5 327.1L724.5 331.9L720.5 335.1L716.5 331.9Z" fill="#6a00ff"/>
<path d="M718.2 327.1L726.2 327.1L726.2 331.9L722.2 335.1L718.2 331.9Z" fill="#6a00ff"/>
<path d="M720.0 327.1L728.0 327.1L728.0 331.9L724.0 335.1L720.0 331.9Z" fill="#6a00ff"/>
<path d="M721.8 327.2L729.8 327.2L729.8 332.0L725.8 335.2L721.8 332.0Z" fill="#6a00ff"/>
<path d="M723.8 327.2L731.8 327.2L731.8 332.0L727.8 335.2L723.8 332.0Z" fill="#6a00ff"/>
<path d="M725.8 327.2L733.8 327.2L733.8 332.0L729.8 335.2L725.8 332.0Z" fill="#6a00ff"/>
<path d="M727.8 327.2L735.8 327.2L735.8 332.0L731.8 335.2L727.8 332.0Z" fill="#6a00ff"/>
<path d="M729.9 327.2L737.9 327.2L737.9 332.0L733.9 335.2L729.9 332.0Z" fill="#6a00ff"/>
<path d="M732.1 327.3L740.1 327.3L740.1 332.1L736.1 335.3L732.1 332.1Z" fill="#6a00ff"/>
<path d="M734.4 327.3L742.4 327.3L742.4 332.1L738.4 335.3L734.4 332.1Z" fill="#6a00ff"/>
<path d="M735.9 327.3L743.9 327.3L743.9 332.1L739.9 335.3L735.9 332.1Z" fill="#6a00ff"/>
<path d="M737.4 327.3L745.4 327.3L745.4 332.1L741.4 335.3L737.4 332.1Z" fill="#6a00ff"/>
<path d="M739.0 327.3L747.0 327.3L747.0 332.1L743.0 335.3L739.0 332.1Z" fill="#6a00ff"/>
<path d="M740.5 327.3L748.5 327.3L748.5 332.1L744.5 335.3L740.5 332.1Z" fill="#6a00ff"/>
<path d="M742.1 327.3L750.1 327.3L750.1 332.1L746.1 335.3L742.1 332.1Z" fill="#6a00ff"/>
<path d="M743.7 327.4L751.7 327.4L751.7 332.2L747.7 335.4L743.7 332.2Z" fill="#6a00ff"/>
<path d="M745.4 327.4L753.4 327.4L753.4 332.2L749.4 335.4L745.4 332.2Z" fill="#6a00ff"/>
<path d="M747.0 327.4L755.0 327.4L755.0 332.2L751.0 335.4L747.0 332.2Z" fill="#6a00ff"/>
<path d="M748.6 327.4L756.6 327.4L756.6 332.2L752.6 335.4L748.6 332.2Z" fill="#6a00ff"/>
<path d="M750.3 327.4L758.3 327.4L758.3 332.2L754.3 335.4L750.3 332.2Z" fill="#6a00ff"/>
<path d="M752.0 327.4L760.0 327.4L760.0 332.2L756.0 335.4L752.0 332.2Z" fill="#6a00ff"/>
<path d="M753.7 327.4L761.7 327.4L761.7 332.2L757.7 335.4L753.7 332.2Z" fill="#6a00ff"/>
<path d="M755.4 327.5L763.4 327.5L763.4 332.3L759.4 335.5L755.4 332.3Z" fill="#6a00ff"/>
<path d="M757.1 327.5L765.1 327.5L765.1 332.3L761.1 335.5L757.1 332.3Z" fill="#6a00ff"/>
<path d="M758.8 327.5L766.8 327.5L766.8 332.3L762.8 335.5L758.8 332.3Z" fill="#6a00ff"/>
<path d="M760.5 327.5L768.5 327.5L768.5 332.3L764.5 335.5L760.5 332.3Z" fill="#6a00ff"/>
<path d="M762.2 327.5L770.2 327.5L770.2 332.3L766.2 335.5L762.2 332.3Z" fill="#6a00ff"/>
<path d="M763.9 327.5L771.9 327.5L771.9 332.3L767.9 335.5L763.9 332.3Z" fill="#6a00ff"/>
<path d="M765.7 327.5L773.7 327.5L773.7 332.3L769.7 335.5L765.7 332.3Z" fill="#6a00ff"/>
<path d="M767.4 327.5L775.4 327.5L775.4 332.3L771.4 335.5L767.4 332.3Z" fill="#6a00ff"/>
<path d="M769.1 327.6L777.1 327.6L777.1 332.4L773.1 335.6L769.1 332.4Z" fill="#6a00ff"/>
<path d="M770.9 327.6L778.9 327.6L778.9 332.4L774.9 335.6L770.9 332.4Z" fill="#6a00ff"/>
<path d="M772.6 327.6L780.6 327.6L780.6 332.4L776.6 335.6L772.6 332.4Z" fill="#6a00ff"/>
<path d="M774.3 327.6L782.3 327.6L782.3 332.4L778.3 335.6L774.3 332.4Z" fill="#6a00ff"/>
<path d="M776.0 327.6L784.0 327.6L784.0 332.4L780.0 335.6L776.0 332.4Z" fill="#6a00ff"/>
<path d="M777.8 327.6L785.8 327.6L785.8 332.4L781.8 335.6L777.8 332.4Z" fill="#6a00ff"/>
<path d="M779.5 327.6L787.5 327.6L787.5 332.4L783.5 335.6L779.5 332.4Z" fill="#6a00ff"/>
<path d="M781.2 327.6L789.2 327.6L789.2 332.4L785.2 335.6L781.2 332.4Z" fill="#6a00ff"/>
<path d="M782.9 327.7L790.9 327.7L790.9 332.5L786.9 335.7L782.9 332.5Z" fill="#6a00ff"/>
<path d="M784.6 327.7L792.6 327.7L792.6 332.5L788.6 335.7L784.6 332.5Z" fill="#6a00ff"/>
<path d="M786.2 327.7L794.2 327.7L794.2 332.5L790.2 335.7L786.2 332.5Z" fill="#6a00ff"/>
<path d="M787.9 327.7L795.9 327.7L795.9 332.5L791.9 335.7L787.9 332.5Z" fill="#6a00ff"/>
<path d="M789.6 327.7L797.6 327.7L797.6 332.5L793.6 335.7L789.6 332.5Z" fill="#6a00ff"/>
<path d="M791.2 327.7L799.2 327.7L799.2 332.5L795.2 335.7L791.2 332.5Z" fill="#6a00ff"/>
<path d="M792.8 327.7L800.8 327.7L800.8 332.5L796.8 335.7L792.8 332.5Z" fill="#6a00ff"/>
<path d="M794.5 327.7L802.5 327.7L802.5 332.5L798.5 335.7L794.5 332.5Z" fill="#6a00ff"/>
<path d="M796.1 327.8L804.1 327.8L804.1 332.6L800.1 335.8L796.1 332.6Z" fill="#6a00ff"/>
<path d="M797.6 327.8L805.6 327.8L805.6 332.6L801.6 335.8L797.6 332.6Z" fill="#6a00ff"/>
<path d="M799.2 327.8L807.2 327.8L807.2 332.6L803.2 335.8L799.2 332.6Z" fill="#6a00ff"/>
<path d="M800.7 327.8L808.7 327.8L808.7 332.6L804.7 335.8L800.7 332.6Z" fill="#6a00ff"/>
<path d="M802.3 327.8L810.3 327.8L810.3 332.6L806.3 335.8L802.3 332.6Z" fill="#6a00ff"/>
<path d="M803.8 327.8L811.8 327.8L811.8 332.6L807.8 335.8L803.8 332.6Z" fill="#6a00ff"/>
<path d="M806.0 327.8L814.0 327.8L814.0 332.6L810.0 335.8L806.0 332.6Z" fill="#6a00ff"/>
<path d="M808.1 327.8L816.1 327.8L816.1 332.6L812.1 335.8L808.1 332.6Z" fill="#6a00ff"/>
<path d="M810.2 327.9L818.2 327.9L818.2 332.7L814.2 335.9L810.2 332.7Z" fill="#6a00ff"/>
<path d="M812.3 327.9L820.3 327.9L820.3 332.7L816.3 335.9L812.3 332.7Z" fill="#6a00ff"/>
<path d="M814.2 327.9L822.2 327.9L822.2 332.7L818.2 335.9L814.2 332.7Z" fill="#6a00ff"/>
<path d="M816.2 327.9L824.2 327.9L824.2 332.7L820.2 335.9L816.2 332.7Z" fill="#6a00ff"/>
<path d="M818.0 327.9L826.0 327.9L826.0 332.7L822.0 335.9L818.0 332.7Z" fill="#6a00ff"/>
<path d="M819.7 327.9L827.7 327.9L827.7 332.7L823.7 335.9L819.7 332.7Z" fill="#6a00ff"/>
<path d="M821.4 327.9L829.4 327.9L829.4 332.7L825.4 335.9L821.4 332.7Z" fill="#6a00ff"/>
<path d="M823.0 327.9L831.0 327.9L831.0 332.7L827.0 335.9L823.0 332.7Z" fill="#6a00ff"/>
<path d="M824.5 328.0L832.5 328.0L832.5 332.8L828.5 336.0L824.5 332.8Z" fill="#6a00ff"/>
<path d="M826.4 328.0L834.4 328.0L834.4 332.8L830.4 336.0L826.4 332.8Z" fill="#6a00ff"/>
<path d="M828.1 328.0L836.1 328.0L836.1 332.8L832.1 336.0L828.1 332.8Z" fill="#6a00ff"/>
<path d="M829.6 328.0L837.6 328.0L837.6 332.8L833.6 336.0L829.6 332.8Z" fill="#6a00ff"/>
<rect x="191.7" y="585.0" width="18.0" height="18.0" fill="#ee0000"/>
<rect x="379.1" y="283.9" width="15.0" height="15.0" fill="#ee0000"/>
<line x1="1097" y1="487.3" x2="1994" y2="487.3" stroke="#c01010" stroke-width="1.8"/>
<polyline fill="none" stroke="#000" stroke-width="1.3" stroke-linejoin="round" points="1096.0,380.0 1097.0,392.0 1101.0,420.0 1106.0,455.0 1112.0,480.0 1118.6,485.7 1124.3,457.0 1128.0,470.0 1133.0,430.0 1139.0,395.0 1146.0,420.0 1152.0,455.0 1158.6,441.4 1161.4,484.3 1162.9,515.7 1167.0,551.4 1174.3,548.6 1178.6,518.6 1181.4,485.7 1184.3,454.3 1190.0,414.3 1190.5,402.9 1200.0,302.9 1204.3,297.0 1207.0,297.0 1214.0,300.0 1215.7,281.4 1220.0,210.0 1224.0,191.4 1231.4,192.9 1233.0,205.7 1235.7,192.9 1238.6,165.7 1245.7,154.3 1248.6,141.4 1255.7,138.6 1261.4,122.9 1267.0,110.0 1274.0,107.0 1280.0,111.4 1287.0,112.9 1291.4,108.6 1295.7,124.3 1303.0,141.4 1310.0,148.6 1315.7,141.4 1321.4,137.0 1327.0,177.0 1333.0,177.0 1338.6,188.6 1345.7,265.7 1350.6,284.0 1351.4,320.0 1357.0,442.9 1361.4,561.4 1362.9,618.6 1368.6,700.0 1374.3,711.4 1379.8,663.8 1385.8,623.8 1386.5,611.8 1389.8,587.8 1393.8,559.9 1397.7,539.9 1403.7,527.9 1405.0,522.5 1406.3,517.2 1407.6,511.6 1408.9,506.6 1410.6,501.5 1413.2,497.0 1415.0,491.8 1416.6,486.5 1419.0,481.7 1422.1,477.3 1424.9,473.2 1427.5,468.5 1430.0,463.6 1432.5,458.5 1435.0,453.4 1437.2,448.6 1439.4,444.0 1442.1,439.4 1445.2,437.4 1452.9,480.0 1456.0,380.0 1458.6,350.0 1462.9,304.3 1466.0,310.0 1468.6,362.9 1475.7,322.9 1481.4,262.9 1484.0,300.0 1488.6,320.0 1489.0,335.7 1494.3,421.4 1501.4,490.0 1507.0,430.0 1515.7,351.4 1519.0,390.0 1522.9,505.7 1526.0,470.0 1530.0,560.0 1536.0,470.0 1543.0,470.0 1547.0,487.0 1550.0,503.0 1552.9,548.6 1556.0,510.0 1558.6,525.7 1564.0,470.0 1568.0,475.0 1572.0,420.0 1577.0,498.6 1580.0,415.0 1585.0,460.0 1592.0,520.0 1600.0,470.0 1612.0,505.0 1625.0,480.0 1640.0,505.0 1655.0,470.0 1669.8,549.5"/>
<rect x="1092.5" y="376.5" width="7.0" height="7.0" fill="#ee0000"/>
<rect x="1093.5" y="388.5" width="7.0" height="7.0" fill="#ee0000"/>
<rect x="1097.5" y="416.5" width="7.0" height="7.0" fill="#ee0000"/>
<rect x="1102.5" y="451.5" width="7.0" height="7.0" fill="#ee0000"/>
<rect x="1108.5" y="476.5" width="7.0" height="7.0" fill="#ee0000"/>
<rect x="1115.1" y="482.2" width="7.0" height="7.0" fill="#ee0000"/>
<rect x="1120.8" y="453.5" width="7.0" height="7.0" fill="#ee0000"/>
<rect x="1124.5" y="466.5" width="7.0" height="7.0" fill="#ee0000"/>
<rect x="1129.5" y="426.5" width="7.0" height="7.0" fill="#ee0000"/>
<rect x="1135.5" y="391.5" width="7.0" height="7.0" fill="#ee0000"/>
<rect x="1142.5" y="416.5" width="7.0" height="7.0" fill="#ee0000"/>
<rect x="1148.5" y="451.5" width="7.0" height="7.0" fill="#ee0000"/>
<rect x="1155.1" y="437.9" width="7.0" height="7.0" fill="#ee0000"/>
<rect x="1157.9" y="480.8" width="7.0" height="7.0" fill="#ee0000"/>
<rect x="1159.4" y="512.2" width="7.0" height="7.0" fill="#ee0000"/>
<rect x="1163.5" y="547.9" width="7.0" height="7.0" fill="#ee0000"/>
<rect x="1170.8" y="545.1" width="7.0" height="7.0" fill="#ee0000"/>
<rect x="1175.1" y="515.1" width="7.0" height="7.0" fill="#ee0000"/>
<rect x="1177.9" y="482.2" width="7.0" height="7.0" fill="#ee0000"/>
<rect x="1180.8" y="450.8" width="7.0" height="7.0" fill="#ee0000"/>
<rect x="1186.5" y="410.8" width="7.0" height="7.0" fill="#ee0000"/>
<rect x="1187.0" y="399.4" width="7.0" height="7.0" fill="#ee0000"/>
<rect x="1196.5" y="299.4" width="7.0" height="7.0" fill="#ee0000"/>
<rect x="1200.8" y="293.5" width="7.0" height="7.0" fill="#ee0000"/>
<rect x="1203.5" y="293.5" width="7.0" height="7.0" fill="#ee0000"/>
<rect x="1210.5" y="296.5" width="7.0" height="7.0" fill="#ee0000"/>
<rect x="1212.2" y="277.9" width="7.0" height="7.0" fill="#ee0000"/>
<rect x="1216.5" y="206.5" width="7.0" height="7.0" fill="#ee0000"/>
<rect x="1220.5" y="187.9" width="7.0" height="7.0" fill="#ee0000"/>
<rect x="1227.9" y="189.4" width="7.0" height="7.0" fill="#ee0000"/>
<rect x="1229.5" y="202.2" width="7.0" height="7.0" fill="#ee0000"/>
<rect x="1232.2" y="189.4" width="7.0" height="7.0" fill="#ee0000"/>
<rect x="1235.1" y="162.2" width="7.0" height="7.0" fill="#ee0000"/>
<rect x="1242.2" y="150.8" width="7.0" height="7.0" fill="#ee0000"/>
<rect x="1245.1" y="137.9" width="7.0" height="7.0" fill="#ee0000"/>
<rect x="1252.2" y="135.1" width="7.0" height="7.0" fill="#ee0000"/>
<rect x="1257.9" y="119.4" width="7.0" height="7.0" fill="#ee0000"/>
<rect x="1263.5" y="106.5" width="7.0" height="7.0" fill="#ee0000"/>
<rect x="1270.5" y="103.5" width="7.0" height="7.0" fill="#ee0000"/>
<rect x="1276.5" y="107.9" width="7.0" height="7.0" fill="#ee0000"/>
<rect x="1283.5" y="109.4" width="7.0" height="7.0" fill="#ee0000"/>
<rect x="1287.9" y="105.1" width="7.0" height="7.0" fill="#ee0000"/>
<rect x="1292.2" y="120.8" width="7.0" height="7.0" fill="#ee0000"/>
<rect x="1299.5" y="137.9" width="7.0" height="7.0" fill="#ee0000"/>
<rect x="1306.5" y="145.1" width="7.0" height="7.0" fill="#ee0000"/>
<rect x="1312.2" y="137.9" width="7.0" height="7.0" fill="#ee0000"/>
<rect x="1317.9" y="133.5" width="7.0" height="7.0" fill="#ee0000"/>
<rect x="1323.5" y="173.5" width="7.0" height="7.0" fill="#ee0000"/>
<rect x="1329.5" y="173.5" width="7.0" height="7.0" fill="#ee0000"/>
<rect x="1335.1" y="185.1" width="7.0" height="7.0" fill="#ee0000"/>
<rect x="1342.2" y="262.2" width="7.0" height="7.0" fill="#ee0000"/>
<rect x="1347.1" y="280.5" width="7.0" height="7.0" fill="#ee0000"/>
<rect x="1347.9" y="316.5" width="7.0" height="7.0" fill="#ee0000"/>
<rect x="1353.5" y="439.4" width="7.0" height="7.0" fill="#ee0000"/>
<rect x="1357.9" y="557.9" width="7.0" height="7.0" fill="#ee0000"/>
<rect x="1359.4" y="615.1" width="7.0" height="7.0" fill="#ee0000"/>
<rect x="1365.1" y="696.5" width="7.0" height="7.0" fill="#ee0000"/>
<rect x="1370.8" y="707.9" width="7.0" height="7.0" fill="#ee0000"/>
<rect x="1376.3" y="660.3" width="7.0" height="7.0" fill="#ee0000"/>
<rect x="1382.3" y="620.3" width="7.0" height="7.0" fill="#ee0000"/>
<rect x="1383.0" y="608.3" width="7.0" height="7.0" fill="#ee0000"/>
<rect x="1386.3" y="584.3" width="7.0" height="7.0" fill="#ee0000"/>
<rect x="1390.3" y="556.4" width="7.0" height="7.0" fill="#ee0000"/>
<rect x="1394.2" y="536.4" width="7.0" height="7.0" fill="#ee0000"/>
<rect x="1400.2" y="524.4" width="7.0" height="7.0" fill="#ee0000"/>
<rect x="1401.5" y="519.0" width="7.0" height="7.0" fill="#ee0000"/>
<rect x="1402.8" y="513.7" width="7.0" height="7.0" fill="#ee0000"/>
<rect x="1404.1" y="508.1" width="7.0" height="7.0" fill="#ee0000"/>
<rect x="1405.4" y="503.1" width="7.0" height="7.0" fill="#ee0000"/>
<rect x="1407.1" y="498.0" width="7.0" height="7.0" fill="#ee0000"/>
<rect x="1409.7" y="493.5" width="7.0" height="7.0" fill="#ee0000"/>
<rect x="1411.5" y="488.3" width="7.0" height="7.0" fill="#ee0000"/>
<rect x="1413.1" y="483.0" width="7.0" height="7.0" fill="#ee0000"/>
<rect x="1415.5" y="478.2" width="7.0" height="7.0" fill="#ee0000"/>
<rect x="1418.6" y="473.8" width="7.0" height="7.0" fill="#ee0000"/>
<rect x="1421.4" y="469.7" width="7.0" height="7.0" fill="#ee0000"/>
<rect x="1424.0" y="465.0" width="7.0" height="7.0" fill="#ee0000"/>
<rect x="1426.5" y="460.1" width="7.0" height="7.0" fill="#ee0000"/>
<rect x="1429.0" y="455.0" width="7.0" height="7.0" fill="#ee0000"/>
<rect x="1431.5" y="449.9" width="7.0" height="7.0" fill="#ee0000"/>
<rect x="1433.7" y="445.1" width="7.0" height="7.0" fill="#ee0000"/>
<rect x="1435.9" y="440.5" width="7.0" height="7.0" fill="#ee0000"/>
<rect x="1438.6" y="435.9" width="7.0" height="7.0" fill="#ee0000"/>
<rect x="1441.7" y="433.9" width="7.0" height="7.0" fill="#ee0000"/>
<rect x="1449.4" y="476.5" width="7.0" height="7.0" fill="#ee0000"/>
<rect x="1452.5" y="376.5" width="7.0" height="7.0" fill="#ee0000"/>
<rect x="1455.1" y="346.5" width="7.0" height="7.0" fill="#ee0000"/>
<rect x="1459.4" y="300.8" width="7.0" height="7.0" fill="#ee0000"/>
<rect x="1462.5" y="306.5" width="7.0" height="7.0" fill="#ee0000"/>
<rect x="1465.1" y="359.4" width="7.0" height="7.0" fill="#ee0000"/>
<rect x="1472.2" y="319.4" width="7.0" height="7.0" fill="#ee0000"/>
<rect x="1477.9" y="259.4" width="7.0" height="7.0" fill="#ee0000"/>
<rect x="1480.5" y="296.5" width="7.0" height="7.0" fill="#ee0000"/>
<rect x="1485.1" y="316.5" width="7.0" height="7.0" fill="#ee0000"/>
<rect x="1485.5" y="332.2" width="7.0" height="7.0" fill="#ee0000"/>
<rect x="1490.8" y="417.9" width="7.0" height="7.0" fill="#ee0000"/>
<rect x="1497.9" y="486.5" width="7.0" height="7.0" fill="#ee0000"/>
<rect x="1503.5" y="426.5" width="7.0" height="7.0" fill="#ee0000"/>
<rect x="1512.2" y="347.9" width="7.0" height="7.0" fill="#ee0000"/>
<rect x="1515.5" y="386.5" width="7.0" height="7.0" fill="#ee0000"/>
<rect x="1519.4" y="502.2" width="7.0" height="7.0" fill="#ee0000"/>
<rect x="1522.5" y="466.5" width="7.0" height="7.0" fill="#ee0000"/>
<rect x="1526.5" y="556.5" width="7.0" height="7.0" fill="#ee0000"/>
<rect x="1532.5" y="466.5" width="7.0" height="7.0" fill="#ee0000"/>
<rect x="1539.5" y="466.5" width="7.0" height="7.0" fill="#ee0000"/>
<rect x="1543.5" y="483.5" width="7.0" height="7.0" fill="#ee0000"/>
<rect x="1546.5" y="499.5" width="7.0" height="7.0" fill="#ee0000"/>
<rect x="1549.4" y="545.1" width="7.0" height="7.0" fill="#ee0000"/>
<rect x="1552.5" y="506.5" width="7.0" height="7.0" fill="#ee0000"/>
<rect x="1555.1" y="522.2" width="7.0" height="7.0" fill="#ee0000"/>
<rect x="1560.5" y="466.5" width="7.0" height="7.0" fill="#ee0000"/>
<rect x="1564.5" y="471.5" width="7.0" height="7.0" fill="#ee0000"/>
<rect x="1568.5" y="416.5" width="7.0" height="7.0" fill="#ee0000"/>
<rect x="1573.5" y="495.1" width="7.0" height="7.0" fill="#ee0000"/>
<rect x="1576.5" y="411.5" width="7.0" height="7.0" fill="#ee0000"/>
<rect x="1581.5" y="456.5" width="7.0" height="7.0" fill="#ee0000"/>
<rect x="1588.5" y="516.5" width="7.0" height="7.0" fill="#ee0000"/>
<rect x="1596.5" y="466.5" width="7.0" height="7.0" fill="#ee0000"/>
<rect x="1608.5" y="501.5" width="7.0" height="7.0" fill="#ee0000"/>
<rect x="1621.5" y="476.5" width="7.0" height="7.0" fill="#ee0000"/>
<rect x="1636.5" y="501.5" width="7.0" height="7.0" fill="#ee0000"/>
<rect x="1651.5" y="466.5" width="7.0" height="7.0" fill="#ee0000"/>
<rect x="1666.3" y="546.0" width="7.0" height="7.0" fill="#ee0000"/>
<polyline fill="none" stroke="#000" stroke-width="1.3" stroke-linejoin="round" points="1096.0,470.0 1099.4,428.0 1101.7,475.8 1104.0,520.0 1106.4,538.8 1108.8,559.9 1111.2,581.6 1113.6,583.4 1116.0,594.0 1118.3,598.9 1120.7,593.4 1125.0,590.0 1127.5,575.6 1130.0,570.0 1132.4,530.8 1134.8,499.0 1137.2,448.1 1139.6,392.8 1141.9,253.6 1144.0,252.0 1147.0,251.4 1151.3,251.2 1154.3,250.0 1157.0,254.3 1155.7,271.4 1161.4,420.0 1168.0,400.0 1175.7,448.6 1178.6,490.0 1185.7,478.6 1190.0,442.9 1192.9,430.0 1197.0,448.6 1198.6,458.6 1204.3,483.0 1210.0,498.6 1215.7,532.9 1221.4,572.9 1227.0,620.0 1232.9,698.6 1238.6,690.0 1242.9,611.4 1244.3,550.0 1248.6,485.7 1251.4,417.0 1251.4,404.3 1255.7,340.0 1261.4,285.7 1268.6,235.7 1274.0,202.9 1275.7,197.0 1280.0,177.0 1287.0,168.6 1291.4,154.3 1291.4,154.3 1292.6,150.7 1293.9,147.1 1295.1,143.4 1296.1,140.0 1296.9,136.5 1297.8,132.6 1299.1,128.6 1300.4,124.8 1301.8,121.6 1304.3,119.8 1307.1,121.9 1309.9,123.6 1312.6,125.1 1315.3,125.8 1317.9,124.1 1320.3,121.1 1322.8,119.0 1325.4,117.5 1328.0,116.0 1333.0,125.0 1338.6,148.6 1344.0,135.7 1349.0,138.0 1354.3,141.4 1358.6,151.4 1364.0,137.0 1370.0,150.0 1375.7,158.6 1381.0,173.0 1385.0,168.0 1388.6,157.0 1395.7,160.0 1397.0,188.6 1400.0,207.0 1404.3,197.0 1411.4,277.0 1413.0,282.9 1417.0,384.3 1421.4,483.0 1422.9,518.6 1425.7,551.4 1428.6,620.0 1434.3,645.7 1438.6,614.3 1441.4,607.0 1441.4,607.0 1441.7,602.5 1442.0,598.3 1442.3,594.1 1442.6,589.5 1442.9,585.5 1443.2,581.3 1443.5,577.1 1443.8,572.8 1444.1,568.6 1444.3,564.4 1444.7,559.7 1445.0,555.3 1445.3,550.8 1445.6,546.6 1446.0,542.2 1446.3,538.2 1447.1,533.8 1447.7,529.6 1448.5,525.3 1449.2,520.7 1450.0,516.2 1450.8,512.0 1451.6,507.6 1452.4,503.6 1453.4,499.7 1454.8,495.7 1456.5,491.7 1458.4,487.5 1459.3,483.6 1461.4,480.0 1463.9,477.2 1466.7,474.4 1469.4,471.8 1472.2,469.2 1474.9,466.5 1477.6,463.9 1480.5,461.0 1483.3,458.4 1486.1,455.8 1488.9,453.1 1491.9,450.1 1494.6,447.0 1497.2,443.8 1499.7,440.5 1502.5,436.8 1504.9,433.6 1507.3,430.3 1509.6,427.0 1512.3,423.2 1514.7,419.7 1517.1,416.4 1522.0,470.0 1526.0,400.0 1530.0,330.0 1535.7,317.0 1538.0,345.0 1540.0,361.4 1541.4,342.9 1545.7,304.3 1548.0,240.0 1550.0,277.0 1551.4,242.9 1554.3,227.0 1557.0,280.0 1560.0,332.9 1563.0,300.0 1567.0,395.7 1571.0,330.0 1575.0,280.0 1581.4,372.9 1585.0,410.0 1588.3,469.6 1591.6,436.6 1595.7,468.2 1601.4,445.9 1608.0,482.2 1612.9,518.6 1614.3,473.3 1619.8,493.6 1620.0,491.4 1622.9,469.1 1628.9,492.5 1630.0,491.4 1634.8,472.4 1637.0,507.0 1641.4,503.3 1642.9,522.9 1647.8,493.8 1654.6,504.8 1661.2,515.5 1665.7,493.7 1669.7,474.4 1675.6,493.0 1681.9,413.0 1682.0,553.0 1685.7,480.4 1686.0,562.0 1689.6,539.0 1690.0,578.0 1693.9,522.4 1694.0,580.0 1698.0,475.9 1698.0,577.0 1702.0,437.0 1704.4,501.0 1705.9,501.5 1708.1,516.0 1710.8,463.3 1713.7,538.7 1715.5,376.6 1718.0,495.8 1719.0,277.0 1719.5,381.4 1720.7,305.7 1722.7,444.7 1724.3,481.0 1725.9,454.7 1727.0,324.3 1728.0,471.2 1730.9,489.5 1733.0,330.0 1733.6,333.9 1735.3,472.1 1736.9,394.3 1738.6,448.3 1741.9,489.6 1743.5,241.4 1744.3,287.9 1744.5,420.0 1744.8,520.0"/>
<path d="M1096.0 465.6L1100.0 470.0L1096.0 474.4L1092.0 470.0Z" fill="#0010dd"/>
<path d="M1099.4 423.6L1103.4 428.0L1099.4 432.4L1095.4 428.0Z" fill="#0010dd"/>
<path d="M1101.7 471.4L1105.7 475.8L1101.7 480.2L1097.7 475.8Z" fill="#0010dd"/>
<path d="M1104.0 515.6L1108.0 520.0L1104.0 524.4L1100.0 520.0Z" fill="#0010dd"/>
<path d="M1106.4 534.4L1110.4 538.8L1106.4 543.2L1102.4 538.8Z" fill="#0010dd"/>
<path d="M1108.8 555.5L1112.8 559.9L1108.8 564.3L1104.8 559.9Z" fill="#0010dd"/>
<path d="M1111.2 577.2L1115.2 581.6L1111.2 586.0L1107.2 581.6Z" fill="#0010dd"/>
<path d="M1113.6 579.0L1117.6 583.4L1113.6 587.8L1109.6 583.4Z" fill="#0010dd"/>
<path d="M1116.0 589.6L1120.0 594.0L1116.0 598.4L1112.0 594.0Z" fill="#0010dd"/>
<path d="M1118.3 594.5L1122.3 598.9L1118.3 603.3L1114.3 598.9Z" fill="#0010dd"/>
<path d="M1120.7 589.0L1124.7 593.4L1120.7 597.8L1116.7 593.4Z" fill="#0010dd"/>
<path d="M1125.0 585.6L1129.0 590.0L1125.0 594.4L1121.0 590.0Z" fill="#0010dd"/>
<path d="M1127.5 571.2L1131.5 575.6L1127.5 580.0L1123.5 575.6Z" fill="#0010dd"/>
<path d="M1130.0 565.6L1134.0 570.0L1130.0 574.4L1126.0 570.0Z" fill="#0010dd"/>
<path d="M1132.4 526.4L1136.4 530.8L1132.4 535.2L1128.4 530.8Z" fill="#0010dd"/>
<path d="M1134.8 494.6L1138.8 499.0L1134.8 503.4L1130.8 499.0Z" fill="#0010dd"/>
<path d="M1137.2 443.7L1141.2 448.1L1137.2 452.5L1133.2 448.1Z" fill="#0010dd"/>
<path d="M1139.6 388.4L1143.6 392.8L1139.6 397.2L1135.6 392.8Z" fill="#0010dd"/>
<path d="M1141.9 249.2L1145.9 253.6L1141.9 258.0L1137.9 253.6Z" fill="#0010dd"/>
<path d="M1144.0 247.6L1148.0 252.0L1144.0 256.4L1140.0 252.0Z" fill="#0010dd"/>
<path d="M1147.0 247.0L1151.0 251.4L1147.0 255.8L1143.0 251.4Z" fill="#0010dd"/>
<path d="M1151.3 246.8L1155.3 251.2L1151.3 255.6L1147.3 251.2Z" fill="#0010dd"/>
<path d="M1154.3 245.6L1158.3 250.0L1154.3 254.4L1150.3 250.0Z" fill="#0010dd"/>
<path d="M1157.0 249.9L1161.0 254.3L1157.0 258.7L1153.0 254.3Z" fill="#0010dd"/>
<path d="M1155.7 267.0L1159.7 271.4L1155.7 275.8L1151.7 271.4Z" fill="#0010dd"/>
<path d="M1161.4 415.6L1165.4 420.0L1161.4 424.4L1157.4 420.0Z" fill="#0010dd"/>
<path d="M1168.0 395.6L1172.0 400.0L1168.0 404.4L1164.0 400.0Z" fill="#0010dd"/>
<path d="M1175.7 444.2L1179.7 448.6L1175.7 453.0L1171.7 448.6Z" fill="#0010dd"/>
<path d="M1178.6 485.6L1182.6 490.0L1178.6 494.4L1174.6 490.0Z" fill="#0010dd"/>
<path d="M1185.7 474.2L1189.7 478.6L1185.7 483.0L1181.7 478.6Z" fill="#0010dd"/>
<path d="M1190.0 438.5L1194.0 442.9L1190.0 447.3L1186.0 442.9Z" fill="#0010dd"/>
<path d="M1192.9 425.6L1196.9 430.0L1192.9 434.4L1188.9 430.0Z" fill="#0010dd"/>
<path d="M1197.0 444.2L1201.0 448.6L1197.0 453.0L1193.0 448.6Z" fill="#0010dd"/>
<path d="M1198.6 454.2L1202.6 458.6L1198.6 463.0L1194.6 458.6Z" fill="#0010dd"/>
<path d="M1204.3 478.6L1208.3 483.0L1204.3 487.4L1200.3 483.0Z" fill="#0010dd"/>
<path d="M1210.0 494.2L1214.0 498.6L1210.0 503.0L1206.0 498.6Z" fill="#0010dd"/>
<path d="M1215.7 528.5L1219.7 532.9L1215.7 537.3L1211.7 532.9Z" fill="#0010dd"/>
<path d="M1221.4 568.5L1225.4 572.9L1221.4 577.3L1217.4 572.9Z" fill="#0010dd"/>
<path d="M1227.0 615.6L1231.0 620.0L1227.0 624.4L1223.0 620.0Z" fill="#0010dd"/>
<path d="M1232.9 694.2L1236.9 698.6L1232.9 703.0L1228.9 698.6Z" fill="#0010dd"/>
<path d="M1238.6 685.6L1242.6 690.0L1238.6 694.4L1234.6 690.0Z" fill="#0010dd"/>
<path d="M1242.9 607.0L1246.9 611.4L1242.9 615.8L1238.9 611.4Z" fill="#0010dd"/>
<path d="M1244.3 545.6L1248.3 550.0L1244.3 554.4L1240.3 550.0Z" fill="#0010dd"/>
<path d="M1248.6 481.3L1252.6 485.7L1248.6 490.1L1244.6 485.7Z" fill="#0010dd"/>
<path d="M1251.4 412.6L1255.4 417.0L1251.4 421.4L1247.4 417.0Z" fill="#0010dd"/>
<path d="M1251.4 399.9L1255.4 404.3L1251.4 408.7L1247.4 404.3Z" fill="#0010dd"/>
<path d="M1255.7 335.6L1259.7 340.0L1255.7 344.4L1251.7 340.0Z" fill="#0010dd"/>
<path d="M1261.4 281.3L1265.4 285.7L1261.4 290.1L1257.4 285.7Z" fill="#0010dd"/>
<path d="M1268.6 231.3L1272.6 235.7L1268.6 240.1L1264.6 235.7Z" fill="#0010dd"/>
<path d="M1274.0 198.5L1278.0 202.9L1274.0 207.3L1270.0 202.9Z" fill="#0010dd"/>
<path d="M1275.7 192.6L1279.7 197.0L1275.7 201.4L1271.7 197.0Z" fill="#0010dd"/>
<path d="M1280.0 172.6L1284.0 177.0L1280.0 181.4L1276.0 177.0Z" fill="#0010dd"/>
<path d="M1287.0 164.2L1291.0 168.6L1287.0 173.0L1283.0 168.6Z" fill="#0010dd"/>
<path d="M1291.4 149.9L1295.4 154.3L1291.4 158.7L1287.4 154.3Z" fill="#0010dd"/>
<path d="M1291.4 149.9L1295.4 154.3L1291.4 158.7L1287.4 154.3Z" fill="#0010dd"/>
<path d="M1292.6 146.3L1296.6 150.7L1292.6 155.1L1288.6 150.7Z" fill="#0010dd"/>
<path d="M1293.9 142.7L1297.9 147.1L1293.9 151.5L1289.9 147.1Z" fill="#0010dd"/>
<path d="M1295.1 139.0L1299.1 143.4L1295.1 147.8L1291.1 143.4Z" fill="#0010dd"/>
<path d="M1296.1 135.6L1300.1 140.0L1296.1 144.4L1292.1 140.0Z" fill="#0010dd"/>
<path d="M1296.9 132.1L1300.9 136.5L1296.9 140.9L1292.9 136.5Z" fill="#0010dd"/>
<path d="M1297.8 128.2L1301.8 132.6L1297.8 137.0L1293.8 132.6Z" fill="#0010dd"/>
<path d="M1299.1 124.2L1303.1 128.6L1299.1 133.0L1295.1 128.6Z" fill="#0010dd"/>
<path d="M1300.4 120.4L1304.4 124.8L1300.4 129.2L1296.4 124.8Z" fill="#0010dd"/>
<path d="M1301.8 117.2L1305.8 121.6L1301.8 126.0L1297.8 121.6Z" fill="#0010dd"/>
<path d="M1304.3 115.4L1308.3 119.8L1304.3 124.2L1300.3 119.8Z" fill="#0010dd"/>
<path d="M1307.1 117.5L1311.1 121.9L1307.1 126.3L1303.1 121.9Z" fill="#0010dd"/>
<path d="M1309.9 119.2L1313.9 123.6L1309.9 128.0L1305.9 123.6Z" fill="#0010dd"/>
<path d="M1312.6 120.7L1316.6 125.1L1312.6 129.5L1308.6 125.1Z" fill="#0010dd"/>
<path d="M1315.3 121.4L1319.3 125.8L1315.3 130.2L1311.3 125.8Z" fill="#0010dd"/>
<path d="M1317.9 119.7L1321.9 124.1L1317.9 128.5L1313.9 124.1Z" fill="#0010dd"/>
<path d="M1320.3 116.7L1324.3 121.1L1320.3 125.5L1316.3 121.1Z" fill="#0010dd"/>
<path d="M1322.8 114.6L1326.8 119.0L1322.8 123.4L1318.8 119.0Z" fill="#0010dd"/>
<path d="M1325.4 113.1L1329.4 117.5L1325.4 121.9L1321.4 117.5Z" fill="#0010dd"/>
<path d="M1328.0 111.6L1332.0 116.0L1328.0 120.4L1324.0 116.0Z" fill="#0010dd"/>
<path d="M1333.0 120.6L1337.0 125.0L1333.0 129.4L1329.0 125.0Z" fill="#0010dd"/>
<path d="M1338.6 144.2L1342.6 148.6L1338.6 153.0L1334.6 148.6Z" fill="#0010dd"/>
<path d="M1344.0 131.3L1348.0 135.7L1344.0 140.1L1340.0 135.7Z" fill="#0010dd"/>
<path d="M1349.0 133.6L1353.0 138.0L1349.0 142.4L1345.0 138.0Z" fill="#0010dd"/>
<path d="M1354.3 137.0L1358.3 141.4L1354.3 145.8L1350.3 141.4Z" fill="#0010dd"/>
<path d="M1358.6 147.0L1362.6 151.4L1358.6 155.8L1354.6 151.4Z" fill="#0010dd"/>
<path d="M1364.0 132.6L1368.0 137.0L1364.0 141.4L1360.0 137.0Z" fill="#0010dd"/>
<path d="M1370.0 145.6L1374.0 150.0L1370.0 154.4L1366.0 150.0Z" fill="#0010dd"/>
<path d="M1375.7 154.2L1379.7 158.6L1375.7 163.0L1371.7 158.6Z" fill="#0010dd"/>
<path d="M1381.0 168.6L1385.0 173.0L1381.0 177.4L1377.0 173.0Z" fill="#0010dd"/>
<path d="M1385.0 163.6L1389.0 168.0L1385.0 172.4L1381.0 168.0Z" fill="#0010dd"/>
<path d="M1388.6 152.6L1392.6 157.0L1388.6 161.4L1384.6 157.0Z" fill="#0010dd"/>
<path d="M1395.7 155.6L1399.7 160.0L1395.7 164.4L1391.7 160.0Z" fill="#0010dd"/>
<path d="M1397.0 184.2L1401.0 188.6L1397.0 193.0L1393.0 188.6Z" fill="#0010dd"/>
<path d="M1400.0 202.6L1404.0 207.0L1400.0 211.4L1396.0 207.0Z" fill="#0010dd"/>
<path d="M1404.3 192.6L1408.3 197.0L1404.3 201.4L1400.3 197.0Z" fill="#0010dd"/>
<path d="M1411.4 272.6L1415.4 277.0L1411.4 281.4L1407.4 277.0Z" fill="#0010dd"/>
<path d="M1413.0 278.5L1417.0 282.9L1413.0 287.3L1409.0 282.9Z" fill="#0010dd"/>
<path d="M1417.0 379.9L1421.0 384.3L1417.0 388.7L1413.0 384.3Z" fill="#0010dd"/>
<path d="M1421.4 478.6L1425.4 483.0L1421.4 487.4L1417.4 483.0Z" fill="#0010dd"/>
<path d="M1422.9 514.2L1426.9 518.6L1422.9 523.0L1418.9 518.6Z" fill="#0010dd"/>
<path d="M1425.7 547.0L1429.7 551.4L1425.7 555.8L1421.7 551.4Z" fill="#0010dd"/>
<path d="M1428.6 615.6L1432.6 620.0L1428.6 624.4L1424.6 620.0Z" fill="#0010dd"/>
<path d="M1434.3 641.3L1438.3 645.7L1434.3 650.1L1430.3 645.7Z" fill="#0010dd"/>
<path d="M1438.6 609.9L1442.6 614.3L1438.6 618.7L1434.6 614.3Z" fill="#0010dd"/>
<path d="M1441.4 602.6L1445.4 607.0L1441.4 611.4L1437.4 607.0Z" fill="#0010dd"/>
<path d="M1441.4 602.6L1445.4 607.0L1441.4 611.4L1437.4 607.0Z" fill="#0010dd"/>
<path d="M1441.7 598.1L1445.7 602.5L1441.7 606.9L1437.7 602.5Z" fill="#0010dd"/>
<path d="M1442.0 593.9L1446.0 598.3L1442.0 602.7L1438.0 598.3Z" fill="#0010dd"/>
<path d="M1442.3 589.7L1446.3 594.1L1442.3 598.5L1438.3 594.1Z" fill="#0010dd"/>
<path d="M1442.6 585.1L1446.6 589.5L1442.6 593.9L1438.6 589.5Z" fill="#0010dd"/>
<path d="M1442.9 581.1L1446.9 585.5L1442.9 589.9L1438.9 585.5Z" fill="#0010dd"/>
<path d="M1443.2 576.9L1447.2 581.3L1443.2 585.7L1439.2 581.3Z" fill="#0010dd"/>
<path d="M1443.5 572.7L1447.5 577.1L1443.5 581.5L1439.5 577.1Z" fill="#0010dd"/>
<path d="M1443.8 568.4L1447.8 572.8L1443.8 577.2L1439.8 572.8Z" fill="#0010dd"/>
<path d="M1444.1 564.2L1448.1 568.6L1444.1 573.0L1440.1 568.6Z" fill="#0010dd"/>
<path d="M1444.3 560.0L1448.3 564.4L1444.3 568.8L1440.3 564.4Z" fill="#0010dd"/>
<path d="M1444.7 555.3L1448.7 559.7L1444.7 564.1L1440.7 559.7Z" fill="#0010dd"/>
<path d="M1445.0 550.9L1449.0 555.3L1445.0 559.7L1441.0 555.3Z" fill="#0010dd"/>
<path d="M1445.3 546.4L1449.3 550.8L1445.3 555.2L1441.3 550.8Z" fill="#0010dd"/>
<path d="M1445.6 542.2L1449.6 546.6L1445.6 551.0L1441.6 546.6Z" fill="#0010dd"/>
<path d="M1446.0 537.8L1450.0 542.2L1446.0 546.6L1442.0 542.2Z" fill="#0010dd"/>
<path d="M1446.3 533.8L1450.3 538.2L1446.3 542.6L1442.3 538.2Z" fill="#0010dd"/>
<path d="M1447.1 529.4L1451.1 533.8L1447.1 538.2L1443.1 533.8Z" fill="#0010dd"/>
<path d="M1447.7 525.2L1451.7 529.6L1447.7 534.0L1443.7 529.6Z" fill="#0010dd"/>
<path d="M1448.5 520.9L1452.5 525.3L1448.5 529.7L1444.5 525.3Z" fill="#0010dd"/>
<path d="M1449.2 516.3L1453.2 520.7L1449.2 525.1L1445.2 520.7Z" fill="#0010dd"/>
<path d="M1450.0 511.8L1454.0 516.2L1450.0 520.6L1446.0 516.2Z" fill="#0010dd"/>
<path d="M1450.8 507.6L1454.8 512.0L1450.8 516.4L1446.8 512.0Z" fill="#0010dd"/>
<path d="M1451.6 503.2L1455.6 507.6L1451.6 512.0L1447.6 507.6Z" fill="#0010dd"/>
<path d="M1452.4 499.2L1456.4 503.6L1452.4 508.0L1448.4 503.6Z" fill="#0010dd"/>
<path d="M1453.4 495.3L1457.4 499.7L1453.4 504.1L1449.4 499.7Z" fill="#0010dd"/>
<path d="M1454.8 491.3L1458.8 495.7L1454.8 500.1L1450.8 495.7Z" fill="#0010dd"/>
<path d="M1456.5 487.3L1460.5 491.7L1456.5 496.1L1452.5 491.7Z" fill="#0010dd"/>
<path d="M1458.4 483.1L1462.4 487.5L1458.4 491.9L1454.4 487.5Z" fill="#0010dd"/>
<path d="M1459.3 479.2L1463.3 483.6L1459.3 488.0L1455.3 483.6Z" fill="#0010dd"/>
<path d="M1461.4 475.6L1465.4 480.0L1461.4 484.4L1457.4 480.0Z" fill="#0010dd"/>
<path d="M1463.9 472.8L1467.9 477.2L1463.9 481.6L1459.9 477.2Z" fill="#0010dd"/>
<path d="M1466.7 470.0L1470.7 474.4L1466.7 478.8L1462.7 474.4Z" fill="#0010dd"/>
<path d="M1469.4 467.4L1473.4 471.8L1469.4 476.2L1465.4 471.8Z" fill="#0010dd"/>
<path d="M1472.2 464.8L1476.2 469.2L1472.2 473.6L1468.2 469.2Z" fill="#0010dd"/>
<path d="M1474.9 462.1L1478.9 466.5L1474.9 470.9L1470.9 466.5Z" fill="#0010dd"/>
<path d="M1477.6 459.5L1481.6 463.9L1477.6 468.3L1473.6 463.9Z" fill="#0010dd"/>
<path d="M1480.5 456.6L1484.5 461.0L1480.5 465.4L1476.5 461.0Z" fill="#0010dd"/>
<path d="M1483.3 454.0L1487.3 458.4L1483.3 462.8L1479.3 458.4Z" fill="#0010dd"/>
<path d="M1486.1 451.4L1490.1 455.8L1486.1 460.2L1482.1 455.8Z" fill="#0010dd"/>
<path d="M1488.9 448.7L1492.9 453.1L1488.9 457.5L1484.9 453.1Z" fill="#0010dd"/>
<path d="M1491.9 445.7L1495.9 450.1L1491.9 454.5L1487.9 450.1Z" fill="#0010dd"/>
<path d="M1494.6 442.6L1498.6 447.0L1494.6 451.4L1490.6 447.0Z" fill="#0010dd"/>
<path d="M1497.2 439.4L1501.2 443.8L1497.2 448.2L1493.2 443.8Z" fill="#0010dd"/>
<path d="M1499.7 436.1L1503.7 440.5L1499.7 444.9L1495.7 440.5Z" fill="#0010dd"/>
<path d="M1502.5 432.4L1506.5 436.8L1502.5 441.2L1498.5 436.8Z" fill="#0010dd"/>
<path d="M1504.9 429.2L1508.9 433.6L1504.9 438.0L1500.9 433.6Z" fill="#0010dd"/>
<path d="M1507.3 425.9L1511.3 430.3L1507.3 434.7L1503.3 430.3Z" fill="#0010dd"/>
<path d="M1509.6 422.6L1513.6 427.0L1509.6 431.4L1505.6 427.0Z" fill="#0010dd"/>
<path d="M1512.3 418.8L1516.3 423.2L1512.3 427.6L1508.3 423.2Z" fill="#0010dd"/>
<path d="M1514.7 415.3L1518.7 419.7L1514.7 424.1L1510.7 419.7Z" fill="#0010dd"/>
<path d="M1517.1 412.0L1521.1 416.4L1517.1 420.8L1513.1 416.4Z" fill="#0010dd"/>
<path d="M1522.0 465.6L1526.0 470.0L1522.0 474.4L1518.0 470.0Z" fill="#0010dd"/>
<path d="M1526.0 395.6L1530.0 400.0L1526.0 404.4L1522.0 400.0Z" fill="#0010dd"/>
<path d="M1530.0 325.6L1534.0 330.0L1530.0 334.4L1526.0 330.0Z" fill="#0010dd"/>
<path d="M1535.7 312.6L1539.7 317.0L1535.7 321.4L1531.7 317.0Z" fill="#0010dd"/>
<path d="M1538.0 340.6L1542.0 345.0L1538.0 349.4L1534.0 345.0Z" fill="#0010dd"/>
<path d="M1540.0 357.0L1544.0 361.4L1540.0 365.8L1536.0 361.4Z" fill="#0010dd"/>
<path d="M1541.4 338.5L1545.4 342.9L1541.4 347.3L1537.4 342.9Z" fill="#0010dd"/>
<path d="M1545.7 299.9L1549.7 304.3L1545.7 308.7L1541.7 304.3Z" fill="#0010dd"/>
<path d="M1548.0 235.6L1552.0 240.0L1548.0 244.4L1544.0 240.0Z" fill="#0010dd"/>
<path d="M1550.0 272.6L1554.0 277.0L1550.0 281.4L1546.0 277.0Z" fill="#0010dd"/>
<path d="M1551.4 238.5L1555.4 242.9L1551.4 247.3L1547.4 242.9Z" fill="#0010dd"/>
<path d="M1554.3 222.6L1558.3 227.0L1554.3 231.4L1550.3 227.0Z" fill="#0010dd"/>
<path d="M1557.0 275.6L1561.0 280.0L1557.0 284.4L1553.0 280.0Z" fill="#0010dd"/>
<path d="M1560.0 328.5L1564.0 332.9L1560.0 337.3L1556.0 332.9Z" fill="#0010dd"/>
<path d="M1563.0 295.6L1567.0 300.0L1563.0 304.4L1559.0 300.0Z" fill="#0010dd"/>
<path d="M1567.0 391.3L1571.0 395.7L1567.0 400.1L1563.0 395.7Z" fill="#0010dd"/>
<path d="M1571.0 325.6L1575.0 330.0L1571.0 334.4L1567.0 330.0Z" fill="#0010dd"/>
<path d="M1575.0 275.6L1579.0 280.0L1575.0 284.4L1571.0 280.0Z" fill="#0010dd"/>
<path d="M1581.4 368.5L1585.4 372.9L1581.4 377.3L1577.4 372.9Z" fill="#0010dd"/>
<path d="M1585.0 405.6L1589.0 410.0L1585.0 414.4L1581.0 410.0Z" fill="#0010dd"/>
<path d="M1588.3 465.2L1592.3 469.6L1588.3 474.0L1584.3 469.6Z" fill="#0010dd"/>
<path d="M1591.6 432.2L1595.6 436.6L1591.6 441.0L1587.6 436.6Z" fill="#0010dd"/>
<path d="M1595.7 463.8L1599.7 468.2L1595.7 472.6L1591.7 468.2Z" fill="#0010dd"/>
<path d="M1601.4 441.5L1605.4 445.9L1601.4 450.3L1597.4 445.9Z" fill="#0010dd"/>
<path d="M1608.0 477.8L1612.0 482.2L1608.0 486.6L1604.0 482.2Z" fill="#0010dd"/>
<path d="M1612.9 514.2L1616.9 518.6L1612.9 523.0L1608.9 518.6Z" fill="#0010dd"/>
<path d="M1614.3 468.9L1618.3 473.3L1614.3 477.7L1610.3 473.3Z" fill="#0010dd"/>
<path d="M1619.8 489.2L1623.8 493.6L1619.8 498.0L1615.8 493.6Z" fill="#0010dd"/>
<path d="M1620.0 487.0L1624.0 491.4L1620.0 495.8L1616.0 491.4Z" fill="#0010dd"/>
<path d="M1622.9 464.7L1626.9 469.1L1622.9 473.5L1618.9 469.1Z" fill="#0010dd"/>
<path d="M1628.9 488.1L1632.9 492.5L1628.9 496.9L1624.9 492.5Z" fill="#0010dd"/>
<path d="M1630.0 487.0L1634.0 491.4L1630.0 495.8L1626.0 491.4Z" fill="#0010dd"/>
<path d="M1634.8 468.0L1638.8 472.4L1634.8 476.8L1630.8 472.4Z" fill="#0010dd"/>
<path d="M1637.0 502.6L1641.0 507.0L1637.0 511.4L1633.0 507.0Z" fill="#0010dd"/>
<path d="M1641.4 498.9L1645.4 503.3L1641.4 507.7L1637.4 503.3Z" fill="#0010dd"/>
<path d="M1642.9 518.5L1646.9 522.9L1642.9 527.3L1638.9 522.9Z" fill="#0010dd"/>
<path d="M1647.8 489.4L1651.8 493.8L1647.8 498.2L1643.8 493.8Z" fill="#0010dd"/>
<path d="M1654.6 500.4L1658.6 504.8L1654.6 509.2L1650.6 504.8Z" fill="#0010dd"/>
<path d="M1661.2 511.1L1665.2 515.5L1661.2 519.9L1657.2 515.5Z" fill="#0010dd"/>
<path d="M1665.7 489.3L1669.7 493.7L1665.7 498.1L1661.7 493.7Z" fill="#0010dd"/>
<path d="M1669.7 470.0L1673.7 474.4L1669.7 478.8L1665.7 474.4Z" fill="#0010dd"/>
<path d="M1675.6 488.6L1679.6 493.0L1675.6 497.4L1671.6 493.0Z" fill="#0010dd"/>
<path d="M1681.9 408.6L1685.9 413.0L1681.9 417.4L1677.9 413.0Z" fill="#0010dd"/>
<path d="M1682.0 548.6L1686.0 553.0L1682.0 557.4L1678.0 553.0Z" fill="#0010dd"/>
<path d="M1685.7 476.0L1689.7 480.4L1685.7 484.8L1681.7 480.4Z" fill="#0010dd"/>
<path d="M1686.0 557.6L1690.0 562.0L1686.0 566.4L1682.0 562.0Z" fill="#0010dd"/>
<path d="M1689.6 534.6L1693.6 539.0L1689.6 543.4L1685.6 539.0Z" fill="#0010dd"/>
<path d="M1690.0 573.6L1694.0 578.0L1690.0 582.4L1686.0 578.0Z" fill="#0010dd"/>
<path d="M1693.9 518.0L1697.9 522.4L1693.9 526.8L1689.9 522.4Z" fill="#0010dd"/>
<path d="M1694.0 575.6L1698.0 580.0L1694.0 584.4L1690.0 580.0Z" fill="#0010dd"/>
<path d="M1698.0 471.5L1702.0 475.9L1698.0 480.3L1694.0 475.9Z" fill="#0010dd"/>
<path d="M1698.0 572.6L1702.0 577.0L1698.0 581.4L1694.0 577.0Z" fill="#0010dd"/>
<path d="M1702.0 432.6L1706.0 437.0L1702.0 441.4L1698.0 437.0Z" fill="#0010dd"/>
<path d="M1704.4 496.6L1708.4 501.0L1704.4 505.4L1700.4 501.0Z" fill="#0010dd"/>
<path d="M1705.9 497.1L1709.9 501.5L1705.9 505.9L1701.9 501.5Z" fill="#0010dd"/>
<path d="M1708.1 511.6L1712.1 516.0L1708.1 520.4L1704.1 516.0Z" fill="#0010dd"/>
<path d="M1710.8 458.9L1714.8 463.3L1710.8 467.7L1706.8 463.3Z" fill="#0010dd"/>
<path d="M1713.7 534.3L1717.7 538.7L1713.7 543.1L1709.7 538.7Z" fill="#0010dd"/>
<path d="M1715.5 372.2L1719.5 376.6L1715.5 381.0L1711.5 376.6Z" fill="#0010dd"/>
<path d="M1718.0 491.4L1722.0 495.8L1718.0 500.2L1714.0 495.8Z" fill="#0010dd"/>
<path d="M1719.0 272.6L1723.0 277.0L1719.0 281.4L1715.0 277.0Z" fill="#0010dd"/>
<path d="M1719.5 377.0L1723.5 381.4L1719.5 385.8L1715.5 381.4Z" fill="#0010dd"/>
<path d="M1720.7 301.3L1724.7 305.7L1720.7 310.1L1716.7 305.7Z" fill="#0010dd"/>
<path d="M1722.7 440.3L1726.7 444.7L1722.7 449.1L1718.7 444.7Z" fill="#0010dd"/>
<path d="M1724.3 476.6L1728.3 481.0L1724.3 485.4L1720.3 481.0Z" fill="#0010dd"/>
<path d="M1725.9 450.3L1729.9 454.7L1725.9 459.1L1721.9 454.7Z" fill="#0010dd"/>
<path d="M1727.0 319.9L1731.0 324.3L1727.0 328.7L1723.0 324.3Z" fill="#0010dd"/>
<path d="M1728.0 466.8L1732.0 471.2L1728.0 475.6L1724.0 471.2Z" fill="#0010dd"/>
<path d="M1730.9 485.1L1734.9 489.5L1730.9 493.9L1726.9 489.5Z" fill="#0010dd"/>
<path d="M1733.0 325.6L1737.0 330.0L1733.0 334.4L1729.0 330.0Z" fill="#0010dd"/>
<path d="M1733.6 329.5L1737.6 333.9L1733.6 338.3L1729.6 333.9Z" fill="#0010dd"/>
<path d="M1735.3 467.7L1739.3 472.1L1735.3 476.5L1731.3 472.1Z" fill="#0010dd"/>
<path d="M1736.9 389.9L1740.9 394.3L1736.9 398.7L1732.9 394.3Z" fill="#0010dd"/>
<path d="M1738.6 443.9L1742.6 448.3L1738.6 452.7L1734.6 448.3Z" fill="#0010dd"/>
<path d="M1741.9 485.2L1745.9 489.6L1741.9 494.0L1737.9 489.6Z" fill="#0010dd"/>
<path d="M1743.5 237.0L1747.5 241.4L1743.5 245.8L1739.5 241.4Z" fill="#0010dd"/>
<path d="M1744.3 283.5L1748.3 287.9L1744.3 292.3L1740.3 287.9Z" fill="#0010dd"/>
<path d="M1744.5 415.6L1748.5 420.0L1744.5 424.4L1740.5 420.0Z" fill="#0010dd"/>
<path d="M1744.8 515.6L1748.8 520.0L1744.8 524.4L1740.8 520.0Z" fill="#0010dd"/>
<polyline fill="none" stroke="#000" stroke-width="1.3" stroke-linejoin="round" points="1096.0,440.0 1099.4,470.7 1101.7,469.7 1104.0,485.0 1106.5,501.3 1108.9,499.0 1111.2,513.5 1113.6,527.0 1115.9,545.7 1118.3,567.4 1122.0,560.0 1125.4,543.8 1127.8,526.9 1130.1,499.5 1132.5,466.0 1134.8,407.2 1137.2,366.9 1139.6,335.7 1141.9,291.3 1144.3,314.3 1150.0,328.6 1155.7,340.0 1158.4,366.9 1160.8,400.0 1163.0,380.0 1167.9,433.0 1170.0,440.0 1172.9,402.9 1174.9,371.6 1179.7,343.3 1182.0,341.0 1186.0,352.0 1186.0,352.0 1187.2,356.5 1189.0,361.1 1191.5,365.2 1194.1,368.9 1197.1,372.9 1200.3,377.1 1203.2,381.2 1205.8,385.3 1208.3,389.5 1210.7,393.6 1213.0,397.9 1215.4,402.3 1217.6,406.5 1219.8,411.0 1222.0,415.6 1224.2,420.1 1226.2,424.1 1228.5,428.6 1231.0,433.0 1233.5,437.4 1235.7,441.3 1238.3,445.4 1240.6,449.7 1242.6,454.3 1244.2,458.5 1246.0,463.2 1247.6,467.7 1249.2,472.1 1250.0,474.3 1255.7,515.7 1258.0,530.0 1261.4,547.0 1262.9,568.6 1270.0,631.4 1274.3,624.3 1277.0,551.4 1280.0,491.4 1284.3,398.6 1287.0,364.3 1290.0,301.4 1293.0,301.4 1298.6,264.0 1301.4,262.9 1303.0,217.0 1304.3,208.6 1308.6,171.4 1313.0,170.0 1317.0,168.6 1322.0,165.0 1327.0,154.3 1331.4,137.0 1332.9,128.6 1332.9,128.6 1333.4,125.0 1333.9,121.3 1334.5,117.2 1335.2,113.2 1336.1,109.6 1337.4,106.2 1340.3,103.5 1343.2,102.8 1346.2,103.0 1349.2,104.0 1352.3,105.8 1355.3,107.7 1358.2,109.3 1361.5,111.6 1364.6,112.9 1367.7,112.0 1370.8,109.1 1373.3,106.5 1376.5,104.0 1379.8,101.6 1383.0,100.0 1386.2,99.7 1389.4,100.4 1392.3,102.1 1394.7,105.0 1396.7,107.8 1399.1,110.5 1402.0,113.5 1404.7,116.0 1408.0,118.3 1411.2,119.5 1414.7,119.9 1418.1,119.9 1421.2,120.0 1424.1,119.6 1427.2,119.4 1430.3,121.9 1432.2,125.4 1433.7,128.7 1434.3,130.0 1440.0,171.4 1442.9,197.0 1445.7,234.3 1451.4,234.3 1458.6,217.0 1462.9,354.3 1465.7,380.0 1470.0,461.4 1472.9,480.0 1475.7,580.0 1478.6,588.6 1482.9,627.0 1485.7,611.4 1487.0,528.6 1488.6,517.0 1492.9,491.4 1495.7,474.3 1495.7,474.3 1498.3,471.4 1501.1,468.3 1503.7,465.5 1506.5,462.6 1509.4,459.8 1512.3,457.4 1515.1,455.5 1518.1,453.9 1521.2,452.4 1523.8,451.3 1526.4,450.2 1529.0,449.1 1531.5,447.9 1534.5,446.4 1537.5,444.6 1540.3,442.6 1543.1,440.5 1545.9,438.4 1548.6,436.3 1551.3,434.2 1554.0,432.4 1557.0,430.7 1559.6,429.4 1562.4,428.1 1565.2,427.0 1567.9,425.9 1570.5,424.9 1573.3,423.9 1576.5,422.6 1579.3,421.3 1582.0,420.0 1582.0,420.0 1586.0,300.0 1588.6,288.6 1592.0,345.7 1594.0,302.9 1597.0,346.0 1598.9,341.9 1600.8,337.7 1602.6,333.8 1604.5,329.6 1606.2,325.9 1607.8,322.2 1609.4,318.4 1610.9,314.5 1612.6,310.7 1614.4,306.3 1616.0,302.3 1617.0,241.0 1621.4,250.0 1624.0,400.0 1628.6,300.0 1629.6,411.0 1632.0,453.5 1635.1,450.2 1638.9,378.4 1639.0,472.0 1642.6,473.3 1646.5,382.7 1649.1,442.9 1651.1,456.7 1654.3,505.3 1658.4,465.2 1660.0,486.5 1660.3,509.4 1665.9,488.9 1670.4,493.5 1671.0,502.7 1675.0,499.3 1676.3,501.8 1677.8,495.2 1700.0,507.8 1702.3,502.8 1705.0,514.8 1708.5,521.5 1710.9,514.5 1713.2,512.8 1716.4,512.2 1719.0,527.3 1722.3,522.1 1725.7,537.3 1727.9,539.5 1731.5,533.9 1734.1,548.8 1736.9,534.4 1739.4,552.0 1742.8,554.6 1746.4,552.9 1750.5,553.9 1753.8,566.3 1757.2,570.4 1760.0,459.4 1761.4,383.0 1761.7,495.4 1763.0,400.0 1764.1,457.5 1766.2,458.6 1767.0,437.0 1767.7,405.5 1769.0,451.1 1771.3,345.5 1771.4,387.0 1772.8,460.4 1774.3,328.3 1776.7,510.1 1778.4,339.3 1778.6,354.3 1780.0,297.0 1780.1,516.4 1781.7,362.8 1783.1,443.8 1785.4,350.5 1786.8,456.9 1787.0,334.3 1787.9,524.0 1788.6,497.0 1789.2,454.1 1791.2,301.3 1791.4,531.4 1792.6,478.3 1792.9,312.9 1794.2,517.6 1794.3,511.4 1796.5,529.1 1797.0,394.0 1798.6,354.3 1798.7,369.3 1800.0,531.4 1800.2,511.9 1801.4,403.0 1802.4,408.0 1802.9,258.6 1802.9,301.4 1804.2,458.9 1806.0,418.0 1807.7,411.5 1809.1,328.7"/>
<circle cx="1096.0" cy="440.0" r="5.5" fill="#680078" stroke="#000" stroke-width="1.1"/>
<circle cx="1093.9" cy="437.9" r="1.4" fill="#f0b8f0"/>
<circle cx="1099.4" cy="470.7" r="5.5" fill="#680078" stroke="#000" stroke-width="1.1"/>
<circle cx="1097.3" cy="468.6" r="1.4" fill="#f0b8f0"/>
<circle cx="1101.7" cy="469.7" r="5.5" fill="#680078" stroke="#000" stroke-width="1.1"/>
<circle cx="1099.6" cy="467.6" r="1.4" fill="#f0b8f0"/>
<circle cx="1104.0" cy="485.0" r="5.5" fill="#680078" stroke="#000" stroke-width="1.1"/>
<circle cx="1101.9" cy="482.9" r="1.4" fill="#f0b8f0"/>
<circle cx="1106.5" cy="501.3" r="5.5" fill="#680078" stroke="#000" stroke-width="1.1"/>
<circle cx="1104.4" cy="499.2" r="1.4" fill="#f0b8f0"/>
<circle cx="1108.9" cy="499.0" r="5.5" fill="#680078" stroke="#000" stroke-width="1.1"/>
<circle cx="1106.8" cy="496.9" r="1.4" fill="#f0b8f0"/>
<circle cx="1111.2" cy="513.5" r="5.5" fill="#680078" stroke="#000" stroke-width="1.1"/>
<circle cx="1109.2" cy="511.5" r="1.4" fill="#f0b8f0"/>
<circle cx="1113.6" cy="527.0" r="5.5" fill="#680078" stroke="#000" stroke-width="1.1"/>
<circle cx="1111.5" cy="524.9" r="1.4" fill="#f0b8f0"/>
<circle cx="1115.9" cy="545.7" r="5.5" fill="#680078" stroke="#000" stroke-width="1.1"/>
<circle cx="1113.9" cy="543.6" r="1.4" fill="#f0b8f0"/>
<circle cx="1118.3" cy="567.4" r="5.5" fill="#680078" stroke="#000" stroke-width="1.1"/>
<circle cx="1116.2" cy="565.3" r="1.4" fill="#f0b8f0"/>
<circle cx="1122.0" cy="560.0" r="5.5" fill="#680078" stroke="#000" stroke-width="1.1"/>
<circle cx="1119.9" cy="557.9" r="1.4" fill="#f0b8f0"/>
<circle cx="1125.4" cy="543.8" r="5.5" fill="#680078" stroke="#000" stroke-width="1.1"/>
<circle cx="1123.3" cy="541.7" r="1.4" fill="#f0b8f0"/>
<circle cx="1127.8" cy="526.9" r="5.5" fill="#680078" stroke="#000" stroke-width="1.1"/>
<circle cx="1125.7" cy="524.8" r="1.4" fill="#f0b8f0"/>
<circle cx="1130.1" cy="499.5" r="5.5" fill="#680078" stroke="#000" stroke-width="1.1"/>
<circle cx="1128.0" cy="497.5" r="1.4" fill="#f0b8f0"/>
<circle cx="1132.5" cy="466.0" r="5.5" fill="#680078" stroke="#000" stroke-width="1.1"/>
<circle cx="1130.4" cy="463.9" r="1.4" fill="#f0b8f0"/>
<circle cx="1134.8" cy="407.2" r="5.5" fill="#680078" stroke="#000" stroke-width="1.1"/>
<circle cx="1132.8" cy="405.2" r="1.4" fill="#f0b8f0"/>
<circle cx="1137.2" cy="366.9" r="5.5" fill="#680078" stroke="#000" stroke-width="1.1"/>
<circle cx="1135.1" cy="364.8" r="1.4" fill="#f0b8f0"/>
<circle cx="1139.6" cy="335.7" r="5.5" fill="#680078" stroke="#000" stroke-width="1.1"/>
<circle cx="1137.5" cy="333.6" r="1.4" fill="#f0b8f0"/>
<circle cx="1141.9" cy="291.3" r="5.5" fill="#680078" stroke="#000" stroke-width="1.1"/>
<circle cx="1139.8" cy="289.2" r="1.4" fill="#f0b8f0"/>
<circle cx="1144.3" cy="314.3" r="5.5" fill="#680078" stroke="#000" stroke-width="1.1"/>
<circle cx="1142.2" cy="312.2" r="1.4" fill="#f0b8f0"/>
<circle cx="1150.0" cy="328.6" r="5.5" fill="#680078" stroke="#000" stroke-width="1.1"/>
<circle cx="1147.9" cy="326.5" r="1.4" fill="#f0b8f0"/>
<circle cx="1155.7" cy="340.0" r="5.5" fill="#680078" stroke="#000" stroke-width="1.1"/>
<circle cx="1153.6" cy="337.9" r="1.4" fill="#f0b8f0"/>
<circle cx="1158.4" cy="366.9" r="5.5" fill="#680078" stroke="#000" stroke-width="1.1"/>
<circle cx="1156.3" cy="364.8" r="1.4" fill="#f0b8f0"/>
<circle cx="1160.8" cy="400.0" r="5.5" fill="#680078" stroke="#000" stroke-width="1.1"/>
<circle cx="1158.7" cy="397.9" r="1.4" fill="#f0b8f0"/>
<circle cx="1163.0" cy="380.0" r="5.5" fill="#680078" stroke="#000" stroke-width="1.1"/>
<circle cx="1160.9" cy="377.9" r="1.4" fill="#f0b8f0"/>
<circle cx="1167.9" cy="433.0" r="5.5" fill="#680078" stroke="#000" stroke-width="1.1"/>
<circle cx="1165.8" cy="430.9" r="1.4" fill="#f0b8f0"/>
<circle cx="1170.0" cy="440.0" r="5.5" fill="#680078" stroke="#000" stroke-width="1.1"/>
<circle cx="1167.9" cy="437.9" r="1.4" fill="#f0b8f0"/>
<circle cx="1172.9" cy="402.9" r="5.5" fill="#680078" stroke="#000" stroke-width="1.1"/>
<circle cx="1170.8" cy="400.8" r="1.4" fill="#f0b8f0"/>
<circle cx="1174.9" cy="371.6" r="5.5" fill="#680078" stroke="#000" stroke-width="1.1"/>
<circle cx="1172.8" cy="369.5" r="1.4" fill="#f0b8f0"/>
<circle cx="1179.7" cy="343.3" r="5.5" fill="#680078" stroke="#000" stroke-width="1.1"/>
<circle cx="1177.6" cy="341.2" r="1.4" fill="#f0b8f0"/>
<circle cx="1182.0" cy="341.0" r="5.5" fill="#680078" stroke="#000" stroke-width="1.1"/>
<circle cx="1179.9" cy="338.9" r="1.4" fill="#f0b8f0"/>
<circle cx="1186.0" cy="352.0" r="5.5" fill="#680078" stroke="#000" stroke-width="1.1"/>
<circle cx="1183.9" cy="349.9" r="1.4" fill="#f0b8f0"/>
<circle cx="1186.0" cy="352.0" r="5.5" fill="#680078" stroke="#000" stroke-width="1.1"/>
<circle cx="1183.9" cy="349.9" r="1.4" fill="#f0b8f0"/>
<circle cx="1187.2" cy="356.5" r="5.5" fill="#680078" stroke="#000" stroke-width="1.1"/>
<circle cx="1185.1" cy="354.4" r="1.4" fill="#f0b8f0"/>
<circle cx="1189.0" cy="361.1" r="5.5" fill="#680078" stroke="#000" stroke-width="1.1"/>
<circle cx="1186.9" cy="359.0" r="1.4" fill="#f0b8f0"/>
<circle cx="1191.5" cy="365.2" r="5.5" fill="#680078" stroke="#000" stroke-width="1.1"/>
<circle cx="1189.4" cy="363.1" r="1.4" fill="#f0b8f0"/>
<circle cx="1194.1" cy="368.9" r="5.5" fill="#680078" stroke="#000" stroke-width="1.1"/>
<circle cx="1192.0" cy="366.8" r="1.4" fill="#f0b8f0"/>
<circle cx="1197.1" cy="372.9" r="5.5" fill="#680078" stroke="#000" stroke-width="1.1"/>
<circle cx="1195.0" cy="370.8" r="1.4" fill="#f0b8f0"/>
<circle cx="1200.3" cy="377.1" r="5.5" fill="#680078" stroke="#000" stroke-width="1.1"/>
<circle cx="1198.2" cy="375.0" r="1.4" fill="#f0b8f0"/>
<circle cx="1203.2" cy="381.2" r="5.5" fill="#680078" stroke="#000" stroke-width="1.1"/>
<circle cx="1201.1" cy="379.1" r="1.4" fill="#f0b8f0"/>
<circle cx="1205.8" cy="385.3" r="5.5" fill="#680078" stroke="#000" stroke-width="1.1"/>
<circle cx="1203.7" cy="383.2" r="1.4" fill="#f0b8f0"/>
<circle cx="1208.3" cy="389.5" r="5.5" fill="#680078" stroke="#000" stroke-width="1.1"/>
<circle cx="1206.2" cy="387.4" r="1.4" fill="#f0b8f0"/>
<circle cx="1210.7" cy="393.6" r="5.5" fill="#680078" stroke="#000" stroke-width="1.1"/>
<circle cx="1208.6" cy="391.5" r="1.4" fill="#f0b8f0"/>
<circle cx="1213.0" cy="397.9" r="5.5" fill="#680078" stroke="#000" stroke-width="1.1"/>
<circle cx="1210.9" cy="395.8" r="1.4" fill="#f0b8f0"/>
<circle cx="1215.4" cy="402.3" r="5.5" fill="#680078" stroke="#000" stroke-width="1.1"/>
<circle cx="1213.3" cy="400.2" r="1.4" fill="#f0b8f0"/>
<circle cx="1217.6" cy="406.5" r="5.5" fill="#680078" stroke="#000" stroke-width="1.1"/>
<circle cx="1215.5" cy="404.4" r="1.4" fill="#f0b8f0"/>
<circle cx="1219.8" cy="411.0" r="5.5" fill="#680078" stroke="#000" stroke-width="1.1"/>
<circle cx="1217.7" cy="409.0" r="1.4" fill="#f0b8f0"/>
<circle cx="1222.0" cy="415.6" r="5.5" fill="#680078" stroke="#000" stroke-width="1.1"/>
<circle cx="1219.9" cy="413.5" r="1.4" fill="#f0b8f0"/>
<circle cx="1224.2" cy="420.1" r="5.5" fill="#680078" stroke="#000" stroke-width="1.1"/>
<circle cx="1222.1" cy="418.0" r="1.4" fill="#f0b8f0"/>
<circle cx="1226.2" cy="424.1" r="5.5" fill="#680078" stroke="#000" stroke-width="1.1"/>
<circle cx="1224.1" cy="422.0" r="1.4" fill="#f0b8f0"/>
<circle cx="1228.5" cy="428.6" r="5.5" fill="#680078" stroke="#000" stroke-width="1.1"/>
<circle cx="1226.5" cy="426.5" r="1.4" fill="#f0b8f0"/>
<circle cx="1231.0" cy="433.0" r="5.5" fill="#680078" stroke="#000" stroke-width="1.1"/>
<circle cx="1228.9" cy="430.9" r="1.4" fill="#f0b8f0"/>
<circle cx="1233.5" cy="437.4" r="5.5" fill="#680078" stroke="#000" stroke-width="1.1"/>
<circle cx="1231.4" cy="435.3" r="1.4" fill="#f0b8f0"/>
<circle cx="1235.7" cy="441.3" r="5.5" fill="#680078" stroke="#000" stroke-width="1.1"/>
<circle cx="1233.6" cy="439.2" r="1.4" fill="#f0b8f0"/>
<circle cx="1238.3" cy="445.4" r="5.5" fill="#680078" stroke="#000" stroke-width="1.1"/>
<circle cx="1236.2" cy="443.3" r="1.4" fill="#f0b8f0"/>
<circle cx="1240.6" cy="449.7" r="5.5" fill="#680078" stroke="#000" stroke-width="1.1"/>
<circle cx="1238.6" cy="447.6" r="1.4" fill="#f0b8f0"/>
<circle cx="1242.6" cy="454.3" r="5.5" fill="#680078" stroke="#000" stroke-width="1.1"/>
<circle cx="1240.5" cy="452.2" r="1.4" fill="#f0b8f0"/>
<circle cx="1244.2" cy="458.5" r="5.5" fill="#680078" stroke="#000" stroke-width="1.1"/>
<circle cx="1242.1" cy="456.4" r="1.4" fill="#f0b8f0"/>
<circle cx="1246.0" cy="463.2" r="5.5" fill="#680078" stroke="#000" stroke-width="1.1"/>
<circle cx="1243.9" cy="461.1" r="1.4" fill="#f0b8f0"/>
<circle cx="1247.6" cy="467.7" r="5.5" fill="#680078" stroke="#000" stroke-width="1.1"/>
<circle cx="1245.5" cy="465.6" r="1.4" fill="#f0b8f0"/>
<circle cx="1249.2" cy="472.1" r="5.5" fill="#680078" stroke="#000" stroke-width="1.1"/>
<circle cx="1247.1" cy="470.0" r="1.4" fill="#f0b8f0"/>
<circle cx="1250.0" cy="474.3" r="5.5" fill="#680078" stroke="#000" stroke-width="1.1"/>
<circle cx="1247.9" cy="472.2" r="1.4" fill="#f0b8f0"/>
<circle cx="1255.7" cy="515.7" r="5.5" fill="#680078" stroke="#000" stroke-width="1.1"/>
<circle cx="1253.6" cy="513.6" r="1.4" fill="#f0b8f0"/>
<circle cx="1258.0" cy="530.0" r="5.5" fill="#680078" stroke="#000" stroke-width="1.1"/>
<circle cx="1255.9" cy="527.9" r="1.4" fill="#f0b8f0"/>
<circle cx="1261.4" cy="547.0" r="5.5" fill="#680078" stroke="#000" stroke-width="1.1"/>
<circle cx="1259.3" cy="544.9" r="1.4" fill="#f0b8f0"/>
<circle cx="1262.9" cy="568.6" r="5.5" fill="#680078" stroke="#000" stroke-width="1.1"/>
<circle cx="1260.8" cy="566.5" r="1.4" fill="#f0b8f0"/>
<circle cx="1270.0" cy="631.4" r="5.5" fill="#680078" stroke="#000" stroke-width="1.1"/>
<circle cx="1267.9" cy="629.3" r="1.4" fill="#f0b8f0"/>
<circle cx="1274.3" cy="624.3" r="5.5" fill="#680078" stroke="#000" stroke-width="1.1"/>
<circle cx="1272.2" cy="622.2" r="1.4" fill="#f0b8f0"/>
<circle cx="1277.0" cy="551.4" r="5.5" fill="#680078" stroke="#000" stroke-width="1.1"/>
<circle cx="1274.9" cy="549.3" r="1.4" fill="#f0b8f0"/>
<circle cx="1280.0" cy="491.4" r="5.5" fill="#680078" stroke="#000" stroke-width="1.1"/>
<circle cx="1277.9" cy="489.3" r="1.4" fill="#f0b8f0"/>
<circle cx="1284.3" cy="398.6" r="5.5" fill="#680078" stroke="#000" stroke-width="1.1"/>
<circle cx="1282.2" cy="396.5" r="1.4" fill="#f0b8f0"/>
<circle cx="1287.0" cy="364.3" r="5.5" fill="#680078" stroke="#000" stroke-width="1.1"/>
<circle cx="1284.9" cy="362.2" r="1.4" fill="#f0b8f0"/>
<circle cx="1290.0" cy="301.4" r="5.5" fill="#680078" stroke="#000" stroke-width="1.1"/>
<circle cx="1287.9" cy="299.3" r="1.4" fill="#f0b8f0"/>
<circle cx="1293.0" cy="301.4" r="5.5" fill="#680078" stroke="#000" stroke-width="1.1"/>
<circle cx="1290.9" cy="299.3" r="1.4" fill="#f0b8f0"/>
<circle cx="1298.6" cy="264.0" r="5.5" fill="#680078" stroke="#000" stroke-width="1.1"/>
<circle cx="1296.5" cy="261.9" r="1.4" fill="#f0b8f0"/>
<circle cx="1301.4" cy="262.9" r="5.5" fill="#680078" stroke="#000" stroke-width="1.1"/>
<circle cx="1299.3" cy="260.8" r="1.4" fill="#f0b8f0"/>
<circle cx="1303.0" cy="217.0" r="5.5" fill="#680078" stroke="#000" stroke-width="1.1"/>
<circle cx="1300.9" cy="214.9" r="1.4" fill="#f0b8f0"/>
<circle cx="1304.3" cy="208.6" r="5.5" fill="#680078" stroke="#000" stroke-width="1.1"/>
<circle cx="1302.2" cy="206.5" r="1.4" fill="#f0b8f0"/>
<circle cx="1308.6" cy="171.4" r="5.5" fill="#680078" stroke="#000" stroke-width="1.1"/>
<circle cx="1306.5" cy="169.3" r="1.4" fill="#f0b8f0"/>
<circle cx="1313.0" cy="170.0" r="5.5" fill="#680078" stroke="#000" stroke-width="1.1"/>
<circle cx="1310.9" cy="167.9" r="1.4" fill="#f0b8f0"/>
<circle cx="1317.0" cy="168.6" r="5.5" fill="#680078" stroke="#000" stroke-width="1.1"/>
<circle cx="1314.9" cy="166.5" r="1.4" fill="#f0b8f0"/>
<circle cx="1322.0" cy="165.0" r="5.5" fill="#680078" stroke="#000" stroke-width="1.1"/>
<circle cx="1319.9" cy="162.9" r="1.4" fill="#f0b8f0"/>
<circle cx="1327.0" cy="154.3" r="5.5" fill="#680078" stroke="#000" stroke-width="1.1"/>
<circle cx="1324.9" cy="152.2" r="1.4" fill="#f0b8f0"/>
<circle cx="1331.4" cy="137.0" r="5.5" fill="#680078" stroke="#000" stroke-width="1.1"/>
<circle cx="1329.3" cy="134.9" r="1.4" fill="#f0b8f0"/>
<circle cx="1332.9" cy="128.6" r="5.5" fill="#680078" stroke="#000" stroke-width="1.1"/>
<circle cx="1330.8" cy="126.5" r="1.4" fill="#f0b8f0"/>
<circle cx="1332.9" cy="128.6" r="5.5" fill="#680078" stroke="#000" stroke-width="1.1"/>
<circle cx="1330.8" cy="126.5" r="1.4" fill="#f0b8f0"/>
<circle cx="1333.4" cy="125.0" r="5.5" fill="#680078" stroke="#000" stroke-width="1.1"/>
<circle cx="1331.3" cy="122.9" r="1.4" fill="#f0b8f0"/>
<circle cx="1333.9" cy="121.3" r="5.5" fill="#680078" stroke="#000" stroke-width="1.1"/>
<circle cx="1331.8" cy="119.2" r="1.4" fill="#f0b8f0"/>
<circle cx="1334.5" cy="117.2" r="5.5" fill="#680078" stroke="#000" stroke-width="1.1"/>
<circle cx="1332.4" cy="115.1" r="1.4" fill="#f0b8f0"/>
<circle cx="1335.2" cy="113.2" r="5.5" fill="#680078" stroke="#000" stroke-width="1.1"/>
<circle cx="1333.2" cy="111.1" r="1.4" fill="#f0b8f0"/>
<circle cx="1336.1" cy="109.6" r="5.5" fill="#680078" stroke="#000" stroke-width="1.1"/>
<circle cx="1334.0" cy="107.5" r="1.4" fill="#f0b8f0"/>
<circle cx="1337.4" cy="106.2" r="5.5" fill="#680078" stroke="#000" stroke-width="1.1"/>
<circle cx="1335.3" cy="104.2" r="1.4" fill="#f0b8f0"/>
<circle cx="1340.3" cy="103.5" r="5.5" fill="#680078" stroke="#000" stroke-width="1.1"/>
<circle cx="1338.3" cy="101.4" r="1.4" fill="#f0b8f0"/>
<circle cx="1343.2" cy="102.8" r="5.5" fill="#680078" stroke="#000" stroke-width="1.1"/>
<circle cx="1341.1" cy="100.7" r="1.4" fill="#f0b8f0"/>
<circle cx="1346.2" cy="103.0" r="5.5" fill="#680078" stroke="#000" stroke-width="1.1"/>
<circle cx="1344.1" cy="100.9" r="1.4" fill="#f0b8f0"/>
<circle cx="1349.2" cy="104.0" r="5.5" fill="#680078" stroke="#000" stroke-width="1.1"/>
<circle cx="1347.1" cy="101.9" r="1.4" fill="#f0b8f0"/>
<circle cx="1352.3" cy="105.8" r="5.5" fill="#680078" stroke="#000" stroke-width="1.1"/>
<circle cx="1350.2" cy="103.7" r="1.4" fill="#f0b8f0"/>
<circle cx="1355.3" cy="107.7" r="5.5" fill="#680078" stroke="#000" stroke-width="1.1"/>
<circle cx="1353.2" cy="105.6" r="1.4" fill="#f0b8f0"/>
<circle cx="1358.2" cy="109.3" r="5.5" fill="#680078" stroke="#000" stroke-width="1.1"/>
<circle cx="1356.1" cy="107.2" r="1.4" fill="#f0b8f0"/>
<circle cx="1361.5" cy="111.6" r="5.5" fill="#680078" stroke="#000" stroke-width="1.1"/>
<circle cx="1359.4" cy="109.5" r="1.4" fill="#f0b8f0"/>
<circle cx="1364.6" cy="112.9" r="5.5" fill="#680078" stroke="#000" stroke-width="1.1"/>
<circle cx="1362.5" cy="110.8" r="1.4" fill="#f0b8f0"/>
<circle cx="1367.7" cy="112.0" r="5.5" fill="#680078" stroke="#000" stroke-width="1.1"/>
<circle cx="1365.6" cy="109.9" r="1.4" fill="#f0b8f0"/>
<circle cx="1370.8" cy="109.1" r="5.5" fill="#680078" stroke="#000" stroke-width="1.1"/>
<circle cx="1368.7" cy="107.0" r="1.4" fill="#f0b8f0"/>
<circle cx="1373.3" cy="106.5" r="5.5" fill="#680078" stroke="#000" stroke-width="1.1"/>
<circle cx="1371.2" cy="104.5" r="1.4" fill="#f0b8f0"/>
<circle cx="1376.5" cy="104.0" r="5.5" fill="#680078" stroke="#000" stroke-width="1.1"/>
<circle cx="1374.4" cy="101.9" r="1.4" fill="#f0b8f0"/>
<circle cx="1379.8" cy="101.6" r="5.5" fill="#680078" stroke="#000" stroke-width="1.1"/>
<circle cx="1377.7" cy="99.5" r="1.4" fill="#f0b8f0"/>
<circle cx="1383.0" cy="100.0" r="5.5" fill="#680078" stroke="#000" stroke-width="1.1"/>
<circle cx="1380.9" cy="97.9" r="1.4" fill="#f0b8f0"/>
<circle cx="1386.2" cy="99.7" r="5.5" fill="#680078" stroke="#000" stroke-width="1.1"/>
<circle cx="1384.1" cy="97.6" r="1.4" fill="#f0b8f0"/>
<circle cx="1389.4" cy="100.4" r="5.5" fill="#680078" stroke="#000" stroke-width="1.1"/>
<circle cx="1387.3" cy="98.3" r="1.4" fill="#f0b8f0"/>
<circle cx="1392.3" cy="102.1" r="5.5" fill="#680078" stroke="#000" stroke-width="1.1"/>
<circle cx="1390.2" cy="100.0" r="1.4" fill="#f0b8f0"/>
<circle cx="1394.7" cy="105.0" r="5.5" fill="#680078" stroke="#000" stroke-width="1.1"/>
<circle cx="1392.6" cy="102.9" r="1.4" fill="#f0b8f0"/>
<circle cx="1396.7" cy="107.8" r="5.5" fill="#680078" stroke="#000" stroke-width="1.1"/>
<circle cx="1394.6" cy="105.7" r="1.4" fill="#f0b8f0"/>
<circle cx="1399.1" cy="110.5" r="5.5" fill="#680078" stroke="#000" stroke-width="1.1"/>
<circle cx="1397.0" cy="108.4" r="1.4" fill="#f0b8f0"/>
<circle cx="1402.0" cy="113.5" r="5.5" fill="#680078" stroke="#000" stroke-width="1.1"/>
<circle cx="1399.9" cy="111.4" r="1.4" fill="#f0b8f0"/>
<circle cx="1404.7" cy="116.0" r="5.5" fill="#680078" stroke="#000" stroke-width="1.1"/>
<circle cx="1402.6" cy="113.9" r="1.4" fill="#f0b8f0"/>
<circle cx="1408.0" cy="118.3" r="5.5" fill="#680078" stroke="#000" stroke-width="1.1"/>
<circle cx="1405.9" cy="116.2" r="1.4" fill="#f0b8f0"/>
<circle cx="1411.2" cy="119.5" r="5.5" fill="#680078" stroke="#000" stroke-width="1.1"/>
<circle cx="1409.2" cy="117.4" r="1.4" fill="#f0b8f0"/>
<circle cx="1414.7" cy="119.9" r="5.5" fill="#680078" stroke="#000" stroke-width="1.1"/>
<circle cx="1412.6" cy="117.8" r="1.4" fill="#f0b8f0"/>
<circle cx="1418.1" cy="119.9" r="5.5" fill="#680078" stroke="#000" stroke-width="1.1"/>
<circle cx="1416.0" cy="117.8" r="1.4" fill="#f0b8f0"/>
<circle cx="1421.2" cy="120.0" r="5.5" fill="#680078" stroke="#000" stroke-width="1.1"/>
<circle cx="1419.1" cy="117.9" r="1.4" fill="#f0b8f0"/>
<circle cx="1424.1" cy="119.6" r="5.5" fill="#680078" stroke="#000" stroke-width="1.1"/>
<circle cx="1422.0" cy="117.5" r="1.4" fill="#f0b8f0"/>
<circle cx="1427.2" cy="119.4" r="5.5" fill="#680078" stroke="#000" stroke-width="1.1"/>
<circle cx="1425.1" cy="117.3" r="1.4" fill="#f0b8f0"/>
<circle cx="1430.3" cy="121.9" r="5.5" fill="#680078" stroke="#000" stroke-width="1.1"/>
<circle cx="1428.2" cy="119.8" r="1.4" fill="#f0b8f0"/>
<circle cx="1432.2" cy="125.4" r="5.5" fill="#680078" stroke="#000" stroke-width="1.1"/>
<circle cx="1430.1" cy="123.3" r="1.4" fill="#f0b8f0"/>
<circle cx="1433.7" cy="128.7" r="5.5" fill="#680078" stroke="#000" stroke-width="1.1"/>
<circle cx="1431.6" cy="126.6" r="1.4" fill="#f0b8f0"/>
<circle cx="1434.3" cy="130.0" r="5.5" fill="#680078" stroke="#000" stroke-width="1.1"/>
<circle cx="1432.2" cy="127.9" r="1.4" fill="#f0b8f0"/>
<circle cx="1440.0" cy="171.4" r="5.5" fill="#680078" stroke="#000" stroke-width="1.1"/>
<circle cx="1437.9" cy="169.3" r="1.4" fill="#f0b8f0"/>
<circle cx="1442.9" cy="197.0" r="5.5" fill="#680078" stroke="#000" stroke-width="1.1"/>
<circle cx="1440.8" cy="194.9" r="1.4" fill="#f0b8f0"/>
<circle cx="1445.7" cy="234.3" r="5.5" fill="#680078" stroke="#000" stroke-width="1.1"/>
<circle cx="1443.6" cy="232.2" r="1.4" fill="#f0b8f0"/>
<circle cx="1451.4" cy="234.3" r="5.5" fill="#680078" stroke="#000" stroke-width="1.1"/>
<circle cx="1449.3" cy="232.2" r="1.4" fill="#f0b8f0"/>
<circle cx="1458.6" cy="217.0" r="5.5" fill="#680078" stroke="#000" stroke-width="1.1"/>
<circle cx="1456.5" cy="214.9" r="1.4" fill="#f0b8f0"/>
<circle cx="1462.9" cy="354.3" r="5.5" fill="#680078" stroke="#000" stroke-width="1.1"/>
<circle cx="1460.8" cy="352.2" r="1.4" fill="#f0b8f0"/>
<circle cx="1465.7" cy="380.0" r="5.5" fill="#680078" stroke="#000" stroke-width="1.1"/>
<circle cx="1463.6" cy="377.9" r="1.4" fill="#f0b8f0"/>
<circle cx="1470.0" cy="461.4" r="5.5" fill="#680078" stroke="#000" stroke-width="1.1"/>
<circle cx="1467.9" cy="459.3" r="1.4" fill="#f0b8f0"/>
<circle cx="1472.9" cy="480.0" r="5.5" fill="#680078" stroke="#000" stroke-width="1.1"/>
<circle cx="1470.8" cy="477.9" r="1.4" fill="#f0b8f0"/>
<circle cx="1475.7" cy="580.0" r="5.5" fill="#680078" stroke="#000" stroke-width="1.1"/>
<circle cx="1473.6" cy="577.9" r="1.4" fill="#f0b8f0"/>
<circle cx="1478.6" cy="588.6" r="5.5" fill="#680078" stroke="#000" stroke-width="1.1"/>
<circle cx="1476.5" cy="586.5" r="1.4" fill="#f0b8f0"/>
<circle cx="1482.9" cy="627.0" r="5.5" fill="#680078" stroke="#000" stroke-width="1.1"/>
<circle cx="1480.8" cy="624.9" r="1.4" fill="#f0b8f0"/>
<circle cx="1485.7" cy="611.4" r="5.5" fill="#680078" stroke="#000" stroke-width="1.1"/>
<circle cx="1483.6" cy="609.3" r="1.4" fill="#f0b8f0"/>
<circle cx="1487.0" cy="528.6" r="5.5" fill="#680078" stroke="#000" stroke-width="1.1"/>
<circle cx="1484.9" cy="526.5" r="1.4" fill="#f0b8f0"/>
<circle cx="1488.6" cy="517.0" r="5.5" fill="#680078" stroke="#000" stroke-width="1.1"/>
<circle cx="1486.5" cy="514.9" r="1.4" fill="#f0b8f0"/>
<circle cx="1492.9" cy="491.4" r="5.5" fill="#680078" stroke="#000" stroke-width="1.1"/>
<circle cx="1490.8" cy="489.3" r="1.4" fill="#f0b8f0"/>
<circle cx="1495.7" cy="474.3" r="5.5" fill="#680078" stroke="#000" stroke-width="1.1"/>
<circle cx="1493.6" cy="472.2" r="1.4" fill="#f0b8f0"/>
<circle cx="1495.7" cy="474.3" r="5.5" fill="#680078" stroke="#000" stroke-width="1.1"/>
<circle cx="1493.6" cy="472.2" r="1.4" fill="#f0b8f0"/>
<circle cx="1498.3" cy="471.4" r="5.5" fill="#680078" stroke="#000" stroke-width="1.1"/>
<circle cx="1496.3" cy="469.3" r="1.4" fill="#f0b8f0"/>
<circle cx="1501.1" cy="468.3" r="5.5" fill="#680078" stroke="#000" stroke-width="1.1"/>
<circle cx="1499.0" cy="466.2" r="1.4" fill="#f0b8f0"/>
<circle cx="1503.7" cy="465.5" r="5.5" fill="#680078" stroke="#000" stroke-width="1.1"/>
<circle cx="1501.6" cy="463.4" r="1.4" fill="#f0b8f0"/>
<circle cx="1506.5" cy="462.6" r="5.5" fill="#680078" stroke="#000" stroke-width="1.1"/>
<circle cx="1504.4" cy="460.5" r="1.4" fill="#f0b8f0"/>
<circle cx="1509.4" cy="459.8" r="5.5" fill="#680078" stroke="#000" stroke-width="1.1"/>
<circle cx="1507.3" cy="457.7" r="1.4" fill="#f0b8f0"/>
<circle cx="1512.3" cy="457.4" r="5.5" fill="#680078" stroke="#000" stroke-width="1.1"/>
<circle cx="1510.2" cy="455.3" r="1.4" fill="#f0b8f0"/>
<circle cx="1515.1" cy="455.5" r="5.5" fill="#680078" stroke="#000" stroke-width="1.1"/>
<circle cx="1513.0" cy="453.4" r="1.4" fill="#f0b8f0"/>
<circle cx="1518.1" cy="453.9" r="5.5" fill="#680078" stroke="#000" stroke-width="1.1"/>
<circle cx="1516.0" cy="451.8" r="1.4" fill="#f0b8f0"/>
<circle cx="1521.2" cy="452.4" r="5.5" fill="#680078" stroke="#000" stroke-width="1.1"/>
<circle cx="1519.2" cy="450.3" r="1.4" fill="#f0b8f0"/>
<circle cx="1523.8" cy="451.3" r="5.5" fill="#680078" stroke="#000" stroke-width="1.1"/>
<circle cx="1521.7" cy="449.2" r="1.4" fill="#f0b8f0"/>
<circle cx="1526.4" cy="450.2" r="5.5" fill="#680078" stroke="#000" stroke-width="1.1"/>
<circle cx="1524.3" cy="448.1" r="1.4" fill="#f0b8f0"/>
<circle cx="1529.0" cy="449.1" r="5.5" fill="#680078" stroke="#000" stroke-width="1.1"/>
<circle cx="1526.9" cy="447.0" r="1.4" fill="#f0b8f0"/>
<circle cx="1531.5" cy="447.9" r="5.5" fill="#680078" stroke="#000" stroke-width="1.1"/>
<circle cx="1529.4" cy="445.8" r="1.4" fill="#f0b8f0"/>
<circle cx="1534.5" cy="446.4" r="5.5" fill="#680078" stroke="#000" stroke-width="1.1"/>
<circle cx="1532.4" cy="444.3" r="1.4" fill="#f0b8f0"/>
<circle cx="1537.5" cy="444.6" r="5.5" fill="#680078" stroke="#000" stroke-width="1.1"/>
<circle cx="1535.4" cy="442.5" r="1.4" fill="#f0b8f0"/>
<circle cx="1540.3" cy="442.6" r="5.5" fill="#680078" stroke="#000" stroke-width="1.1"/>
<circle cx="1538.2" cy="440.5" r="1.4" fill="#f0b8f0"/>
<circle cx="1543.1" cy="440.5" r="5.5" fill="#680078" stroke="#000" stroke-width="1.1"/>
<circle cx="1541.0" cy="438.4" r="1.4" fill="#f0b8f0"/>
<circle cx="1545.9" cy="438.4" r="5.5" fill="#680078" stroke="#000" stroke-width="1.1"/>
<circle cx="1543.8" cy="436.3" r="1.4" fill="#f0b8f0"/>
<circle cx="1548.6" cy="436.3" r="5.5" fill="#680078" stroke="#000" stroke-width="1.1"/>
<circle cx="1546.5" cy="434.2" r="1.4" fill="#f0b8f0"/>
<circle cx="1551.3" cy="434.2" r="5.5" fill="#680078" stroke="#000" stroke-width="1.1"/>
<circle cx="1549.2" cy="432.2" r="1.4" fill="#f0b8f0"/>
<circle cx="1554.0" cy="432.4" r="5.5" fill="#680078" stroke="#000" stroke-width="1.1"/>
<circle cx="1552.0" cy="430.3" r="1.4" fill="#f0b8f0"/>
<circle cx="1557.0" cy="430.7" r="5.5" fill="#680078" stroke="#000" stroke-width="1.1"/>
<circle cx="1554.9" cy="428.6" r="1.4" fill="#f0b8f0"/>
<circle cx="1559.6" cy="429.4" r="5.5" fill="#680078" stroke="#000" stroke-width="1.1"/>
<circle cx="1557.6" cy="427.3" r="1.4" fill="#f0b8f0"/>
<circle cx="1562.4" cy="428.1" r="5.5" fill="#680078" stroke="#000" stroke-width="1.1"/>
<circle cx="1560.3" cy="426.0" r="1.4" fill="#f0b8f0"/>
<circle cx="1565.2" cy="427.0" r="5.5" fill="#680078" stroke="#000" stroke-width="1.1"/>
<circle cx="1563.1" cy="424.9" r="1.4" fill="#f0b8f0"/>
<circle cx="1567.9" cy="425.9" r="5.5" fill="#680078" stroke="#000" stroke-width="1.1"/>
<circle cx="1565.8" cy="423.8" r="1.4" fill="#f0b8f0"/>
<circle cx="1570.5" cy="424.9" r="5.5" fill="#680078" stroke="#000" stroke-width="1.1"/>
<circle cx="1568.4" cy="422.9" r="1.4" fill="#f0b8f0"/>
<circle cx="1573.3" cy="423.9" r="5.5" fill="#680078" stroke="#000" stroke-width="1.1"/>
<circle cx="1571.2" cy="421.8" r="1.4" fill="#f0b8f0"/>
<circle cx="1576.5" cy="422.6" r="5.5" fill="#680078" stroke="#000" stroke-width="1.1"/>
<circle cx="1574.4" cy="420.5" r="1.4" fill="#f0b8f0"/>
<circle cx="1579.3" cy="421.3" r="5.5" fill="#680078" stroke="#000" stroke-width="1.1"/>
<circle cx="1577.3" cy="419.2" r="1.4" fill="#f0b8f0"/>
<circle cx="1582.0" cy="420.0" r="5.5" fill="#680078" stroke="#000" stroke-width="1.1"/>
<circle cx="1579.9" cy="417.9" r="1.4" fill="#f0b8f0"/>
<circle cx="1582.0" cy="420.0" r="5.5" fill="#680078" stroke="#000" stroke-width="1.1"/>
<circle cx="1579.9" cy="417.9" r="1.4" fill="#f0b8f0"/>
<circle cx="1586.0" cy="300.0" r="5.5" fill="#680078" stroke="#000" stroke-width="1.1"/>
<circle cx="1583.9" cy="297.9" r="1.4" fill="#f0b8f0"/>
<circle cx="1588.6" cy="288.6" r="5.5" fill="#680078" stroke="#000" stroke-width="1.1"/>
<circle cx="1586.5" cy="286.5" r="1.4" fill="#f0b8f0"/>
<circle cx="1592.0" cy="345.7" r="5.5" fill="#680078" stroke="#000" stroke-width="1.1"/>
<circle cx="1589.9" cy="343.6" r="1.4" fill="#f0b8f0"/>
<circle cx="1594.0" cy="302.9" r="5.5" fill="#680078" stroke="#000" stroke-width="1.1"/>
<circle cx="1591.9" cy="300.8" r="1.4" fill="#f0b8f0"/>
<circle cx="1597.0" cy="346.0" r="5.5" fill="#680078" stroke="#000" stroke-width="1.1"/>
<circle cx="1594.9" cy="343.9" r="1.4" fill="#f0b8f0"/>
<circle cx="1598.9" cy="341.9" r="5.5" fill="#680078" stroke="#000" stroke-width="1.1"/>
<circle cx="1596.8" cy="339.8" r="1.4" fill="#f0b8f0"/>
<circle cx="1600.8" cy="337.7" r="5.5" fill="#680078" stroke="#000" stroke-width="1.1"/>
<circle cx="1598.7" cy="335.6" r="1.4" fill="#f0b8f0"/>
<circle cx="1602.6" cy="333.8" r="5.5" fill="#680078" stroke="#000" stroke-width="1.1"/>
<circle cx="1600.5" cy="331.7" r="1.4" fill="#f0b8f0"/>
<circle cx="1604.5" cy="329.6" r="5.5" fill="#680078" stroke="#000" stroke-width="1.1"/>
<circle cx="1602.4" cy="327.5" r="1.4" fill="#f0b8f0"/>
<circle cx="1606.2" cy="325.9" r="5.5" fill="#680078" stroke="#000" stroke-width="1.1"/>
<circle cx="1604.1" cy="323.8" r="1.4" fill="#f0b8f0"/>
<circle cx="1607.8" cy="322.2" r="5.5" fill="#680078" stroke="#000" stroke-width="1.1"/>
<circle cx="1605.7" cy="320.1" r="1.4" fill="#f0b8f0"/>
<circle cx="1609.4" cy="318.4" r="5.5" fill="#680078" stroke="#000" stroke-width="1.1"/>
<circle cx="1607.3" cy="316.3" r="1.4" fill="#f0b8f0"/>
<circle cx="1610.9" cy="314.5" r="5.5" fill="#680078" stroke="#000" stroke-width="1.1"/>
<circle cx="1608.9" cy="312.5" r="1.4" fill="#f0b8f0"/>
<circle cx="1612.6" cy="310.7" r="5.5" fill="#680078" stroke="#000" stroke-width="1.1"/>
<circle cx="1610.5" cy="308.6" r="1.4" fill="#f0b8f0"/>
<circle cx="1614.4" cy="306.3" r="5.5" fill="#680078" stroke="#000" stroke-width="1.1"/>
<circle cx="1612.3" cy="304.2" r="1.4" fill="#f0b8f0"/>
<circle cx="1616.0" cy="302.3" r="5.5" fill="#680078" stroke="#000" stroke-width="1.1"/>
<circle cx="1614.0" cy="300.2" r="1.4" fill="#f0b8f0"/>
<circle cx="1617.0" cy="241.0" r="5.5" fill="#680078" stroke="#000" stroke-width="1.1"/>
<circle cx="1614.9" cy="238.9" r="1.4" fill="#f0b8f0"/>
<circle cx="1621.4" cy="250.0" r="5.5" fill="#680078" stroke="#000" stroke-width="1.1"/>
<circle cx="1619.3" cy="247.9" r="1.4" fill="#f0b8f0"/>
<circle cx="1624.0" cy="400.0" r="5.5" fill="#680078" stroke="#000" stroke-width="1.1"/>
<circle cx="1621.9" cy="397.9" r="1.4" fill="#f0b8f0"/>
<circle cx="1628.6" cy="300.0" r="5.5" fill="#680078" stroke="#000" stroke-width="1.1"/>
<circle cx="1626.5" cy="297.9" r="1.4" fill="#f0b8f0"/>
<circle cx="1629.6" cy="411.0" r="5.5" fill="#680078" stroke="#000" stroke-width="1.1"/>
<circle cx="1627.5" cy="408.9" r="1.4" fill="#f0b8f0"/>
<circle cx="1632.0" cy="453.5" r="5.5" fill="#680078" stroke="#000" stroke-width="1.1"/>
<circle cx="1629.9" cy="451.4" r="1.4" fill="#f0b8f0"/>
<circle cx="1635.1" cy="450.2" r="5.5" fill="#680078" stroke="#000" stroke-width="1.1"/>
<circle cx="1633.0" cy="448.1" r="1.4" fill="#f0b8f0"/>
<circle cx="1638.9" cy="378.4" r="5.5" fill="#680078" stroke="#000" stroke-width="1.1"/>
<circle cx="1636.9" cy="376.4" r="1.4" fill="#f0b8f0"/>
<circle cx="1639.0" cy="472.0" r="5.5" fill="#680078" stroke="#000" stroke-width="1.1"/>
<circle cx="1636.9" cy="469.9" r="1.4" fill="#f0b8f0"/>
<circle cx="1642.6" cy="473.3" r="5.5" fill="#680078" stroke="#000" stroke-width="1.1"/>
<circle cx="1640.5" cy="471.2" r="1.4" fill="#f0b8f0"/>
<circle cx="1646.5" cy="382.7" r="5.5" fill="#680078" stroke="#000" stroke-width="1.1"/>
<circle cx="1644.5" cy="380.6" r="1.4" fill="#f0b8f0"/>
<circle cx="1649.1" cy="442.9" r="5.5" fill="#680078" stroke="#000" stroke-width="1.1"/>
<circle cx="1647.0" cy="440.8" r="1.4" fill="#f0b8f0"/>
<circle cx="1651.1" cy="456.7" r="5.5" fill="#680078" stroke="#000" stroke-width="1.1"/>
<circle cx="1649.0" cy="454.6" r="1.4" fill="#f0b8f0"/>
<circle cx="1654.3" cy="505.3" r="5.5" fill="#680078" stroke="#000" stroke-width="1.1"/>
<circle cx="1652.2" cy="503.2" r="1.4" fill="#f0b8f0"/>
<circle cx="1658.4" cy="465.2" r="5.5" fill="#680078" stroke="#000" stroke-width="1.1"/>
<circle cx="1656.3" cy="463.1" r="1.4" fill="#f0b8f0"/>
<circle cx="1660.0" cy="486.5" r="5.5" fill="#680078" stroke="#000" stroke-width="1.1"/>
<circle cx="1657.9" cy="484.4" r="1.4" fill="#f0b8f0"/>
<circle cx="1660.3" cy="509.4" r="5.5" fill="#680078" stroke="#000" stroke-width="1.1"/>
<circle cx="1658.2" cy="507.3" r="1.4" fill="#f0b8f0"/>
<circle cx="1665.9" cy="488.9" r="5.5" fill="#680078" stroke="#000" stroke-width="1.1"/>
<circle cx="1663.8" cy="486.8" r="1.4" fill="#f0b8f0"/>
<circle cx="1670.4" cy="493.5" r="5.5" fill="#680078" stroke="#000" stroke-width="1.1"/>
<circle cx="1668.3" cy="491.4" r="1.4" fill="#f0b8f0"/>
<circle cx="1671.0" cy="502.7" r="5.5" fill="#680078" stroke="#000" stroke-width="1.1"/>
<circle cx="1668.9" cy="500.6" r="1.4" fill="#f0b8f0"/>
<circle cx="1675.0" cy="499.3" r="5.5" fill="#680078" stroke="#000" stroke-width="1.1"/>
<circle cx="1672.9" cy="497.2" r="1.4" fill="#f0b8f0"/>
<circle cx="1676.3" cy="501.8" r="5.5" fill="#680078" stroke="#000" stroke-width="1.1"/>
<circle cx="1674.2" cy="499.8" r="1.4" fill="#f0b8f0"/>
<circle cx="1677.8" cy="495.2" r="5.5" fill="#680078" stroke="#000" stroke-width="1.1"/>
<circle cx="1675.7" cy="493.1" r="1.4" fill="#f0b8f0"/>
<circle cx="1700.0" cy="507.8" r="5.5" fill="#680078" stroke="#000" stroke-width="1.1"/>
<circle cx="1697.9" cy="505.7" r="1.4" fill="#f0b8f0"/>
<circle cx="1702.3" cy="502.8" r="5.5" fill="#680078" stroke="#000" stroke-width="1.1"/>
<circle cx="1700.2" cy="500.7" r="1.4" fill="#f0b8f0"/>
<circle cx="1705.0" cy="514.8" r="5.5" fill="#680078" stroke="#000" stroke-width="1.1"/>
<circle cx="1702.9" cy="512.7" r="1.4" fill="#f0b8f0"/>
<circle cx="1708.5" cy="521.5" r="5.5" fill="#680078" stroke="#000" stroke-width="1.1"/>
<circle cx="1706.4" cy="519.4" r="1.4" fill="#f0b8f0"/>
<circle cx="1710.9" cy="514.5" r="5.5" fill="#680078" stroke="#000" stroke-width="1.1"/>
<circle cx="1708.8" cy="512.4" r="1.4" fill="#f0b8f0"/>
<circle cx="1713.2" cy="512.8" r="5.5" fill="#680078" stroke="#000" stroke-width="1.1"/>
<circle cx="1711.1" cy="510.7" r="1.4" fill="#f0b8f0"/>
<circle cx="1716.4" cy="512.2" r="5.5" fill="#680078" stroke="#000" stroke-width="1.1"/>
<circle cx="1714.3" cy="510.1" r="1.4" fill="#f0b8f0"/>
<circle cx="1719.0" cy="527.3" r="5.5" fill="#680078" stroke="#000" stroke-width="1.1"/>
<circle cx="1716.9" cy="525.3" r="1.4" fill="#f0b8f0"/>
<circle cx="1722.3" cy="522.1" r="5.5" fill="#680078" stroke="#000" stroke-width="1.1"/>
<circle cx="1720.2" cy="520.0" r="1.4" fill="#f0b8f0"/>
<circle cx="1725.7" cy="537.3" r="5.5" fill="#680078" stroke="#000" stroke-width="1.1"/>
<circle cx="1723.6" cy="535.2" r="1.4" fill="#f0b8f0"/>
<circle cx="1727.9" cy="539.5" r="5.5" fill="#680078" stroke="#000" stroke-width="1.1"/>
<circle cx="1725.9" cy="537.4" r="1.4" fill="#f0b8f0"/>
<circle cx="1731.5" cy="533.9" r="5.5" fill="#680078" stroke="#000" stroke-width="1.1"/>
<circle cx="1729.4" cy="531.8" r="1.4" fill="#f0b8f0"/>
<circle cx="1734.1" cy="548.8" r="5.5" fill="#680078" stroke="#000" stroke-width="1.1"/>
<circle cx="1732.0" cy="546.7" r="1.4" fill="#f0b8f0"/>
<circle cx="1736.9" cy="534.4" r="5.5" fill="#680078" stroke="#000" stroke-width="1.1"/>
<circle cx="1734.9" cy="532.3" r="1.4" fill="#f0b8f0"/>
<circle cx="1739.4" cy="552.0" r="5.5" fill="#680078" stroke="#000" stroke-width="1.1"/>
<circle cx="1737.3" cy="549.9" r="1.4" fill="#f0b8f0"/>
<circle cx="1742.8" cy="554.6" r="5.5" fill="#680078" stroke="#000" stroke-width="1.1"/>
<circle cx="1740.7" cy="552.5" r="1.4" fill="#f0b8f0"/>
<circle cx="1746.4" cy="552.9" r="5.5" fill="#680078" stroke="#000" stroke-width="1.1"/>
<circle cx="1744.3" cy="550.8" r="1.4" fill="#f0b8f0"/>
<circle cx="1750.5" cy="553.9" r="5.5" fill="#680078" stroke="#000" stroke-width="1.1"/>
<circle cx="1748.4" cy="551.8" r="1.4" fill="#f0b8f0"/>
<circle cx="1753.8" cy="566.3" r="5.5" fill="#680078" stroke="#000" stroke-width="1.1"/>
<circle cx="1751.7" cy="564.2" r="1.4" fill="#f0b8f0"/>
<circle cx="1757.2" cy="570.4" r="5.5" fill="#680078" stroke="#000" stroke-width="1.1"/>
<circle cx="1755.2" cy="568.3" r="1.4" fill="#f0b8f0"/>
<circle cx="1760.0" cy="459.4" r="5.5" fill="#680078" stroke="#000" stroke-width="1.1"/>
<circle cx="1757.9" cy="457.3" r="1.4" fill="#f0b8f0"/>
<circle cx="1761.4" cy="383.0" r="5.5" fill="#680078" stroke="#000" stroke-width="1.1"/>
<circle cx="1759.3" cy="380.9" r="1.4" fill="#f0b8f0"/>
<circle cx="1761.7" cy="495.4" r="5.5" fill="#680078" stroke="#000" stroke-width="1.1"/>
<circle cx="1759.6" cy="493.3" r="1.4" fill="#f0b8f0"/>
<circle cx="1763.0" cy="400.0" r="5.5" fill="#680078" stroke="#000" stroke-width="1.1"/>
<circle cx="1760.9" cy="397.9" r="1.4" fill="#f0b8f0"/>
<circle cx="1764.1" cy="457.5" r="5.5" fill="#680078" stroke="#000" stroke-width="1.1"/>
<circle cx="1762.0" cy="455.4" r="1.4" fill="#f0b8f0"/>
<circle cx="1766.2" cy="458.6" r="5.5" fill="#680078" stroke="#000" stroke-width="1.1"/>
<circle cx="1764.1" cy="456.5" r="1.4" fill="#f0b8f0"/>
<circle cx="1767.0" cy="437.0" r="5.5" fill="#680078" stroke="#000" stroke-width="1.1"/>
<circle cx="1764.9" cy="434.9" r="1.4" fill="#f0b8f0"/>
<circle cx="1767.7" cy="405.5" r="5.5" fill="#680078" stroke="#000" stroke-width="1.1"/>
<circle cx="1765.6" cy="403.4" r="1.4" fill="#f0b8f0"/>
<circle cx="1769.0" cy="451.1" r="5.5" fill="#680078" stroke="#000" stroke-width="1.1"/>
<circle cx="1766.9" cy="449.0" r="1.4" fill="#f0b8f0"/>
<circle cx="1771.3" cy="345.5" r="5.5" fill="#680078" stroke="#000" stroke-width="1.1"/>
<circle cx="1769.2" cy="343.4" r="1.4" fill="#f0b8f0"/>
<circle cx="1771.4" cy="387.0" r="5.5" fill="#680078" stroke="#000" stroke-width="1.1"/>
<circle cx="1769.3" cy="384.9" r="1.4" fill="#f0b8f0"/>
<circle cx="1772.8" cy="460.4" r="5.5" fill="#680078" stroke="#000" stroke-width="1.1"/>
<circle cx="1770.7" cy="458.3" r="1.4" fill="#f0b8f0"/>
<circle cx="1774.3" cy="328.3" r="5.5" fill="#680078" stroke="#000" stroke-width="1.1"/>
<circle cx="1772.2" cy="326.2" r="1.4" fill="#f0b8f0"/>
<circle cx="1776.7" cy="510.1" r="5.5" fill="#680078" stroke="#000" stroke-width="1.1"/>
<circle cx="1774.6" cy="508.0" r="1.4" fill="#f0b8f0"/>
<circle cx="1778.4" cy="339.3" r="5.5" fill="#680078" stroke="#000" stroke-width="1.1"/>
<circle cx="1776.3" cy="337.2" r="1.4" fill="#f0b8f0"/>
<circle cx="1778.6" cy="354.3" r="5.5" fill="#680078" stroke="#000" stroke-width="1.1"/>
<circle cx="1776.5" cy="352.2" r="1.4" fill="#f0b8f0"/>
<circle cx="1780.0" cy="297.0" r="5.5" fill="#680078" stroke="#000" stroke-width="1.1"/>
<circle cx="1777.9" cy="294.9" r="1.4" fill="#f0b8f0"/>
<circle cx="1780.1" cy="516.4" r="5.5" fill="#680078" stroke="#000" stroke-width="1.1"/>
<circle cx="1778.0" cy="514.3" r="1.4" fill="#f0b8f0"/>
<circle cx="1781.7" cy="362.8" r="5.5" fill="#680078" stroke="#000" stroke-width="1.1"/>
<circle cx="1779.6" cy="360.8" r="1.4" fill="#f0b8f0"/>
<circle cx="1783.1" cy="443.8" r="5.5" fill="#680078" stroke="#000" stroke-width="1.1"/>
<circle cx="1781.0" cy="441.7" r="1.4" fill="#f0b8f0"/>
<circle cx="1785.4" cy="350.5" r="5.5" fill="#680078" stroke="#000" stroke-width="1.1"/>
<circle cx="1783.3" cy="348.4" r="1.4" fill="#f0b8f0"/>
<circle cx="1786.8" cy="456.9" r="5.5" fill="#680078" stroke="#000" stroke-width="1.1"/>
<circle cx="1784.7" cy="454.8" r="1.4" fill="#f0b8f0"/>
<circle cx="1787.0" cy="334.3" r="5.5" fill="#680078" stroke="#000" stroke-width="1.1"/>
<circle cx="1784.9" cy="332.2" r="1.4" fill="#f0b8f0"/>
<circle cx="1787.9" cy="524.0" r="5.5" fill="#680078" stroke="#000" stroke-width="1.1"/>
<circle cx="1785.8" cy="521.9" r="1.4" fill="#f0b8f0"/>
<circle cx="1788.6" cy="497.0" r="5.5" fill="#680078" stroke="#000" stroke-width="1.1"/>
<circle cx="1786.5" cy="494.9" r="1.4" fill="#f0b8f0"/>
<circle cx="1789.2" cy="454.1" r="5.5" fill="#680078" stroke="#000" stroke-width="1.1"/>
<circle cx="1787.1" cy="452.0" r="1.4" fill="#f0b8f0"/>
<circle cx="1791.2" cy="301.3" r="5.5" fill="#680078" stroke="#000" stroke-width="1.1"/>
<circle cx="1789.1" cy="299.2" r="1.4" fill="#f0b8f0"/>
<circle cx="1791.4" cy="531.4" r="5.5" fill="#680078" stroke="#000" stroke-width="1.1"/>
<circle cx="1789.3" cy="529.3" r="1.4" fill="#f0b8f0"/>
<circle cx="1792.6" cy="478.3" r="5.5" fill="#680078" stroke="#000" stroke-width="1.1"/>
<circle cx="1790.5" cy="476.2" r="1.4" fill="#f0b8f0"/>
<circle cx="1792.9" cy="312.9" r="5.5" fill="#680078" stroke="#000" stroke-width="1.1"/>
<circle cx="1790.8" cy="310.8" r="1.4" fill="#f0b8f0"/>
<circle cx="1794.2" cy="517.6" r="5.5" fill="#680078" stroke="#000" stroke-width="1.1"/>
<circle cx="1792.1" cy="515.5" r="1.4" fill="#f0b8f0"/>
<circle cx="1794.3" cy="511.4" r="5.5" fill="#680078" stroke="#000" stroke-width="1.1"/>
<circle cx="1792.2" cy="509.3" r="1.4" fill="#f0b8f0"/>
<circle cx="1796.5" cy="529.1" r="5.5" fill="#680078" stroke="#000" stroke-width="1.1"/>
<circle cx="1794.4" cy="527.0" r="1.4" fill="#f0b8f0"/>
<circle cx="1797.0" cy="394.0" r="5.5" fill="#680078" stroke="#000" stroke-width="1.1"/>
<circle cx="1794.9" cy="391.9" r="1.4" fill="#f0b8f0"/>
<circle cx="1798.6" cy="354.3" r="5.5" fill="#680078" stroke="#000" stroke-width="1.1"/>
<circle cx="1796.5" cy="352.2" r="1.4" fill="#f0b8f0"/>
<circle cx="1798.7" cy="369.3" r="5.5" fill="#680078" stroke="#000" stroke-width="1.1"/>
<circle cx="1796.6" cy="367.2" r="1.4" fill="#f0b8f0"/>
<circle cx="1800.0" cy="531.4" r="5.5" fill="#680078" stroke="#000" stroke-width="1.1"/>
<circle cx="1797.9" cy="529.3" r="1.4" fill="#f0b8f0"/>
<circle cx="1800.2" cy="511.9" r="5.5" fill="#680078" stroke="#000" stroke-width="1.1"/>
<circle cx="1798.1" cy="509.8" r="1.4" fill="#f0b8f0"/>
<circle cx="1801.4" cy="403.0" r="5.5" fill="#680078" stroke="#000" stroke-width="1.1"/>
<circle cx="1799.3" cy="400.9" r="1.4" fill="#f0b8f0"/>
<circle cx="1802.4" cy="408.0" r="5.5" fill="#680078" stroke="#000" stroke-width="1.1"/>
<circle cx="1800.3" cy="405.9" r="1.4" fill="#f0b8f0"/>
<circle cx="1802.9" cy="258.6" r="5.5" fill="#680078" stroke="#000" stroke-width="1.1"/>
<circle cx="1800.8" cy="256.5" r="1.4" fill="#f0b8f0"/>
<circle cx="1802.9" cy="301.4" r="5.5" fill="#680078" stroke="#000" stroke-width="1.1"/>
<circle cx="1800.8" cy="299.3" r="1.4" fill="#f0b8f0"/>
<circle cx="1804.2" cy="458.9" r="5.5" fill="#680078" stroke="#000" stroke-width="1.1"/>
<circle cx="1802.1" cy="456.9" r="1.4" fill="#f0b8f0"/>
<circle cx="1806.0" cy="418.0" r="5.5" fill="#680078" stroke="#000" stroke-width="1.1"/>
<circle cx="1803.9" cy="415.9" r="1.4" fill="#f0b8f0"/>
<circle cx="1807.7" cy="411.5" r="5.5" fill="#680078" stroke="#000" stroke-width="1.1"/>
<circle cx="1805.6" cy="409.5" r="1.4" fill="#f0b8f0"/>
<circle cx="1809.1" cy="328.7" r="5.5" fill="#680078" stroke="#000" stroke-width="1.1"/>
<circle cx="1807.1" cy="326.6" r="1.4" fill="#f0b8f0"/>
<polyline fill="none" stroke="#000" stroke-width="1.3" stroke-linejoin="round" points="1096.0,330.0 1099.4,371.6 1101.8,381.0 1104.2,408.4 1106.5,417.5 1108.9,437.6 1112.0,458.1 1115.0,470.0 1118.0,495.7 1121.0,500.0 1123.2,522.6 1125.4,522.6 1127.8,503.7 1130.2,449.8 1132.5,418.8 1134.8,396.1 1137.0,360.0 1139.5,350.1 1141.9,329.0 1144.3,335.1 1146.6,310.4 1149.0,317.3 1152.0,319.6 1155.0,300.0 1157.9,321.6 1160.8,338.5 1164.3,324.3 1168.6,255.7 1170.0,257.0 1176.0,300.0 1181.4,262.9 1184.0,288.6 1188.6,280.0 1192.9,285.7 1195.7,342.9 1204.0,360.0 1213.0,386.0 1228.0,395.0 1244.3,397.0 1244.3,397.0 1246.9,394.1 1249.5,391.2 1252.0,388.0 1254.5,384.1 1256.7,380.4 1258.9,376.7 1261.2,373.2 1263.6,369.8 1266.0,366.6 1268.4,363.4 1271.4,359.7 1274.1,356.3 1275.7,354.3 1278.6,374.3 1284.0,372.0 1290.0,380.0 1297.0,442.9 1304.3,515.7 1310.0,574.3 1315.7,541.4 1321.4,428.6 1327.0,362.9 1333.0,311.4 1334.3,311.4 1340.0,251.4 1341.4,228.6 1345.7,191.4 1351.4,151.4 1357.0,141.4 1362.0,144.0 1368.6,147.0 1377.0,148.6 1385.7,137.0 1391.4,130.0 1391.4,130.0 1393.7,126.3 1396.2,122.4 1398.2,118.8 1400.0,115.1 1402.0,111.3 1404.3,108.0 1407.1,104.9 1409.7,102.6 1412.4,100.6 1415.4,99.3 1418.0,98.7 1420.8,98.4 1423.7,98.4 1426.6,98.5 1429.4,98.5 1432.1,98.6 1434.8,98.7 1437.6,98.9 1440.2,99.2 1443.4,99.6 1446.2,100.2 1448.8,100.8 1451.3,101.6 1454.4,102.7 1457.0,103.6 1460.1,104.8 1463.0,106.9 1465.4,110.5 1467.2,114.4 1468.8,118.4 1470.9,122.7 1473.0,126.3 1475.6,130.2 1477.9,133.6 1480.2,137.0 1482.7,140.4 1485.3,143.5 1488.3,146.4 1491.1,148.5 1493.7,150.5 1496.6,152.9 1499.2,155.1 1502.0,157.6 1501.4,158.6 1505.7,174.3 1511.4,208.6 1518.6,284.3 1521.4,384.3 1524.3,460.0 1530.0,605.7 1535.7,484.3 1541.4,387.0 1544.3,397.0 1548.6,410.0 1553.0,390.0 1558.6,351.4 1564.0,365.0 1570.0,374.3 1576.0,400.0 1582.0,430.0 1587.0,450.0 1587.0,452.0 1588.9,453.5 1590.7,448.9 1592.6,447.4 1594.4,451.2 1596.3,444.6 1598.1,446.7 1600.0,446.0 1602.0,445.2 1604.0,444.4 1606.0,439.4 1608.0,442.0 1610.0,439.8 1612.0,441.3 1614.0,433.5 1616.0,436.0 1618.0,438.9 1620.0,431.9 1622.0,436.3 1624.0,433.1 1626.0,434.9 1628.0,429.0 1630.0,429.3 1632.0,430.0 1634.0,425.9 1636.0,430.7 1638.0,428.0 1640.0,424.6 1642.0,423.8 1644.0,422.1 1646.0,422.4 1648.0,424.0 1650.0,423.5 1652.0,421.5 1654.0,422.6 1656.0,420.0 1658.0,430.4 1660.7,475.2 1661.4,320.0 1664.1,369.2 1665.7,294.3 1666.9,472.3 1667.0,301.4 1668.4,443.5 1670.7,395.4 1673.6,415.4 1676.2,410.5 1678.9,370.3 1680.8,417.4 1681.4,307.0 1682.9,430.4 1685.5,400.7 1688.7,338.8 1691.1,400.0 1694.4,320.4 1697.0,290.0 1697.5,423.7 1699.4,318.0 1702.0,464.3 1704.0,511.4 1705.4,495.0 1708.0,467.0 1709.7,449.4 1711.9,480.9 1712.0,320.0 1713.4,477.0 1716.0,521.6 1717.5,440.3 1719.5,474.7 1720.9,469.7 1723.1,497.3 1725.9,484.2 1726.0,335.0 1727.8,479.0 1730.4,440.7 1731.6,515.7 1733.6,443.1 1735.6,478.2 1737.7,516.2 1740.2,525.5 1742.6,512.0 1743.9,506.8 1744.3,477.0 1746.5,471.3 1749.3,510.2 1750.0,500.0 1750.6,494.4 1752.9,501.3 1754.7,418.6 1755.7,447.0 1757.2,493.1 1759.6,431.9 1761.4,499.0 1762.8,487.7 1764.2,487.3 1766.4,477.4 1767.0,520.0 1768.9,498.8 1772.0,532.8 1775.3,538.3 1778.3,518.7 1781.9,502.0 1785.2,467.5 1785.7,480.0 1788.3,524.4 1790.8,440.8 1793.7,506.5 1798.0,510.6 1800.5,517.7 1802.9,445.7 1802.9,464.0 1806.4,492.6 1808.5,522.4 1808.6,528.6 1811.3,511.3 1813.2,469.8 1817.0,495.7 1817.5,517.9 1819.5,525.0 1823.9,497.6 1827.2,451.3 1830.2,525.9 1831.4,542.9 1834.0,358.4 1834.3,442.9 1835.4,444.4 1837.0,425.7 1837.4,303.1 1839.1,529.2 1840.4,421.0 1842.5,432.5 1842.9,334.3 1844.6,431.4 1845.7,345.7 1845.7,436.0 1847.8,373.6 1848.6,288.6 1849.1,473.9 1850.8,432.8 1851.4,251.4 1852.9,494.4 1854.1,307.9 1855.6,411.3 1857.0,294.3 1857.4,282.5 1858.5,466.9 1860.5,462.8 1862.2,410.9 1862.9,304.3 1863.4,472.6 1865.1,419.6 1867.0,442.7 1868.7,404.3 1870.0,350.0 1870.2,390.7 1871.3,514.6 1872.5,533.1 1872.9,378.6 1873.7,461.8 1874.3,268.6 1874.3,301.4 1875.7,487.7 1877.8,432.1 1879.2,455.3 1880.5,484.8"/>
<path d="M1096.0 335.0L1101.0 326.0L1091.0 326.0Z" fill="#ff7f10"/>
<path d="M1099.4 376.6L1104.4 367.6L1094.4 367.6Z" fill="#ff7f10"/>
<path d="M1101.8 386.0L1106.8 377.0L1096.8 377.0Z" fill="#ff7f10"/>
<path d="M1104.2 413.4L1109.2 404.4L1099.2 404.4Z" fill="#ff7f10"/>
<path d="M1106.5 422.5L1111.5 413.5L1101.5 413.5Z" fill="#ff7f10"/>
<path d="M1108.9 442.6L1113.9 433.6L1103.9 433.6Z" fill="#ff7f10"/>
<path d="M1112.0 463.1L1117.0 454.1L1107.0 454.1Z" fill="#ff7f10"/>
<path d="M1115.0 475.0L1120.0 466.0L1110.0 466.0Z" fill="#ff7f10"/>
<path d="M1118.0 500.7L1123.0 491.7L1113.0 491.7Z" fill="#ff7f10"/>
<path d="M1121.0 505.0L1126.0 496.0L1116.0 496.0Z" fill="#ff7f10"/>
<path d="M1123.2 527.6L1128.2 518.6L1118.2 518.6Z" fill="#ff7f10"/>
<path d="M1125.4 527.6L1130.4 518.6L1120.4 518.6Z" fill="#ff7f10"/>
<path d="M1127.8 508.7L1132.8 499.7L1122.8 499.7Z" fill="#ff7f10"/>
<path d="M1130.2 454.8L1135.2 445.8L1125.2 445.8Z" fill="#ff7f10"/>
<path d="M1132.5 423.8L1137.5 414.8L1127.5 414.8Z" fill="#ff7f10"/>
<path d="M1134.8 401.1L1139.8 392.1L1129.8 392.1Z" fill="#ff7f10"/>
<path d="M1137.0 365.0L1142.0 356.0L1132.0 356.0Z" fill="#ff7f10"/>
<path d="M1139.5 355.1L1144.5 346.1L1134.5 346.1Z" fill="#ff7f10"/>
<path d="M1141.9 334.0L1146.9 325.0L1136.9 325.0Z" fill="#ff7f10"/>
<path d="M1144.3 340.1L1149.3 331.1L1139.3 331.1Z" fill="#ff7f10"/>
<path d="M1146.6 315.4L1151.6 306.4L1141.6 306.4Z" fill="#ff7f10"/>
<path d="M1149.0 322.3L1154.0 313.3L1144.0 313.3Z" fill="#ff7f10"/>
<path d="M1152.0 324.6L1157.0 315.6L1147.0 315.6Z" fill="#ff7f10"/>
<path d="M1155.0 305.0L1160.0 296.0L1150.0 296.0Z" fill="#ff7f10"/>
<path d="M1157.9 326.6L1162.9 317.6L1152.9 317.6Z" fill="#ff7f10"/>
<path d="M1160.8 343.5L1165.8 334.5L1155.8 334.5Z" fill="#ff7f10"/>
<path d="M1164.3 329.3L1169.3 320.3L1159.3 320.3Z" fill="#ff7f10"/>
<path d="M1168.6 260.7L1173.6 251.7L1163.6 251.7Z" fill="#ff7f10"/>
<path d="M1170.0 262.0L1175.0 253.0L1165.0 253.0Z" fill="#ff7f10"/>
<path d="M1176.0 305.0L1181.0 296.0L1171.0 296.0Z" fill="#ff7f10"/>
<path d="M1181.4 267.9L1186.4 258.9L1176.4 258.9Z" fill="#ff7f10"/>
<path d="M1184.0 293.6L1189.0 284.6L1179.0 284.6Z" fill="#ff7f10"/>
<path d="M1188.6 285.0L1193.6 276.0L1183.6 276.0Z" fill="#ff7f10"/>
<path d="M1192.9 290.7L1197.9 281.7L1187.9 281.7Z" fill="#ff7f10"/>
<path d="M1195.7 347.9L1200.7 338.9L1190.7 338.9Z" fill="#ff7f10"/>
<path d="M1204.0 365.0L1209.0 356.0L1199.0 356.0Z" fill="#ff7f10"/>
<path d="M1213.0 391.0L1218.0 382.0L1208.0 382.0Z" fill="#ff7f10"/>
<path d="M1228.0 400.0L1233.0 391.0L1223.0 391.0Z" fill="#ff7f10"/>
<path d="M1244.3 402.0L1249.3 393.0L1239.3 393.0Z" fill="#ff7f10"/>
<path d="M1244.3 402.0L1249.3 393.0L1239.3 393.0Z" fill="#ff7f10"/>
<path d="M1246.9 399.1L1251.9 390.1L1241.9 390.1Z" fill="#ff7f10"/>
<path d="M1249.5 396.2L1254.5 387.2L1244.5 387.2Z" fill="#ff7f10"/>
<path d="M1252.0 393.0L1257.0 384.0L1247.0 384.0Z" fill="#ff7f10"/>
<path d="M1254.5 389.1L1259.5 380.1L1249.5 380.1Z" fill="#ff7f10"/>
<path d="M1256.7 385.4L1261.7 376.4L1251.7 376.4Z" fill="#ff7f10"/>
<path d="M1258.9 381.7L1263.9 372.7L1253.9 372.7Z" fill="#ff7f10"/>
<path d="M1261.2 378.2L1266.2 369.2L1256.2 369.2Z" fill="#ff7f10"/>
<path d="M1263.6 374.8L1268.6 365.8L1258.6 365.8Z" fill="#ff7f10"/>
<path d="M1266.0 371.6L1271.0 362.6L1261.0 362.6Z" fill="#ff7f10"/>
<path d="M1268.4 368.4L1273.4 359.4L1263.4 359.4Z" fill="#ff7f10"/>
<path d="M1271.4 364.7L1276.4 355.7L1266.4 355.7Z" fill="#ff7f10"/>
<path d="M1274.1 361.3L1279.1 352.3L1269.1 352.3Z" fill="#ff7f10"/>
<path d="M1275.7 359.3L1280.7 350.3L1270.7 350.3Z" fill="#ff7f10"/>
<path d="M1278.6 379.3L1283.6 370.3L1273.6 370.3Z" fill="#ff7f10"/>
<path d="M1284.0 377.0L1289.0 368.0L1279.0 368.0Z" fill="#ff7f10"/>
<path d="M1290.0 385.0L1295.0 376.0L1285.0 376.0Z" fill="#ff7f10"/>
<path d="M1297.0 447.9L1302.0 438.9L1292.0 438.9Z" fill="#ff7f10"/>
<path d="M1304.3 520.7L1309.3 511.7L1299.3 511.7Z" fill="#ff7f10"/>
<path d="M1310.0 579.3L1315.0 570.3L1305.0 570.3Z" fill="#ff7f10"/>
<path d="M1315.7 546.4L1320.7 537.4L1310.7 537.4Z" fill="#ff7f10"/>
<path d="M1321.4 433.6L1326.4 424.6L1316.4 424.6Z" fill="#ff7f10"/>
<path d="M1327.0 367.9L1332.0 358.9L1322.0 358.9Z" fill="#ff7f10"/>
<path d="M1333.0 316.4L1338.0 307.4L1328.0 307.4Z" fill="#ff7f10"/>
<path d="M1334.3 316.4L1339.3 307.4L1329.3 307.4Z" fill="#ff7f10"/>
<path d="M1340.0 256.4L1345.0 247.4L1335.0 247.4Z" fill="#ff7f10"/>
<path d="M1341.4 233.6L1346.4 224.6L1336.4 224.6Z" fill="#ff7f10"/>
<path d="M1345.7 196.4L1350.7 187.4L1340.7 187.4Z" fill="#ff7f10"/>
<path d="M1351.4 156.4L1356.4 147.4L1346.4 147.4Z" fill="#ff7f10"/>
<path d="M1357.0 146.4L1362.0 137.4L1352.0 137.4Z" fill="#ff7f10"/>
<path d="M1362.0 149.0L1367.0 140.0L1357.0 140.0Z" fill="#ff7f10"/>
<path d="M1368.6 152.0L1373.6 143.0L1363.6 143.0Z" fill="#ff7f10"/>
<path d="M1377.0 153.6L1382.0 144.6L1372.0 144.6Z" fill="#ff7f10"/>
<path d="M1385.7 142.0L1390.7 133.0L1380.7 133.0Z" fill="#ff7f10"/>
<path d="M1391.4 135.0L1396.4 126.0L1386.4 126.0Z" fill="#ff7f10"/>
<path d="M1391.4 135.0L1396.4 126.0L1386.4 126.0Z" fill="#ff7f10"/>
<path d="M1393.7 131.3L1398.7 122.3L1388.7 122.3Z" fill="#ff7f10"/>
<path d="M1396.2 127.4L1401.2 118.4L1391.2 118.4Z" fill="#ff7f10"/>
<path d="M1398.2 123.8L1403.2 114.8L1393.2 114.8Z" fill="#ff7f10"/>
<path d="M1400.0 120.1L1405.0 111.1L1395.0 111.1Z" fill="#ff7f10"/>
<path d="M1402.0 116.3L1407.0 107.3L1397.0 107.3Z" fill="#ff7f10"/>
<path d="M1404.3 113.0L1409.3 104.0L1399.3 104.0Z" fill="#ff7f10"/>
<path d="M1407.1 109.9L1412.1 100.9L1402.1 100.9Z" fill="#ff7f10"/>
<path d="M1409.7 107.6L1414.7 98.6L1404.7 98.6Z" fill="#ff7f10"/>
<path d="M1412.4 105.6L1417.4 96.6L1407.4 96.6Z" fill="#ff7f10"/>
<path d="M1415.4 104.3L1420.4 95.3L1410.4 95.3Z" fill="#ff7f10"/>
<path d="M1418.0 103.7L1423.0 94.7L1413.0 94.7Z" fill="#ff7f10"/>
<path d="M1420.8 103.4L1425.8 94.4L1415.8 94.4Z" fill="#ff7f10"/>
<path d="M1423.7 103.4L1428.7 94.4L1418.7 94.4Z" fill="#ff7f10"/>
<path d="M1426.6 103.5L1431.6 94.5L1421.6 94.5Z" fill="#ff7f10"/>
<path d="M1429.4 103.5L1434.4 94.5L1424.4 94.5Z" fill="#ff7f10"/>
<path d="M1432.1 103.6L1437.1 94.6L1427.1 94.6Z" fill="#ff7f10"/>
<path d="M1434.8 103.7L1439.8 94.7L1429.8 94.7Z" fill="#ff7f10"/>
<path d="M1437.6 103.9L1442.6 94.9L1432.6 94.9Z" fill="#ff7f10"/>
<path d="M1440.2 104.2L1445.2 95.2L1435.2 95.2Z" fill="#ff7f10"/>
<path d="M1443.4 104.6L1448.4 95.6L1438.4 95.6Z" fill="#ff7f10"/>
<path d="M1446.2 105.2L1451.2 96.2L1441.2 96.2Z" fill="#ff7f10"/>
<path d="M1448.8 105.8L1453.8 96.8L1443.8 96.8Z" fill="#ff7f10"/>
<path d="M1451.3 106.6L1456.3 97.6L1446.3 97.6Z" fill="#ff7f10"/>
<path d="M1454.4 107.7L1459.4 98.7L1449.4 98.7Z" fill="#ff7f10"/>
<path d="M1457.0 108.6L1462.0 99.6L1452.0 99.6Z" fill="#ff7f10"/>
<path d="M1460.1 109.8L1465.1 100.8L1455.1 100.8Z" fill="#ff7f10"/>
<path d="M1463.0 111.9L1468.0 102.9L1458.0 102.9Z" fill="#ff7f10"/>
<path d="M1465.4 115.5L1470.4 106.5L1460.4 106.5Z" fill="#ff7f10"/>
<path d="M1467.2 119.4L1472.2 110.4L1462.2 110.4Z" fill="#ff7f10"/>
<path d="M1468.8 123.4L1473.8 114.4L1463.8 114.4Z" fill="#ff7f10"/>
<path d="M1470.9 127.7L1475.9 118.7L1465.9 118.7Z" fill="#ff7f10"/>
<path d="M1473.0 131.3L1478.0 122.3L1468.0 122.3Z" fill="#ff7f10"/>
<path d="M1475.6 135.2L1480.6 126.2L1470.6 126.2Z" fill="#ff7f10"/>
<path d="M1477.9 138.6L1482.9 129.6L1472.9 129.6Z" fill="#ff7f10"/>
<path d="M1480.2 142.0L1485.2 133.0L1475.2 133.0Z" fill="#ff7f10"/>
<path d="M1482.7 145.4L1487.7 136.4L1477.7 136.4Z" fill="#ff7f10"/>
<path d="M1485.3 148.5L1490.3 139.5L1480.3 139.5Z" fill="#ff7f10"/>
<path d="M1488.3 151.4L1493.3 142.4L1483.3 142.4Z" fill="#ff7f10"/>
<path d="M1491.1 153.5L1496.1 144.5L1486.1 144.5Z" fill="#ff7f10"/>
<path d="M1493.7 155.5L1498.7 146.5L1488.7 146.5Z" fill="#ff7f10"/>
<path d="M1496.6 157.9L1501.6 148.9L1491.6 148.9Z" fill="#ff7f10"/>
<path d="M1499.2 160.1L1504.2 151.1L1494.2 151.1Z" fill="#ff7f10"/>
<path d="M1502.0 162.6L1507.0 153.6L1497.0 153.6Z" fill="#ff7f10"/>
<path d="M1501.4 163.6L1506.4 154.6L1496.4 154.6Z" fill="#ff7f10"/>
<path d="M1505.7 179.3L1510.7 170.3L1500.7 170.3Z" fill="#ff7f10"/>
<path d="M1511.4 213.6L1516.4 204.6L1506.4 204.6Z" fill="#ff7f10"/>
<path d="M1518.6 289.3L1523.6 280.3L1513.6 280.3Z" fill="#ff7f10"/>
<path d="M1521.4 389.3L1526.4 380.3L1516.4 380.3Z" fill="#ff7f10"/>
<path d="M1524.3 465.0L1529.3 456.0L1519.3 456.0Z" fill="#ff7f10"/>
<path d="M1530.0 610.7L1535.0 601.7L1525.0 601.7Z" fill="#ff7f10"/>
<path d="M1535.7 489.3L1540.7 480.3L1530.7 480.3Z" fill="#ff7f10"/>
<path d="M1541.4 392.0L1546.4 383.0L1536.4 383.0Z" fill="#ff7f10"/>
<path d="M1544.3 402.0L1549.3 393.0L1539.3 393.0Z" fill="#ff7f10"/>
<path d="M1548.6 415.0L1553.6 406.0L1543.6 406.0Z" fill="#ff7f10"/>
<path d="M1553.0 395.0L1558.0 386.0L1548.0 386.0Z" fill="#ff7f10"/>
<path d="M1558.6 356.4L1563.6 347.4L1553.6 347.4Z" fill="#ff7f10"/>
<path d="M1564.0 370.0L1569.0 361.0L1559.0 361.0Z" fill="#ff7f10"/>
<path d="M1570.0 379.3L1575.0 370.3L1565.0 370.3Z" fill="#ff7f10"/>
<path d="M1576.0 405.0L1581.0 396.0L1571.0 396.0Z" fill="#ff7f10"/>
<path d="M1582.0 435.0L1587.0 426.0L1577.0 426.0Z" fill="#ff7f10"/>
<path d="M1587.0 455.0L1592.0 446.0L1582.0 446.0Z" fill="#ff7f10"/>
<path d="M1587.0 457.0L1592.0 448.0L1582.0 448.0Z" fill="#ff7f10"/>
<path d="M1588.9 458.5L1593.9 449.5L1583.9 449.5Z" fill="#ff7f10"/>
<path d="M1590.7 453.9L1595.7 444.9L1585.7 444.9Z" fill="#ff7f10"/>
<path d="M1592.6 452.4L1597.6 443.4L1587.6 443.4Z" fill="#ff7f10"/>
<path d="M1594.4 456.2L1599.4 447.2L1589.4 447.2Z" fill="#ff7f10"/>
<path d="M1596.3 449.6L1601.3 440.6L1591.3 440.6Z" fill="#ff7f10"/>
<path d="M1598.1 451.7L1603.1 442.7L1593.1 442.7Z" fill="#ff7f10"/>
<path d="M1600.0 451.0L1605.0 442.0L1595.0 442.0Z" fill="#ff7f10"/>
<path d="M1602.0 450.2L1607.0 441.2L1597.0 441.2Z" fill="#ff7f10"/>
<path d="M1604.0 449.4L1609.0 440.4L1599.0 440.4Z" fill="#ff7f10"/>
<path d="M1606.0 444.4L1611.0 435.4L1601.0 435.4Z" fill="#ff7f10"/>
<path d="M1608.0 447.0L1613.0 438.0L1603.0 438.0Z" fill="#ff7f10"/>
<path d="M1610.0 444.8L1615.0 435.8L1605.0 435.8Z" fill="#ff7f10"/>
<path d="M1612.0 446.3L1617.0 437.3L1607.0 437.3Z" fill="#ff7f10"/>
<path d="M1614.0 438.5L1619.0 429.5L1609.0 429.5Z" fill="#ff7f10"/>
<path d="M1616.0 441.0L1621.0 432.0L1611.0 432.0Z" fill="#ff7f10"/>
<path d="M1618.0 443.9L1623.0 434.9L1613.0 434.9Z" fill="#ff7f10"/>
<path d="M1620.0 436.9L1625.0 427.9L1615.0 427.9Z" fill="#ff7f10"/>
<path d="M1622.0 441.3L1627.0 432.3L1617.0 432.3Z" fill="#ff7f10"/>
<path d="M1624.0 438.1L1629.0 429.1L1619.0 429.1Z" fill="#ff7f10"/>
<path d="M1626.0 439.9L1631.0 430.9L1621.0 430.9Z" fill="#ff7f10"/>
<path d="M1628.0 434.0L1633.0 425.0L1623.0 425.0Z" fill="#ff7f10"/>
<path d="M1630.0 434.3L1635.0 425.3L1625.0 425.3Z" fill="#ff7f10"/>
<path d="M1632.0 435.0L1637.0 426.0L1627.0 426.0Z" fill="#ff7f10"/>
<path d="M1634.0 430.9L1639.0 421.9L1629.0 421.9Z" fill="#ff7f10"/>
<path d="M1636.0 435.7L1641.0 426.7L1631.0 426.7Z" fill="#ff7f10"/>
<path d="M1638.0 433.0L1643.0 424.0L1633.0 424.0Z" fill="#ff7f10"/>
<path d="M1640.0 429.6L1645.0 420.6L1635.0 420.6Z" fill="#ff7f10"/>
<path d="M1642.0 428.8L1647.0 419.8L1637.0 419.8Z" fill="#ff7f10"/>
<path d="M1644.0 427.1L1649.0 418.1L1639.0 418.1Z" fill="#ff7f10"/>
<path d="M1646.0 427.4L1651.0 418.4L1641.0 418.4Z" fill="#ff7f10"/>
<path d="M1648.0 429.0L1653.0 420.0L1643.0 420.0Z" fill="#ff7f10"/>
<path d="M1650.0 428.5L1655.0 419.5L1645.0 419.5Z" fill="#ff7f10"/>
<path d="M1652.0 426.5L1657.0 417.5L1647.0 417.5Z" fill="#ff7f10"/>
<path d="M1654.0 427.6L1659.0 418.6L1649.0 418.6Z" fill="#ff7f10"/>
<path d="M1656.0 425.0L1661.0 416.0L1651.0 416.0Z" fill="#ff7f10"/>
<path d="M1658.0 435.4L1663.0 426.4L1653.0 426.4Z" fill="#ff7f10"/>
<path d="M1660.7 480.2L1665.7 471.2L1655.7 471.2Z" fill="#ff7f10"/>
<path d="M1661.4 325.0L1666.4 316.0L1656.4 316.0Z" fill="#ff7f10"/>
<path d="M1664.1 374.2L1669.1 365.2L1659.1 365.2Z" fill="#ff7f10"/>
<path d="M1665.7 299.3L1670.7 290.3L1660.7 290.3Z" fill="#ff7f10"/>
<path d="M1666.9 477.3L1671.9 468.3L1661.9 468.3Z" fill="#ff7f10"/>
<path d="M1667.0 306.4L1672.0 297.4L1662.0 297.4Z" fill="#ff7f10"/>
<path d="M1668.4 448.5L1673.4 439.5L1663.4 439.5Z" fill="#ff7f10"/>
<path d="M1670.7 400.4L1675.7 391.4L1665.7 391.4Z" fill="#ff7f10"/>
<path d="M1673.6 420.4L1678.6 411.4L1668.6 411.4Z" fill="#ff7f10"/>
<path d="M1676.2 415.5L1681.2 406.5L1671.2 406.5Z" fill="#ff7f10"/>
<path d="M1678.9 375.3L1683.9 366.3L1673.9 366.3Z" fill="#ff7f10"/>
<path d="M1680.8 422.4L1685.8 413.4L1675.8 413.4Z" fill="#ff7f10"/>
<path d="M1681.4 312.0L1686.4 303.0L1676.4 303.0Z" fill="#ff7f10"/>
<path d="M1682.9 435.4L1687.9 426.4L1677.9 426.4Z" fill="#ff7f10"/>
<path d="M1685.5 405.7L1690.5 396.7L1680.5 396.7Z" fill="#ff7f10"/>
<path d="M1688.7 343.8L1693.7 334.8L1683.7 334.8Z" fill="#ff7f10"/>
<path d="M1691.1 405.0L1696.1 396.0L1686.1 396.0Z" fill="#ff7f10"/>
<path d="M1694.4 325.4L1699.4 316.4L1689.4 316.4Z" fill="#ff7f10"/>
<path d="M1697.0 295.0L1702.0 286.0L1692.0 286.0Z" fill="#ff7f10"/>
<path d="M1697.5 428.7L1702.5 419.7L1692.5 419.7Z" fill="#ff7f10"/>
<path d="M1699.4 323.0L1704.4 314.0L1694.4 314.0Z" fill="#ff7f10"/>
<path d="M1702.0 469.3L1707.0 460.3L1697.0 460.3Z" fill="#ff7f10"/>
<path d="M1704.0 516.4L1709.0 507.4L1699.0 507.4Z" fill="#ff7f10"/>
<path d="M1705.4 500.0L1710.4 491.0L1700.4 491.0Z" fill="#ff7f10"/>
<path d="M1708.0 472.0L1713.0 463.0L1703.0 463.0Z" fill="#ff7f10"/>
<path d="M1709.7 454.4L1714.7 445.4L1704.7 445.4Z" fill="#ff7f10"/>
<path d="M1711.9 485.9L1716.9 476.9L1706.9 476.9Z" fill="#ff7f10"/>
<path d="M1712.0 325.0L1717.0 316.0L1707.0 316.0Z" fill="#ff7f10"/>
<path d="M1713.4 482.0L1718.4 473.0L1708.4 473.0Z" fill="#ff7f10"/>
<path d="M1716.0 526.6L1721.0 517.6L1711.0 517.6Z" fill="#ff7f10"/>
<path d="M1717.5 445.3L1722.5 436.3L1712.5 436.3Z" fill="#ff7f10"/>
<path d="M1719.5 479.7L1724.5 470.7L1714.5 470.7Z" fill="#ff7f10"/>
<path d="M1720.9 474.7L1725.9 465.7L1715.9 465.7Z" fill="#ff7f10"/>
<path d="M1723.1 502.3L1728.1 493.3L1718.1 493.3Z" fill="#ff7f10"/>
<path d="M1725.9 489.2L1730.9 480.2L1720.9 480.2Z" fill="#ff7f10"/>
<path d="M1726.0 340.0L1731.0 331.0L1721.0 331.0Z" fill="#ff7f10"/>
<path d="M1727.8 484.0L1732.8 475.0L1722.8 475.0Z" fill="#ff7f10"/>
<path d="M1730.4 445.7L1735.4 436.7L1725.4 436.7Z" fill="#ff7f10"/>
<path d="M1731.6 520.7L1736.6 511.7L1726.6 511.7Z" fill="#ff7f10"/>
<path d="M1733.6 448.1L1738.6 439.1L1728.6 439.1Z" fill="#ff7f10"/>
<path d="M1735.6 483.2L1740.6 474.2L1730.6 474.2Z" fill="#ff7f10"/>
<path d="M1737.7 521.2L1742.7 512.2L1732.7 512.2Z" fill="#ff7f10"/>
<path d="M1740.2 530.5L1745.2 521.5L1735.2 521.5Z" fill="#ff7f10"/>
<path d="M1742.6 517.0L1747.6 508.0L1737.6 508.0Z" fill="#ff7f10"/>
<path d="M1743.9 511.8L1748.9 502.8L1738.9 502.8Z" fill="#ff7f10"/>
<path d="M1744.3 482.0L1749.3 473.0L1739.3 473.0Z" fill="#ff7f10"/>
<path d="M1746.5 476.3L1751.5 467.3L1741.5 467.3Z" fill="#ff7f10"/>
<path d="M1749.3 515.2L1754.3 506.2L1744.3 506.2Z" fill="#ff7f10"/>
<path d="M1750.0 505.0L1755.0 496.0L1745.0 496.0Z" fill="#ff7f10"/>
<path d="M1750.6 499.4L1755.6 490.4L1745.6 490.4Z" fill="#ff7f10"/>
<path d="M1752.9 506.3L1757.9 497.3L1747.9 497.3Z" fill="#ff7f10"/>
<path d="M1754.7 423.6L1759.7 414.6L1749.7 414.6Z" fill="#ff7f10"/>
<path d="M1755.7 452.0L1760.7 443.0L1750.7 443.0Z" fill="#ff7f10"/>
<path d="M1757.2 498.1L1762.2 489.1L1752.2 489.1Z" fill="#ff7f10"/>
<path d="M1759.6 436.9L1764.6 427.9L1754.6 427.9Z" fill="#ff7f10"/>
<path d="M1761.4 504.0L1766.4 495.0L1756.4 495.0Z" fill="#ff7f10"/>
<path d="M1762.8 492.7L1767.8 483.7L1757.8 483.7Z" fill="#ff7f10"/>
<path d="M1764.2 492.3L1769.2 483.3L1759.2 483.3Z" fill="#ff7f10"/>
<path d="M1766.4 482.4L1771.4 473.4L1761.4 473.4Z" fill="#ff7f10"/>
<path d="M1767.0 525.0L1772.0 516.0L1762.0 516.0Z" fill="#ff7f10"/>
<path d="M1768.9 503.8L1773.9 494.8L1763.9 494.8Z" fill="#ff7f10"/>
<path d="M1772.0 537.8L1777.0 528.8L1767.0 528.8Z" fill="#ff7f10"/>
<path d="M1775.3 543.3L1780.3 534.3L1770.3 534.3Z" fill="#ff7f10"/>
<path d="M1778.3 523.7L1783.3 514.7L1773.3 514.7Z" fill="#ff7f10"/>
<path d="M1781.9 507.0L1786.9 498.0L1776.9 498.0Z" fill="#ff7f10"/>
<path d="M1785.2 472.5L1790.2 463.5L1780.2 463.5Z" fill="#ff7f10"/>
<path d="M1785.7 485.0L1790.7 476.0L1780.7 476.0Z" fill="#ff7f10"/>
<path d="M1788.3 529.4L1793.3 520.4L1783.3 520.4Z" fill="#ff7f10"/>
<path d="M1790.8 445.8L1795.8 436.8L1785.8 436.8Z" fill="#ff7f10"/>
<path d="M1793.7 511.5L1798.7 502.5L1788.7 502.5Z" fill="#ff7f10"/>
<path d="M1798.0 515.6L1803.0 506.6L1793.0 506.6Z" fill="#ff7f10"/>
<path d="M1800.5 522.7L1805.5 513.7L1795.5 513.7Z" fill="#ff7f10"/>
<path d="M1802.9 450.7L1807.9 441.7L1797.9 441.7Z" fill="#ff7f10"/>
<path d="M1802.9 469.0L1807.9 460.0L1797.9 460.0Z" fill="#ff7f10"/>
<path d="M1806.4 497.6L1811.4 488.6L1801.4 488.6Z" fill="#ff7f10"/>
<path d="M1808.5 527.4L1813.5 518.4L1803.5 518.4Z" fill="#ff7f10"/>
<path d="M1808.6 533.6L1813.6 524.6L1803.6 524.6Z" fill="#ff7f10"/>
<path d="M1811.3 516.3L1816.3 507.3L1806.3 507.3Z" fill="#ff7f10"/>
<path d="M1813.2 474.8L1818.2 465.8L1808.2 465.8Z" fill="#ff7f10"/>
<path d="M1817.0 500.7L1822.0 491.7L1812.0 491.7Z" fill="#ff7f10"/>
<path d="M1817.5 522.9L1822.5 513.9L1812.5 513.9Z" fill="#ff7f10"/>
<path d="M1819.5 530.0L1824.5 521.0L1814.5 521.0Z" fill="#ff7f10"/>
<path d="M1823.9 502.6L1828.9 493.6L1818.9 493.6Z" fill="#ff7f10"/>
<path d="M1827.2 456.3L1832.2 447.3L1822.2 447.3Z" fill="#ff7f10"/>
<path d="M1830.2 530.9L1835.2 521.9L1825.2 521.9Z" fill="#ff7f10"/>
<path d="M1831.4 547.9L1836.4 538.9L1826.4 538.9Z" fill="#ff7f10"/>
<path d="M1834.0 363.4L1839.0 354.4L1829.0 354.4Z" fill="#ff7f10"/>
<path d="M1834.3 447.9L1839.3 438.9L1829.3 438.9Z" fill="#ff7f10"/>
<path d="M1835.4 449.4L1840.4 440.4L1830.4 440.4Z" fill="#ff7f10"/>
<path d="M1837.0 430.7L1842.0 421.7L1832.0 421.7Z" fill="#ff7f10"/>
<path d="M1837.4 308.1L1842.4 299.1L1832.4 299.1Z" fill="#ff7f10"/>
<path d="M1839.1 534.2L1844.1 525.2L1834.1 525.2Z" fill="#ff7f10"/>
<path d="M1840.4 426.0L1845.4 417.0L1835.4 417.0Z" fill="#ff7f10"/>
<path d="M1842.5 437.5L1847.5 428.5L1837.5 428.5Z" fill="#ff7f10"/>
<path d="M1842.9 339.3L1847.9 330.3L1837.9 330.3Z" fill="#ff7f10"/>
<path d="M1844.6 436.4L1849.6 427.4L1839.6 427.4Z" fill="#ff7f10"/>
<path d="M1845.7 350.7L1850.7 341.7L1840.7 341.7Z" fill="#ff7f10"/>
<path d="M1845.7 441.0L1850.7 432.0L1840.7 432.0Z" fill="#ff7f10"/>
<path d="M1847.8 378.6L1852.8 369.6L1842.8 369.6Z" fill="#ff7f10"/>
<path d="M1848.6 293.6L1853.6 284.6L1843.6 284.6Z" fill="#ff7f10"/>
<path d="M1849.1 478.9L1854.1 469.9L1844.1 469.9Z" fill="#ff7f10"/>
<path d="M1850.8 437.8L1855.8 428.8L1845.8 428.8Z" fill="#ff7f10"/>
<path d="M1851.4 256.4L1856.4 247.4L1846.4 247.4Z" fill="#ff7f10"/>
<path d="M1852.9 499.4L1857.9 490.4L1847.9 490.4Z" fill="#ff7f10"/>
<path d="M1854.1 312.9L1859.1 303.9L1849.1 303.9Z" fill="#ff7f10"/>
<path d="M1855.6 416.3L1860.6 407.3L1850.6 407.3Z" fill="#ff7f10"/>
<path d="M1857.0 299.3L1862.0 290.3L1852.0 290.3Z" fill="#ff7f10"/>
<path d="M1857.4 287.5L1862.4 278.5L1852.4 278.5Z" fill="#ff7f10"/>
<path d="M1858.5 471.9L1863.5 462.9L1853.5 462.9Z" fill="#ff7f10"/>
<path d="M1860.5 467.8L1865.5 458.8L1855.5 458.8Z" fill="#ff7f10"/>
<path d="M1862.2 415.9L1867.2 406.9L1857.2 406.9Z" fill="#ff7f10"/>
<path d="M1862.9 309.3L1867.9 300.3L1857.9 300.3Z" fill="#ff7f10"/>
<path d="M1863.4 477.6L1868.4 468.6L1858.4 468.6Z" fill="#ff7f10"/>
<path d="M1865.1 424.6L1870.1 415.6L1860.1 415.6Z" fill="#ff7f10"/>
<path d="M1867.0 447.7L1872.0 438.7L1862.0 438.7Z" fill="#ff7f10"/>
<path d="M1868.7 409.3L1873.7 400.3L1863.7 400.3Z" fill="#ff7f10"/>
<path d="M1870.0 355.0L1875.0 346.0L1865.0 346.0Z" fill="#ff7f10"/>
<path d="M1870.2 395.7L1875.2 386.7L1865.2 386.7Z" fill="#ff7f10"/>
<path d="M1871.3 519.6L1876.3 510.6L1866.3 510.6Z" fill="#ff7f10"/>
<path d="M1872.5 538.1L1877.5 529.1L1867.5 529.1Z" fill="#ff7f10"/>
<path d="M1872.9 383.6L1877.9 374.6L1867.9 374.6Z" fill="#ff7f10"/>
<path d="M1873.7 466.8L1878.7 457.8L1868.7 457.8Z" fill="#ff7f10"/>
<path d="M1874.3 273.6L1879.3 264.6L1869.3 264.6Z" fill="#ff7f10"/>
<path d="M1874.3 306.4L1879.3 297.4L1869.3 297.4Z" fill="#ff7f10"/>
<path d="M1875.7 492.7L1880.7 483.7L1870.7 483.7Z" fill="#ff7f10"/>
<path d="M1877.8 437.1L1882.8 428.1L1872.8 428.1Z" fill="#ff7f10"/>
<path d="M1879.2 460.3L1884.2 451.3L1874.2 451.3Z" fill="#ff7f10"/>
<path d="M1880.5 489.8L1885.5 480.8L1875.5 480.8Z" fill="#ff7f10"/>
<polyline fill="none" stroke="#000" stroke-width="1.3" stroke-linejoin="round" points="1096.0,380.0 1098.0,400.0 1101.8,399.9 1106.0,380.0 1109.0,382.2 1112.0,365.0 1115.2,353.4 1118.3,348.0 1120.7,335.9 1123.0,329.6 1125.4,317.3 1128.2,298.9 1131.0,300.0 1134.1,294.1 1137.2,281.9 1141.4,268.6 1144.3,278.6 1148.0,272.0 1152.0,276.0 1156.0,272.0 1161.4,277.0 1168.0,300.0 1172.9,208.6 1174.0,290.0 1164.3,284.3 1166.4,288.0 1168.6,292.0 1170.4,296.2 1171.6,300.3 1172.8,304.8 1174.2,308.9 1176.8,312.3 1179.9,313.1 1182.8,313.2 1185.6,313.7 1188.5,315.2 1191.1,316.9 1193.7,319.0 1196.6,322.2 1198.6,325.7 1199.9,329.6 1200.8,333.7 1201.5,338.0 1202.2,342.5 1203.0,346.8 1204.1,350.8 1205.7,354.7 1207.8,358.5 1210.0,362.0 1212.3,365.5 1214.4,369.0 1216.3,372.7 1218.0,376.7 1219.7,380.8 1221.2,384.7 1223.0,388.9 1225.3,392.9 1227.8,396.3 1230.4,398.8 1233.0,400.0 1235.6,397.5 1237.3,393.4 1239.0,389.7 1240.9,385.5 1242.6,381.1 1244.2,377.3 1244.3,377.0 1250.0,360.0 1255.7,331.4 1261.4,311.4 1267.0,291.4 1270.0,288.6 1278.6,271.4 1284.0,258.0 1284.0,258.0 1285.7,254.2 1287.3,250.4 1289.4,246.5 1291.9,244.0 1294.7,244.0 1297.6,245.2 1300.4,247.2 1303.4,249.3 1306.4,251.1 1309.6,252.3 1312.1,252.8 1314.7,253.3 1317.3,253.9 1319.9,254.8 1322.6,256.1 1325.4,257.5 1328.4,259.1 1330.0,260.0 1333.0,285.7 1338.6,355.7 1347.0,460.0 1351.4,528.6 1355.7,462.9 1357.0,412.9 1362.9,254.3 1368.6,180.0 1374.3,148.6 1378.0,150.0 1381.4,134.3 1383.0,143.0 1388.0,145.0 1394.3,141.4 1402.9,131.4 1402.9,131.4 1404.2,127.2 1405.7,122.9 1407.5,118.7 1409.9,115.4 1412.8,112.6 1415.6,110.7 1418.7,109.1 1421.2,108.2 1423.7,107.6 1426.5,107.2 1429.4,106.9 1432.3,106.8 1435.0,106.9 1437.7,107.1 1440.5,107.6 1443.1,108.4 1445.6,109.3 1448.2,110.3 1450.8,111.2 1453.3,112.0 1456.4,113.2 1459.4,114.4 1462.1,115.1 1464.9,115.6 1467.5,115.8 1470.1,115.8 1472.9,115.6 1475.7,115.3 1478.6,115.0 1481.5,114.7 1484.3,114.4 1487.1,114.2 1489.8,113.9 1492.6,113.6 1495.4,113.3 1498.1,113.0 1500.9,112.9 1503.6,112.8 1506.4,112.9 1509.1,113.2 1511.8,113.6 1514.5,114.0 1517.2,114.6 1519.9,115.3 1522.5,116.0 1525.1,116.8 1527.7,117.7 1530.4,118.9 1533.1,120.1 1535.7,121.4 1538.7,123.1 1541.4,124.7 1544.2,126.6 1546.8,128.9 1549.7,132.1 1552.2,135.3 1554.9,139.2 1557.1,142.5 1559.3,145.9 1560.0,147.0 1565.7,177.0 1570.0,257.0 1575.7,352.9 1578.6,420.0 1583.0,530.0 1586.0,470.0 1590.0,461.4 1594.3,344.3 1598.0,293.4 1601.4,275.7 1604.3,327.4 1608.6,264.3 1611.7,330.9 1614.3,267.0 1619.2,328.5 1621.4,291.4 1625.1,342.5 1630.0,271.4 1631.4,331.8 1635.3,332.6 1637.0,288.6 1642.0,318.9 1642.9,301.4 1648.3,319.5 1648.6,335.7 1652.9,357.0 1653.9,364.3 1658.6,385.7 1661.3,412.4 1668.7,421.8 1669.8,443.0 1670.5,429.4 1673.6,418.7 1673.7,431.6 1676.3,421.8 1676.8,443.2 1679.6,449.3 1679.9,429.2 1680.6,425.4 1681.1,445.1 1681.9,443.8 1686.4,424.0 1688.1,431.5 1689.3,424.9 1689.9,450.5 1691.6,441.3 1692.8,451.9 1700.1,433.2 1703.1,436.6 1704.1,441.6 1705.4,436.6 1706.5,425.5 1706.8,446.4 1707.7,422.6 1708.5,421.2 1711.8,424.6 1718.2,451.6 1720.1,440.1 1722.6,440.1 1724.4,431.7 1725.2,446.5 1725.7,451.2 1727.6,444.9 1722.0,423.7 1723.6,485.8 1726.1,452.4 1728.2,415.6 1730.9,334.5 1731.4,302.9 1733.0,394.1 1736.2,351.9 1737.9,358.6 1740.4,402.9 1742.9,377.0 1743.1,384.3 1744.3,351.4 1746.1,322.1 1749.3,368.7 1751.1,292.3 1751.4,325.7 1753.1,353.3 1755.5,371.1 1757.8,378.3 1761.1,353.8 1761.4,307.0 1763.7,374.3 1766.6,379.6 1768.2,373.3 1768.6,318.6 1770.1,313.4 1771.8,357.6 1773.4,372.9 1774.3,278.6 1775.9,343.3 1778.0,390.9 1780.0,321.4 1781.1,358.9 1784.2,351.6 1787.0,493.4 1789.9,446.1 1792.8,419.0 1795.0,491.6 1797.8,456.3 1802.0,495.2 1805.7,529.6 1807.8,537.4 1808.6,511.4 1810.9,528.4 1813.7,476.4 1814.3,517.0 1815.8,521.7 1819.3,544.5 1820.0,531.4 1823.2,528.4 1827.1,520.5 1828.6,477.0 1830.5,544.0 1832.7,476.1 1835.8,541.2 1839.2,516.7 1840.0,494.3 1841.3,540.8 1843.5,500.0 1846.1,547.3 1849.8,554.1 1852.9,547.6 1855.3,503.7 1857.0,514.3 1858.7,554.2 1861.0,560.6 1862.9,534.3 1864.3,522.6 1866.0,553.9 1869.1,563.0 1871.6,567.0 1874.2,528.4 1876.5,571.5 1877.0,505.7 1879.2,564.9 1880.0,520.0 1882.9,548.6 1883.1,497.5 1886.7,553.4 1888.5,506.0 1888.6,560.0 1890.0,577.0 1890.9,549.1 1896.0,356.0 1898.1,519.0 1898.6,398.6 1899.2,329.4 1900.8,497.2 1902.0,393.6 1902.9,531.4 1904.1,480.4 1905.7,448.6 1906.1,324.8 1907.8,444.8 1909.0,344.1 1910.0,528.7 1911.4,345.7 1911.9,310.9 1913.5,483.9 1915.3,361.1 1916.5,499.7 1917.0,383.0 1917.6,445.9 1919.7,461.4 1921.4,274.3 1921.7,466.3 1923.6,411.1 1925.7,489.7 1925.7,508.6 1927.2,480.6 1928.3,276.1 1928.6,297.0 1928.6,318.6 1930.4,524.9 1932.4,523.6 1933.5,475.8 1934.3,525.7 1934.5,325.6 1935.7,327.0 1936.4,407.8 1937.5,445.3 1939.4,422.5 1940.0,298.6 1940.0,360.0 1940.0,454.3 1940.7,370.3 1942.5,415.8 1943.9,527.6"/>
<path d="M1091.0 380.0L1100.0 375.0L1100.0 385.0Z" fill="#22ee22"/>
<path d="M1093.0 400.0L1102.0 395.0L1102.0 405.0Z" fill="#22ee22"/>
<path d="M1096.8 399.9L1105.8 394.9L1105.8 404.9Z" fill="#22ee22"/>
<path d="M1101.0 380.0L1110.0 375.0L1110.0 385.0Z" fill="#22ee22"/>
<path d="M1104.0 382.2L1113.0 377.2L1113.0 387.2Z" fill="#22ee22"/>
<path d="M1107.0 365.0L1116.0 360.0L1116.0 370.0Z" fill="#22ee22"/>
<path d="M1110.2 353.4L1119.2 348.4L1119.2 358.4Z" fill="#22ee22"/>
<path d="M1113.3 348.0L1122.3 343.0L1122.3 353.0Z" fill="#22ee22"/>
<path d="M1115.7 335.9L1124.7 330.9L1124.7 340.9Z" fill="#22ee22"/>
<path d="M1118.0 329.6L1127.0 324.6L1127.0 334.6Z" fill="#22ee22"/>
<path d="M1120.4 317.3L1129.4 312.3L1129.4 322.3Z" fill="#22ee22"/>
<path d="M1123.2 298.9L1132.2 293.9L1132.2 303.9Z" fill="#22ee22"/>
<path d="M1126.0 300.0L1135.0 295.0L1135.0 305.0Z" fill="#22ee22"/>
<path d="M1129.1 294.1L1138.1 289.1L1138.1 299.1Z" fill="#22ee22"/>
<path d="M1132.2 281.9L1141.2 276.9L1141.2 286.9Z" fill="#22ee22"/>
<path d="M1136.4 268.6L1145.4 263.6L1145.4 273.6Z" fill="#22ee22"/>
<path d="M1139.3 278.6L1148.3 273.6L1148.3 283.6Z" fill="#22ee22"/>
<path d="M1143.0 272.0L1152.0 267.0L1152.0 277.0Z" fill="#22ee22"/>
<path d="M1147.0 276.0L1156.0 271.0L1156.0 281.0Z" fill="#22ee22"/>
<path d="M1151.0 272.0L1160.0 267.0L1160.0 277.0Z" fill="#22ee22"/>
<path d="M1156.4 277.0L1165.4 272.0L1165.4 282.0Z" fill="#22ee22"/>
<path d="M1163.0 300.0L1172.0 295.0L1172.0 305.0Z" fill="#22ee22"/>
<path d="M1167.9 208.6L1176.9 203.6L1176.9 213.6Z" fill="#22ee22"/>
<path d="M1169.0 290.0L1178.0 285.0L1178.0 295.0Z" fill="#22ee22"/>
<path d="M1159.3 284.3L1168.3 279.3L1168.3 289.3Z" fill="#22ee22"/>
<path d="M1161.4 288.0L1170.4 283.0L1170.4 293.0Z" fill="#22ee22"/>
<path d="M1163.6 292.0L1172.6 287.0L1172.6 297.0Z" fill="#22ee22"/>
<path d="M1165.4 296.2L1174.4 291.2L1174.4 301.2Z" fill="#22ee22"/>
<path d="M1166.6 300.3L1175.6 295.3L1175.6 305.3Z" fill="#22ee22"/>
<path d="M1167.8 304.8L1176.8 299.8L1176.8 309.8Z" fill="#22ee22"/>
<path d="M1169.2 308.9L1178.2 303.9L1178.2 313.9Z" fill="#22ee22"/>
<path d="M1171.8 312.3L1180.8 307.3L1180.8 317.3Z" fill="#22ee22"/>
<path d="M1174.9 313.1L1183.9 308.1L1183.9 318.1Z" fill="#22ee22"/>
<path d="M1177.8 313.2L1186.8 308.2L1186.8 318.2Z" fill="#22ee22"/>
<path d="M1180.6 313.7L1189.6 308.7L1189.6 318.7Z" fill="#22ee22"/>
<path d="M1183.5 315.2L1192.5 310.2L1192.5 320.2Z" fill="#22ee22"/>
<path d="M1186.1 316.9L1195.1 311.9L1195.1 321.9Z" fill="#22ee22"/>
<path d="M1188.7 319.0L1197.7 314.0L1197.7 324.0Z" fill="#22ee22"/>
<path d="M1191.6 322.2L1200.6 317.2L1200.6 327.2Z" fill="#22ee22"/>
<path d="M1193.6 325.7L1202.6 320.7L1202.6 330.7Z" fill="#22ee22"/>
<path d="M1194.9 329.6L1203.9 324.6L1203.9 334.6Z" fill="#22ee22"/>
<path d="M1195.8 333.7L1204.8 328.7L1204.8 338.7Z" fill="#22ee22"/>
<path d="M1196.5 338.0L1205.5 333.0L1205.5 343.0Z" fill="#22ee22"/>
<path d="M1197.2 342.5L1206.2 337.5L1206.2 347.5Z" fill="#22ee22"/>
<path d="M1198.0 346.8L1207.0 341.8L1207.0 351.8Z" fill="#22ee22"/>
<path d="M1199.1 350.8L1208.1 345.8L1208.1 355.8Z" fill="#22ee22"/>
<path d="M1200.7 354.7L1209.7 349.7L1209.7 359.7Z" fill="#22ee22"/>
<path d="M1202.8 358.5L1211.8 353.5L1211.8 363.5Z" fill="#22ee22"/>
<path d="M1205.0 362.0L1214.0 357.0L1214.0 367.0Z" fill="#22ee22"/>
<path d="M1207.3 365.5L1216.3 360.5L1216.3 370.5Z" fill="#22ee22"/>
<path d="M1209.4 369.0L1218.4 364.0L1218.4 374.0Z" fill="#22ee22"/>
<path d="M1211.3 372.7L1220.3 367.7L1220.3 377.7Z" fill="#22ee22"/>
<path d="M1213.0 376.7L1222.0 371.7L1222.0 381.7Z" fill="#22ee22"/>
<path d="M1214.7 380.8L1223.7 375.8L1223.7 385.8Z" fill="#22ee22"/>
<path d="M1216.2 384.7L1225.2 379.7L1225.2 389.7Z" fill="#22ee22"/>
<path d="M1218.0 388.9L1227.0 383.9L1227.0 393.9Z" fill="#22ee22"/>
<path d="M1220.3 392.9L1229.3 387.9L1229.3 397.9Z" fill="#22ee22"/>
<path d="M1222.8 396.3L1231.8 391.3L1231.8 401.3Z" fill="#22ee22"/>
<path d="M1225.4 398.8L1234.4 393.8L1234.4 403.8Z" fill="#22ee22"/>
<path d="M1228.0 400.0L1237.0 395.0L1237.0 405.0Z" fill="#22ee22"/>
<path d="M1230.6 397.5L1239.6 392.5L1239.6 402.5Z" fill="#22ee22"/>
<path d="M1232.3 393.4L1241.3 388.4L1241.3 398.4Z" fill="#22ee22"/>
<path d="M1234.0 389.7L1243.0 384.7L1243.0 394.7Z" fill="#22ee22"/>
<path d="M1235.9 385.5L1244.9 380.5L1244.9 390.5Z" fill="#22ee22"/>
<path d="M1237.6 381.1L1246.6 376.1L1246.6 386.1Z" fill="#22ee22"/>
<path d="M1239.2 377.3L1248.2 372.3L1248.2 382.3Z" fill="#22ee22"/>
<path d="M1239.3 377.0L1248.3 372.0L1248.3 382.0Z" fill="#22ee22"/>
<path d="M1245.0 360.0L1254.0 355.0L1254.0 365.0Z" fill="#22ee22"/>
<path d="M1250.7 331.4L1259.7 326.4L1259.7 336.4Z" fill="#22ee22"/>
<path d="M1256.4 311.4L1265.4 306.4L1265.4 316.4Z" fill="#22ee22"/>
<path d="M1262.0 291.4L1271.0 286.4L1271.0 296.4Z" fill="#22ee22"/>
<path d="M1265.0 288.6L1274.0 283.6L1274.0 293.6Z" fill="#22ee22"/>
<path d="M1273.6 271.4L1282.6 266.4L1282.6 276.4Z" fill="#22ee22"/>
<path d="M1279.0 258.0L1288.0 253.0L1288.0 263.0Z" fill="#22ee22"/>
<path d="M1279.0 258.0L1288.0 253.0L1288.0 263.0Z" fill="#22ee22"/>
<path d="M1280.7 254.2L1289.7 249.2L1289.7 259.2Z" fill="#22ee22"/>
<path d="M1282.3 250.4L1291.3 245.4L1291.3 255.4Z" fill="#22ee22"/>
<path d="M1284.4 246.5L1293.4 241.5L1293.4 251.5Z" fill="#22ee22"/>
<path d="M1286.9 244.0L1295.9 239.0L1295.9 249.0Z" fill="#22ee22"/>
<path d="M1289.7 244.0L1298.7 239.0L1298.7 249.0Z" fill="#22ee22"/>
<path d="M1292.6 245.2L1301.6 240.2L1301.6 250.2Z" fill="#22ee22"/>
<path d="M1295.4 247.2L1304.4 242.2L1304.4 252.2Z" fill="#22ee22"/>
<path d="M1298.4 249.3L1307.4 244.3L1307.4 254.3Z" fill="#22ee22"/>
<path d="M1301.4 251.1L1310.4 246.1L1310.4 256.1Z" fill="#22ee22"/>
<path d="M1304.6 252.3L1313.6 247.3L1313.6 257.3Z" fill="#22ee22"/>
<path d="M1307.1 252.8L1316.1 247.8L1316.1 257.8Z" fill="#22ee22"/>
<path d="M1309.7 253.3L1318.7 248.3L1318.7 258.3Z" fill="#22ee22"/>
<path d="M1312.3 253.9L1321.3 248.9L1321.3 258.9Z" fill="#22ee22"/>
<path d="M1314.9 254.8L1323.9 249.8L1323.9 259.8Z" fill="#22ee22"/>
<path d="M1317.6 256.1L1326.6 251.1L1326.6 261.1Z" fill="#22ee22"/>
<path d="M1320.4 257.5L1329.4 252.5L1329.4 262.5Z" fill="#22ee22"/>
<path d="M1323.4 259.1L1332.4 254.1L1332.4 264.1Z" fill="#22ee22"/>
<path d="M1325.0 260.0L1334.0 255.0L1334.0 265.0Z" fill="#22ee22"/>
<path d="M1328.0 285.7L1337.0 280.7L1337.0 290.7Z" fill="#22ee22"/>
<path d="M1333.6 355.7L1342.6 350.7L1342.6 360.7Z" fill="#22ee22"/>
<path d="M1342.0 460.0L1351.0 455.0L1351.0 465.0Z" fill="#22ee22"/>
<path d="M1346.4 528.6L1355.4 523.6L1355.4 533.6Z" fill="#22ee22"/>
<path d="M1350.7 462.9L1359.7 457.9L1359.7 467.9Z" fill="#22ee22"/>
<path d="M1352.0 412.9L1361.0 407.9L1361.0 417.9Z" fill="#22ee22"/>
<path d="M1357.9 254.3L1366.9 249.3L1366.9 259.3Z" fill="#22ee22"/>
<path d="M1363.6 180.0L1372.6 175.0L1372.6 185.0Z" fill="#22ee22"/>
<path d="M1369.3 148.6L1378.3 143.6L1378.3 153.6Z" fill="#22ee22"/>
<path d="M1373.0 150.0L1382.0 145.0L1382.0 155.0Z" fill="#22ee22"/>
<path d="M1376.4 134.3L1385.4 129.3L1385.4 139.3Z" fill="#22ee22"/>
<path d="M1378.0 143.0L1387.0 138.0L1387.0 148.0Z" fill="#22ee22"/>
<path d="M1383.0 145.0L1392.0 140.0L1392.0 150.0Z" fill="#22ee22"/>
<path d="M1389.3 141.4L1398.3 136.4L1398.3 146.4Z" fill="#22ee22"/>
<path d="M1397.9 131.4L1406.9 126.4L1406.9 136.4Z" fill="#22ee22"/>
<path d="M1397.9 131.4L1406.9 126.4L1406.9 136.4Z" fill="#22ee22"/>
<path d="M1399.2 127.2L1408.2 122.2L1408.2 132.2Z" fill="#22ee22"/>
<path d="M1400.7 122.9L1409.7 117.9L1409.7 127.9Z" fill="#22ee22"/>
<path d="M1402.5 118.7L1411.5 113.7L1411.5 123.7Z" fill="#22ee22"/>
<path d="M1404.9 115.4L1413.9 110.4L1413.9 120.4Z" fill="#22ee22"/>
<path d="M1407.8 112.6L1416.8 107.6L1416.8 117.6Z" fill="#22ee22"/>
<path d="M1410.6 110.7L1419.6 105.7L1419.6 115.7Z" fill="#22ee22"/>
<path d="M1413.7 109.1L1422.7 104.1L1422.7 114.1Z" fill="#22ee22"/>
<path d="M1416.2 108.2L1425.2 103.2L1425.2 113.2Z" fill="#22ee22"/>
<path d="M1418.7 107.6L1427.7 102.6L1427.7 112.6Z" fill="#22ee22"/>
<path d="M1421.5 107.2L1430.5 102.2L1430.5 112.2Z" fill="#22ee22"/>
<path d="M1424.4 106.9L1433.4 101.9L1433.4 111.9Z" fill="#22ee22"/>
<path d="M1427.3 106.8L1436.3 101.8L1436.3 111.8Z" fill="#22ee22"/>
<path d="M1430.0 106.9L1439.0 101.9L1439.0 111.9Z" fill="#22ee22"/>
<path d="M1432.7 107.1L1441.7 102.1L1441.7 112.1Z" fill="#22ee22"/>
<path d="M1435.5 107.6L1444.5 102.6L1444.5 112.6Z" fill="#22ee22"/>
<path d="M1438.1 108.4L1447.1 103.4L1447.1 113.4Z" fill="#22ee22"/>
<path d="M1440.6 109.3L1449.6 104.3L1449.6 114.3Z" fill="#22ee22"/>
<path d="M1443.2 110.3L1452.2 105.3L1452.2 115.3Z" fill="#22ee22"/>
<path d="M1445.8 111.2L1454.8 106.2L1454.8 116.2Z" fill="#22ee22"/>
<path d="M1448.3 112.0L1457.3 107.0L1457.3 117.0Z" fill="#22ee22"/>
<path d="M1451.4 113.2L1460.4 108.2L1460.4 118.2Z" fill="#22ee22"/>
<path d="M1454.4 114.4L1463.4 109.4L1463.4 119.4Z" fill="#22ee22"/>
<path d="M1457.1 115.1L1466.1 110.1L1466.1 120.1Z" fill="#22ee22"/>
<path d="M1459.9 115.6L1468.9 110.6L1468.9 120.6Z" fill="#22ee22"/>
<path d="M1462.5 115.8L1471.5 110.8L1471.5 120.8Z" fill="#22ee22"/>
<path d="M1465.1 115.8L1474.1 110.8L1474.1 120.8Z" fill="#22ee22"/>
<path d="M1467.9 115.6L1476.9 110.6L1476.9 120.6Z" fill="#22ee22"/>
<path d="M1470.7 115.3L1479.7 110.3L1479.7 120.3Z" fill="#22ee22"/>
<path d="M1473.6 115.0L1482.6 110.0L1482.6 120.0Z" fill="#22ee22"/>
<path d="M1476.5 114.7L1485.5 109.7L1485.5 119.7Z" fill="#22ee22"/>
<path d="M1479.3 114.4L1488.3 109.4L1488.3 119.4Z" fill="#22ee22"/>
<path d="M1482.1 114.2L1491.1 109.2L1491.1 119.2Z" fill="#22ee22"/>
<path d="M1484.8 113.9L1493.8 108.9L1493.8 118.9Z" fill="#22ee22"/>
<path d="M1487.6 113.6L1496.6 108.6L1496.6 118.6Z" fill="#22ee22"/>
<path d="M1490.4 113.3L1499.4 108.3L1499.4 118.3Z" fill="#22ee22"/>
<path d="M1493.1 113.0L1502.1 108.0L1502.1 118.0Z" fill="#22ee22"/>
<path d="M1495.9 112.9L1504.9 107.9L1504.9 117.9Z" fill="#22ee22"/>
<path d="M1498.6 112.8L1507.6 107.8L1507.6 117.8Z" fill="#22ee22"/>
<path d="M1501.4 112.9L1510.4 107.9L1510.4 117.9Z" fill="#22ee22"/>
<path d="M1504.1 113.2L1513.1 108.2L1513.1 118.2Z" fill="#22ee22"/>
<path d="M1506.8 113.6L1515.8 108.6L1515.8 118.6Z" fill="#22ee22"/>
<path d="M1509.5 114.0L1518.5 109.0L1518.5 119.0Z" fill="#22ee22"/>
<path d="M1512.2 114.6L1521.2 109.6L1521.2 119.6Z" fill="#22ee22"/>
<path d="M1514.9 115.3L1523.9 110.3L1523.9 120.3Z" fill="#22ee22"/>
<path d="M1517.5 116.0L1526.5 111.0L1526.5 121.0Z" fill="#22ee22"/>
<path d="M1520.1 116.8L1529.1 111.8L1529.1 121.8Z" fill="#22ee22"/>
<path d="M1522.7 117.7L1531.7 112.7L1531.7 122.7Z" fill="#22ee22"/>
<path d="M1525.4 118.9L1534.4 113.9L1534.4 123.9Z" fill="#22ee22"/>
<path d="M1528.1 120.1L1537.1 115.1L1537.1 125.1Z" fill="#22ee22"/>
<path d="M1530.7 121.4L1539.7 116.4L1539.7 126.4Z" fill="#22ee22"/>
<path d="M1533.7 123.1L1542.7 118.1L1542.7 128.1Z" fill="#22ee22"/>
<path d="M1536.4 124.7L1545.4 119.7L1545.4 129.7Z" fill="#22ee22"/>
<path d="M1539.2 126.6L1548.2 121.6L1548.2 131.6Z" fill="#22ee22"/>
<path d="M1541.8 128.9L1550.8 123.9L1550.8 133.9Z" fill="#22ee22"/>
<path d="M1544.7 132.1L1553.7 127.1L1553.7 137.1Z" fill="#22ee22"/>
<path d="M1547.2 135.3L1556.2 130.3L1556.2 140.3Z" fill="#22ee22"/>
<path d="M1549.9 139.2L1558.9 134.2L1558.9 144.2Z" fill="#22ee22"/>
<path d="M1552.1 142.5L1561.1 137.5L1561.1 147.5Z" fill="#22ee22"/>
<path d="M1554.3 145.9L1563.3 140.9L1563.3 150.9Z" fill="#22ee22"/>
<path d="M1555.0 147.0L1564.0 142.0L1564.0 152.0Z" fill="#22ee22"/>
<path d="M1560.7 177.0L1569.7 172.0L1569.7 182.0Z" fill="#22ee22"/>
<path d="M1565.0 257.0L1574.0 252.0L1574.0 262.0Z" fill="#22ee22"/>
<path d="M1570.7 352.9L1579.7 347.9L1579.7 357.9Z" fill="#22ee22"/>
<path d="M1573.6 420.0L1582.6 415.0L1582.6 425.0Z" fill="#22ee22"/>
<path d="M1578.0 530.0L1587.0 525.0L1587.0 535.0Z" fill="#22ee22"/>
<path d="M1581.0 470.0L1590.0 465.0L1590.0 475.0Z" fill="#22ee22"/>
<path d="M1585.0 461.4L1594.0 456.4L1594.0 466.4Z" fill="#22ee22"/>
<path d="M1589.3 344.3L1598.3 339.3L1598.3 349.3Z" fill="#22ee22"/>
<path d="M1593.0 293.4L1602.0 288.4L1602.0 298.4Z" fill="#22ee22"/>
<path d="M1596.4 275.7L1605.4 270.7L1605.4 280.7Z" fill="#22ee22"/>
<path d="M1599.3 327.4L1608.3 322.4L1608.3 332.4Z" fill="#22ee22"/>
<path d="M1603.6 264.3L1612.6 259.3L1612.6 269.3Z" fill="#22ee22"/>
<path d="M1606.7 330.9L1615.7 325.9L1615.7 335.9Z" fill="#22ee22"/>
<path d="M1609.3 267.0L1618.3 262.0L1618.3 272.0Z" fill="#22ee22"/>
<path d="M1614.2 328.5L1623.2 323.5L1623.2 333.5Z" fill="#22ee22"/>
<path d="M1616.4 291.4L1625.4 286.4L1625.4 296.4Z" fill="#22ee22"/>
<path d="M1620.1 342.5L1629.1 337.5L1629.1 347.5Z" fill="#22ee22"/>
<path d="M1625.0 271.4L1634.0 266.4L1634.0 276.4Z" fill="#22ee22"/>
<path d="M1626.4 331.8L1635.4 326.8L1635.4 336.8Z" fill="#22ee22"/>
<path d="M1630.3 332.6L1639.3 327.6L1639.3 337.6Z" fill="#22ee22"/>
<path d="M1632.0 288.6L1641.0 283.6L1641.0 293.6Z" fill="#22ee22"/>
<path d="M1637.0 318.9L1646.0 313.9L1646.0 323.9Z" fill="#22ee22"/>
<path d="M1637.9 301.4L1646.9 296.4L1646.9 306.4Z" fill="#22ee22"/>
<path d="M1643.3 319.5L1652.3 314.5L1652.3 324.5Z" fill="#22ee22"/>
<path d="M1643.6 335.7L1652.6 330.7L1652.6 340.7Z" fill="#22ee22"/>
<path d="M1647.9 357.0L1656.9 352.0L1656.9 362.0Z" fill="#22ee22"/>
<path d="M1648.9 364.3L1657.9 359.3L1657.9 369.3Z" fill="#22ee22"/>
<path d="M1653.6 385.7L1662.6 380.7L1662.6 390.7Z" fill="#22ee22"/>
<path d="M1656.3 412.4L1665.3 407.4L1665.3 417.4Z" fill="#22ee22"/>
<path d="M1663.7 421.8L1672.7 416.8L1672.7 426.8Z" fill="#22ee22"/>
<path d="M1664.8 443.0L1673.8 438.0L1673.8 448.0Z" fill="#22ee22"/>
<path d="M1665.5 429.4L1674.5 424.4L1674.5 434.4Z" fill="#22ee22"/>
<path d="M1668.6 418.7L1677.6 413.7L1677.6 423.7Z" fill="#22ee22"/>
<path d="M1668.7 431.6L1677.7 426.6L1677.7 436.6Z" fill="#22ee22"/>
<path d="M1671.3 421.8L1680.3 416.8L1680.3 426.8Z" fill="#22ee22"/>
<path d="M1671.8 443.2L1680.8 438.2L1680.8 448.2Z" fill="#22ee22"/>
<path d="M1674.6 449.3L1683.6 444.3L1683.6 454.3Z" fill="#22ee22"/>
<path d="M1674.9 429.2L1683.9 424.2L1683.9 434.2Z" fill="#22ee22"/>
<path d="M1675.6 425.4L1684.6 420.4L1684.6 430.4Z" fill="#22ee22"/>
<path d="M1676.1 445.1L1685.1 440.1L1685.1 450.1Z" fill="#22ee22"/>
<path d="M1676.9 443.8L1685.9 438.8L1685.9 448.8Z" fill="#22ee22"/>
<path d="M1681.4 424.0L1690.4 419.0L1690.4 429.0Z" fill="#22ee22"/>
<path d="M1683.1 431.5L1692.1 426.5L1692.1 436.5Z" fill="#22ee22"/>
<path d="M1684.3 424.9L1693.3 419.9L1693.3 429.9Z" fill="#22ee22"/>
<path d="M1684.9 450.5L1693.9 445.5L1693.9 455.5Z" fill="#22ee22"/>
<path d="M1686.6 441.3L1695.6 436.3L1695.6 446.3Z" fill="#22ee22"/>
<path d="M1687.8 451.9L1696.8 446.9L1696.8 456.9Z" fill="#22ee22"/>
<path d="M1695.1 433.2L1704.1 428.2L1704.1 438.2Z" fill="#22ee22"/>
<path d="M1698.1 436.6L1707.1 431.6L1707.1 441.6Z" fill="#22ee22"/>
<path d="M1699.1 441.6L1708.1 436.6L1708.1 446.6Z" fill="#22ee22"/>
<path d="M1700.4 436.6L1709.4 431.6L1709.4 441.6Z" fill="#22ee22"/>
<path d="M1701.5 425.5L1710.5 420.5L1710.5 430.5Z" fill="#22ee22"/>
<path d="M1701.8 446.4L1710.8 441.4L1710.8 451.4Z" fill="#22ee22"/>
<path d="M1702.7 422.6L1711.7 417.6L1711.7 427.6Z" fill="#22ee22"/>
<path d="M1703.5 421.2L1712.5 416.2L1712.5 426.2Z" fill="#22ee22"/>
<path d="M1706.8 424.6L1715.8 419.6L1715.8 429.6Z" fill="#22ee22"/>
<path d="M1713.2 451.6L1722.2 446.6L1722.2 456.6Z" fill="#22ee22"/>
<path d="M1715.1 440.1L1724.1 435.1L1724.1 445.1Z" fill="#22ee22"/>
<path d="M1717.6 440.1L1726.6 435.1L1726.6 445.1Z" fill="#22ee22"/>
<path d="M1719.4 431.7L1728.4 426.7L1728.4 436.7Z" fill="#22ee22"/>
<path d="M1720.2 446.5L1729.2 441.5L1729.2 451.5Z" fill="#22ee22"/>
<path d="M1720.7 451.2L1729.7 446.2L1729.7 456.2Z" fill="#22ee22"/>
<path d="M1722.6 444.9L1731.6 439.9L1731.6 449.9Z" fill="#22ee22"/>
<path d="M1717.0 423.7L1726.0 418.7L1726.0 428.7Z" fill="#22ee22"/>
<path d="M1718.6 485.8L1727.6 480.8L1727.6 490.8Z" fill="#22ee22"/>
<path d="M1721.1 452.4L1730.1 447.4L1730.1 457.4Z" fill="#22ee22"/>
<path d="M1723.2 415.6L1732.2 410.6L1732.2 420.6Z" fill="#22ee22"/>
<path d="M1725.9 334.5L1734.9 329.5L1734.9 339.5Z" fill="#22ee22"/>
<path d="M1726.4 302.9L1735.4 297.9L1735.4 307.9Z" fill="#22ee22"/>
<path d="M1728.0 394.1L1737.0 389.1L1737.0 399.1Z" fill="#22ee22"/>
<path d="M1731.2 351.9L1740.2 346.9L1740.2 356.9Z" fill="#22ee22"/>
<path d="M1732.9 358.6L1741.9 353.6L1741.9 363.6Z" fill="#22ee22"/>
<path d="M1735.4 402.9L1744.4 397.9L1744.4 407.9Z" fill="#22ee22"/>
<path d="M1737.9 377.0L1746.9 372.0L1746.9 382.0Z" fill="#22ee22"/>
<path d="M1738.1 384.3L1747.1 379.3L1747.1 389.3Z" fill="#22ee22"/>
<path d="M1739.3 351.4L1748.3 346.4L1748.3 356.4Z" fill="#22ee22"/>
<path d="M1741.1 322.1L1750.1 317.1L1750.1 327.1Z" fill="#22ee22"/>
<path d="M1744.3 368.7L1753.3 363.7L1753.3 373.7Z" fill="#22ee22"/>
<path d="M1746.1 292.3L1755.1 287.3L1755.1 297.3Z" fill="#22ee22"/>
<path d="M1746.4 325.7L1755.4 320.7L1755.4 330.7Z" fill="#22ee22"/>
<path d="M1748.1 353.3L1757.1 348.3L1757.1 358.3Z" fill="#22ee22"/>
<path d="M1750.5 371.1L1759.5 366.1L1759.5 376.1Z" fill="#22ee22"/>
<path d="M1752.8 378.3L1761.8 373.3L1761.8 383.3Z" fill="#22ee22"/>
<path d="M1756.1 353.8L1765.1 348.8L1765.1 358.8Z" fill="#22ee22"/>
<path d="M1756.4 307.0L1765.4 302.0L1765.4 312.0Z" fill="#22ee22"/>
<path d="M1758.7 374.3L1767.7 369.3L1767.7 379.3Z" fill="#22ee22"/>
<path d="M1761.6 379.6L1770.6 374.6L1770.6 384.6Z" fill="#22ee22"/>
<path d="M1763.2 373.3L1772.2 368.3L1772.2 378.3Z" fill="#22ee22"/>
<path d="M1763.6 318.6L1772.6 313.6L1772.6 323.6Z" fill="#22ee22"/>
<path d="M1765.1 313.4L1774.1 308.4L1774.1 318.4Z" fill="#22ee22"/>
<path d="M1766.8 357.6L1775.8 352.6L1775.8 362.6Z" fill="#22ee22"/>
<path d="M1768.4 372.9L1777.4 367.9L1777.4 377.9Z" fill="#22ee22"/>
<path d="M1769.3 278.6L1778.3 273.6L1778.3 283.6Z" fill="#22ee22"/>
<path d="M1770.9 343.3L1779.9 338.3L1779.9 348.3Z" fill="#22ee22"/>
<path d="M1773.0 390.9L1782.0 385.9L1782.0 395.9Z" fill="#22ee22"/>
<path d="M1775.0 321.4L1784.0 316.4L1784.0 326.4Z" fill="#22ee22"/>
<path d="M1776.1 358.9L1785.1 353.9L1785.1 363.9Z" fill="#22ee22"/>
<path d="M1779.2 351.6L1788.2 346.6L1788.2 356.6Z" fill="#22ee22"/>
<path d="M1782.0 493.4L1791.0 488.4L1791.0 498.4Z" fill="#22ee22"/>
<path d="M1784.9 446.1L1793.9 441.1L1793.9 451.1Z" fill="#22ee22"/>
<path d="M1787.8 419.0L1796.8 414.0L1796.8 424.0Z" fill="#22ee22"/>
<path d="M1790.0 491.6L1799.0 486.6L1799.0 496.6Z" fill="#22ee22"/>
<path d="M1792.8 456.3L1801.8 451.3L1801.8 461.3Z" fill="#22ee22"/>
<path d="M1797.0 495.2L1806.0 490.2L1806.0 500.2Z" fill="#22ee22"/>
<path d="M1800.7 529.6L1809.7 524.6L1809.7 534.6Z" fill="#22ee22"/>
<path d="M1802.8 537.4L1811.8 532.4L1811.8 542.4Z" fill="#22ee22"/>
<path d="M1803.6 511.4L1812.6 506.4L1812.6 516.4Z" fill="#22ee22"/>
<path d="M1805.9 528.4L1814.9 523.4L1814.9 533.4Z" fill="#22ee22"/>
<path d="M1808.7 476.4L1817.7 471.4L1817.7 481.4Z" fill="#22ee22"/>
<path d="M1809.3 517.0L1818.3 512.0L1818.3 522.0Z" fill="#22ee22"/>
<path d="M1810.8 521.7L1819.8 516.7L1819.8 526.7Z" fill="#22ee22"/>
<path d="M1814.3 544.5L1823.3 539.5L1823.3 549.5Z" fill="#22ee22"/>
<path d="M1815.0 531.4L1824.0 526.4L1824.0 536.4Z" fill="#22ee22"/>
<path d="M1818.2 528.4L1827.2 523.4L1827.2 533.4Z" fill="#22ee22"/>
<path d="M1822.1 520.5L1831.1 515.5L1831.1 525.5Z" fill="#22ee22"/>
<path d="M1823.6 477.0L1832.6 472.0L1832.6 482.0Z" fill="#22ee22"/>
<path d="M1825.5 544.0L1834.5 539.0L1834.5 549.0Z" fill="#22ee22"/>
<path d="M1827.7 476.1L1836.7 471.1L1836.7 481.1Z" fill="#22ee22"/>
<path d="M1830.8 541.2L1839.8 536.2L1839.8 546.2Z" fill="#22ee22"/>
<path d="M1834.2 516.7L1843.2 511.7L1843.2 521.7Z" fill="#22ee22"/>
<path d="M1835.0 494.3L1844.0 489.3L1844.0 499.3Z" fill="#22ee22"/>
<path d="M1836.3 540.8L1845.3 535.8L1845.3 545.8Z" fill="#22ee22"/>
<path d="M1838.5 500.0L1847.5 495.0L1847.5 505.0Z" fill="#22ee22"/>
<path d="M1841.1 547.3L1850.1 542.3L1850.1 552.3Z" fill="#22ee22"/>
<path d="M1844.8 554.1L1853.8 549.1L1853.8 559.1Z" fill="#22ee22"/>
<path d="M1847.9 547.6L1856.9 542.6L1856.9 552.6Z" fill="#22ee22"/>
<path d="M1850.3 503.7L1859.3 498.7L1859.3 508.7Z" fill="#22ee22"/>
<path d="M1852.0 514.3L1861.0 509.3L1861.0 519.3Z" fill="#22ee22"/>
<path d="M1853.7 554.2L1862.7 549.2L1862.7 559.2Z" fill="#22ee22"/>
<path d="M1856.0 560.6L1865.0 555.6L1865.0 565.6Z" fill="#22ee22"/>
<path d="M1857.9 534.3L1866.9 529.3L1866.9 539.3Z" fill="#22ee22"/>
<path d="M1859.3 522.6L1868.3 517.6L1868.3 527.6Z" fill="#22ee22"/>
<path d="M1861.0 553.9L1870.0 548.9L1870.0 558.9Z" fill="#22ee22"/>
<path d="M1864.1 563.0L1873.1 558.0L1873.1 568.0Z" fill="#22ee22"/>
<path d="M1866.6 567.0L1875.6 562.0L1875.6 572.0Z" fill="#22ee22"/>
<path d="M1869.2 528.4L1878.2 523.4L1878.2 533.4Z" fill="#22ee22"/>
<path d="M1871.5 571.5L1880.5 566.5L1880.5 576.5Z" fill="#22ee22"/>
<path d="M1872.0 505.7L1881.0 500.7L1881.0 510.7Z" fill="#22ee22"/>
<path d="M1874.2 564.9L1883.2 559.9L1883.2 569.9Z" fill="#22ee22"/>
<path d="M1875.0 520.0L1884.0 515.0L1884.0 525.0Z" fill="#22ee22"/>
<path d="M1877.9 548.6L1886.9 543.6L1886.9 553.6Z" fill="#22ee22"/>
<path d="M1878.1 497.5L1887.1 492.5L1887.1 502.5Z" fill="#22ee22"/>
<path d="M1881.7 553.4L1890.7 548.4L1890.7 558.4Z" fill="#22ee22"/>
<path d="M1883.5 506.0L1892.5 501.0L1892.5 511.0Z" fill="#22ee22"/>
<path d="M1883.6 560.0L1892.6 555.0L1892.6 565.0Z" fill="#22ee22"/>
<path d="M1885.0 577.0L1894.0 572.0L1894.0 582.0Z" fill="#22ee22"/>
<path d="M1885.9 549.1L1894.9 544.1L1894.9 554.1Z" fill="#22ee22"/>
<path d="M1891.0 356.0L1900.0 351.0L1900.0 361.0Z" fill="#22ee22"/>
<path d="M1893.1 519.0L1902.1 514.0L1902.1 524.0Z" fill="#22ee22"/>
<path d="M1893.6 398.6L1902.6 393.6L1902.6 403.6Z" fill="#22ee22"/>
<path d="M1894.2 329.4L1903.2 324.4L1903.2 334.4Z" fill="#22ee22"/>
<path d="M1895.8 497.2L1904.8 492.2L1904.8 502.2Z" fill="#22ee22"/>
<path d="M1897.0 393.6L1906.0 388.6L1906.0 398.6Z" fill="#22ee22"/>
<path d="M1897.9 531.4L1906.9 526.4L1906.9 536.4Z" fill="#22ee22"/>
<path d="M1899.1 480.4L1908.1 475.4L1908.1 485.4Z" fill="#22ee22"/>
<path d="M1900.7 448.6L1909.7 443.6L1909.7 453.6Z" fill="#22ee22"/>
<path d="M1901.1 324.8L1910.1 319.8L1910.1 329.8Z" fill="#22ee22"/>
<path d="M1902.8 444.8L1911.8 439.8L1911.8 449.8Z" fill="#22ee22"/>
<path d="M1904.0 344.1L1913.0 339.1L1913.0 349.1Z" fill="#22ee22"/>
<path d="M1905.0 528.7L1914.0 523.7L1914.0 533.7Z" fill="#22ee22"/>
<path d="M1906.4 345.7L1915.4 340.7L1915.4 350.7Z" fill="#22ee22"/>
<path d="M1906.9 310.9L1915.9 305.9L1915.9 315.9Z" fill="#22ee22"/>
<path d="M1908.5 483.9L1917.5 478.9L1917.5 488.9Z" fill="#22ee22"/>
<path d="M1910.3 361.1L1919.3 356.1L1919.3 366.1Z" fill="#22ee22"/>
<path d="M1911.5 499.7L1920.5 494.7L1920.5 504.7Z" fill="#22ee22"/>
<path d="M1912.0 383.0L1921.0 378.0L1921.0 388.0Z" fill="#22ee22"/>
<path d="M1912.6 445.9L1921.6 440.9L1921.6 450.9Z" fill="#22ee22"/>
<path d="M1914.7 461.4L1923.7 456.4L1923.7 466.4Z" fill="#22ee22"/>
<path d="M1916.4 274.3L1925.4 269.3L1925.4 279.3Z" fill="#22ee22"/>
<path d="M1916.7 466.3L1925.7 461.3L1925.7 471.3Z" fill="#22ee22"/>
<path d="M1918.6 411.1L1927.6 406.1L1927.6 416.1Z" fill="#22ee22"/>
<path d="M1920.7 489.7L1929.7 484.7L1929.7 494.7Z" fill="#22ee22"/>
<path d="M1920.7 508.6L1929.7 503.6L1929.7 513.6Z" fill="#22ee22"/>
<path d="M1922.2 480.6L1931.2 475.6L1931.2 485.6Z" fill="#22ee22"/>
<path d="M1923.3 276.1L1932.3 271.1L1932.3 281.1Z" fill="#22ee22"/>
<path d="M1923.6 297.0L1932.6 292.0L1932.6 302.0Z" fill="#22ee22"/>
<path d="M1923.6 318.6L1932.6 313.6L1932.6 323.6Z" fill="#22ee22"/>
<path d="M1925.4 524.9L1934.4 519.9L1934.4 529.9Z" fill="#22ee22"/>
<path d="M1927.4 523.6L1936.4 518.6L1936.4 528.6Z" fill="#22ee22"/>
<path d="M1928.5 475.8L1937.5 470.8L1937.5 480.8Z" fill="#22ee22"/>
<path d="M1929.3 525.7L1938.3 520.7L1938.3 530.7Z" fill="#22ee22"/>
<path d="M1929.5 325.6L1938.5 320.6L1938.5 330.6Z" fill="#22ee22"/>
<path d="M1930.7 327.0L1939.7 322.0L1939.7 332.0Z" fill="#22ee22"/>
<path d="M1931.4 407.8L1940.4 402.8L1940.4 412.8Z" fill="#22ee22"/>
<path d="M1932.5 445.3L1941.5 440.3L1941.5 450.3Z" fill="#22ee22"/>
<path d="M1934.4 422.5L1943.4 417.5L1943.4 427.5Z" fill="#22ee22"/>
<path d="M1935.0 298.6L1944.0 293.6L1944.0 303.6Z" fill="#22ee22"/>
<path d="M1935.0 360.0L1944.0 355.0L1944.0 365.0Z" fill="#22ee22"/>
<path d="M1935.0 454.3L1944.0 449.3L1944.0 459.3Z" fill="#22ee22"/>
<path d="M1935.7 370.3L1944.7 365.3L1944.7 375.3Z" fill="#22ee22"/>
<path d="M1937.5 415.8L1946.5 410.8L1946.5 420.8Z" fill="#22ee22"/>
<path d="M1938.9 527.6L1947.9 522.6L1947.9 532.6Z" fill="#22ee22"/>
<rect x="128" y="60" width="146" height="330" fill="#fff" stroke="#000" stroke-width="2.2"/>
<text x="132.30" y="92.49" font-size="29.09" textLength="131.26" lengthAdjust="spacingAndGlyphs" fill="#000" class="R" >Time [ms]</text>
<text x="202.09" y="128.21" font-size="29.01" textLength="31.48" lengthAdjust="spacingAndGlyphs" fill="#000" class="R" >62</text>
<circle cx="164.3" cy="119.7" r="3.0" fill="#fff" stroke="#000" stroke-width="1.3"/>
<text x="202.09" y="164.67" font-size="29.86" textLength="31.48" lengthAdjust="spacingAndGlyphs" fill="#000" class="R" >71</text>
<path d="M164.3 151.9L168.3 159.1L160.3 159.1Z" fill="#e00000"/>
<text x="202.68" y="200.55" font-size="29.01" textLength="30.59" lengthAdjust="spacingAndGlyphs" fill="#000" class="B" >81</text>
<line x1="133.50" y1="192.54" x2="192.00" y2="192.54" stroke="#000" stroke-width="1.8"/>
<circle cx="164.3" cy="192.0" r="5.0" fill="#000040" stroke="#000" stroke-width="1"/><circle cx="162.8" cy="190.5" r="1.7" fill="#fff" fill-opacity="0.85"/>
<text x="202.23" y="236.72" font-size="29.01" textLength="31.48" lengthAdjust="spacingAndGlyphs" fill="#000" class="R" >86</text>
<path d="M164.3 232.2L168.3 225.0L160.3 225.0Z" fill="#0000c0"/>
<text x="202.23" y="272.89" font-size="29.01" textLength="31.48" lengthAdjust="spacingAndGlyphs" fill="#000" class="R" >92</text>
<path d="M164.3 258.9L169.3 264.4L164.3 269.9L159.3 264.4Z" fill="#ff00ff"/>
<text x="201.85" y="309.06" font-size="29.01" textLength="45.88" lengthAdjust="spacingAndGlyphs" fill="#d00000" class="B" >100</text>
<path d="M159.8 300.6L167.9 296.1L167.9 305.1Z" fill="#006868"/>
<text x="201.38" y="345.23" font-size="29.01" textLength="47.22" lengthAdjust="spacingAndGlyphs" fill="#000" class="R" >105</text>
<rect x="161.1" y="333.5" width="6.5" height="6.5" fill="#000"/>
<text x="201.38" y="381.69" font-size="29.43" textLength="45.12" lengthAdjust="spacingAndGlyphs" fill="#000" class="R" >112</text>
<path d="M160.3 368.9L168.3 368.9L168.3 373.7L164.3 376.9L160.3 373.7Z" fill="#5000ff"/>
<rect x="1837" y="1.5" width="153" height="233.5" fill="#fff" stroke="#000" stroke-width="2.2"/>
<text x="1849.38" y="36.17" font-size="28.24" textLength="135.76" lengthAdjust="spacingAndGlyphs" fill="#000" class="R" >Time [ms]</text>
<text x="1915.59" y="73.80" font-size="29.58" textLength="31.48" lengthAdjust="spacingAndGlyphs" fill="#000" class="R" >62</text>
<line x1="1851.00" y1="66.00" x2="1907.00" y2="66.00" stroke="#000" stroke-width="2"/>
<rect x="1875.8" y="61.8" width="8.5" height="8.5" fill="#ee0000"/>
<text x="1915.59" y="111.50" font-size="30.43" textLength="31.48" lengthAdjust="spacingAndGlyphs" fill="#000" class="R" >71</text>
<line x1="1851.00" y1="103.30" x2="1907.00" y2="103.30" stroke="#000" stroke-width="2"/>
<path d="M1880.0 98.3L1884.5 103.3L1880.0 108.2L1875.5 103.3Z" fill="#0000dd"/>
<text x="1916.17" y="148.60" font-size="29.58" textLength="30.59" lengthAdjust="spacingAndGlyphs" fill="#000" class="B" >81</text>
<line x1="1851.00" y1="140.60" x2="1907.00" y2="140.60" stroke="#000" stroke-width="2"/>
<circle cx="1880.0" cy="140.6" r="6.0" fill="#680078" stroke="#000" stroke-width="1.2"/><circle cx="1878.2" cy="138.8" r="2.0" fill="#fff" fill-opacity="0.85"/>
<text x="1915.73" y="186.00" font-size="29.58" textLength="31.48" lengthAdjust="spacingAndGlyphs" fill="#000" class="R" >86</text>
<line x1="1851.00" y1="177.90" x2="1907.00" y2="177.90" stroke="#000" stroke-width="2"/>
<path d="M1880.0 182.9L1885.0 173.9L1875.0 173.9Z" fill="#ff7010"/>
<text x="1915.73" y="223.40" font-size="29.58" textLength="31.48" lengthAdjust="spacingAndGlyphs" fill="#000" class="R" >92</text>
<line x1="1851.00" y1="215.20" x2="1907.00" y2="215.20" stroke="#000" stroke-width="2"/>
<path d="M1875.0 215.2L1884.0 210.2L1884.0 220.2Z" fill="#20ff20"/>
</svg></body></html>
